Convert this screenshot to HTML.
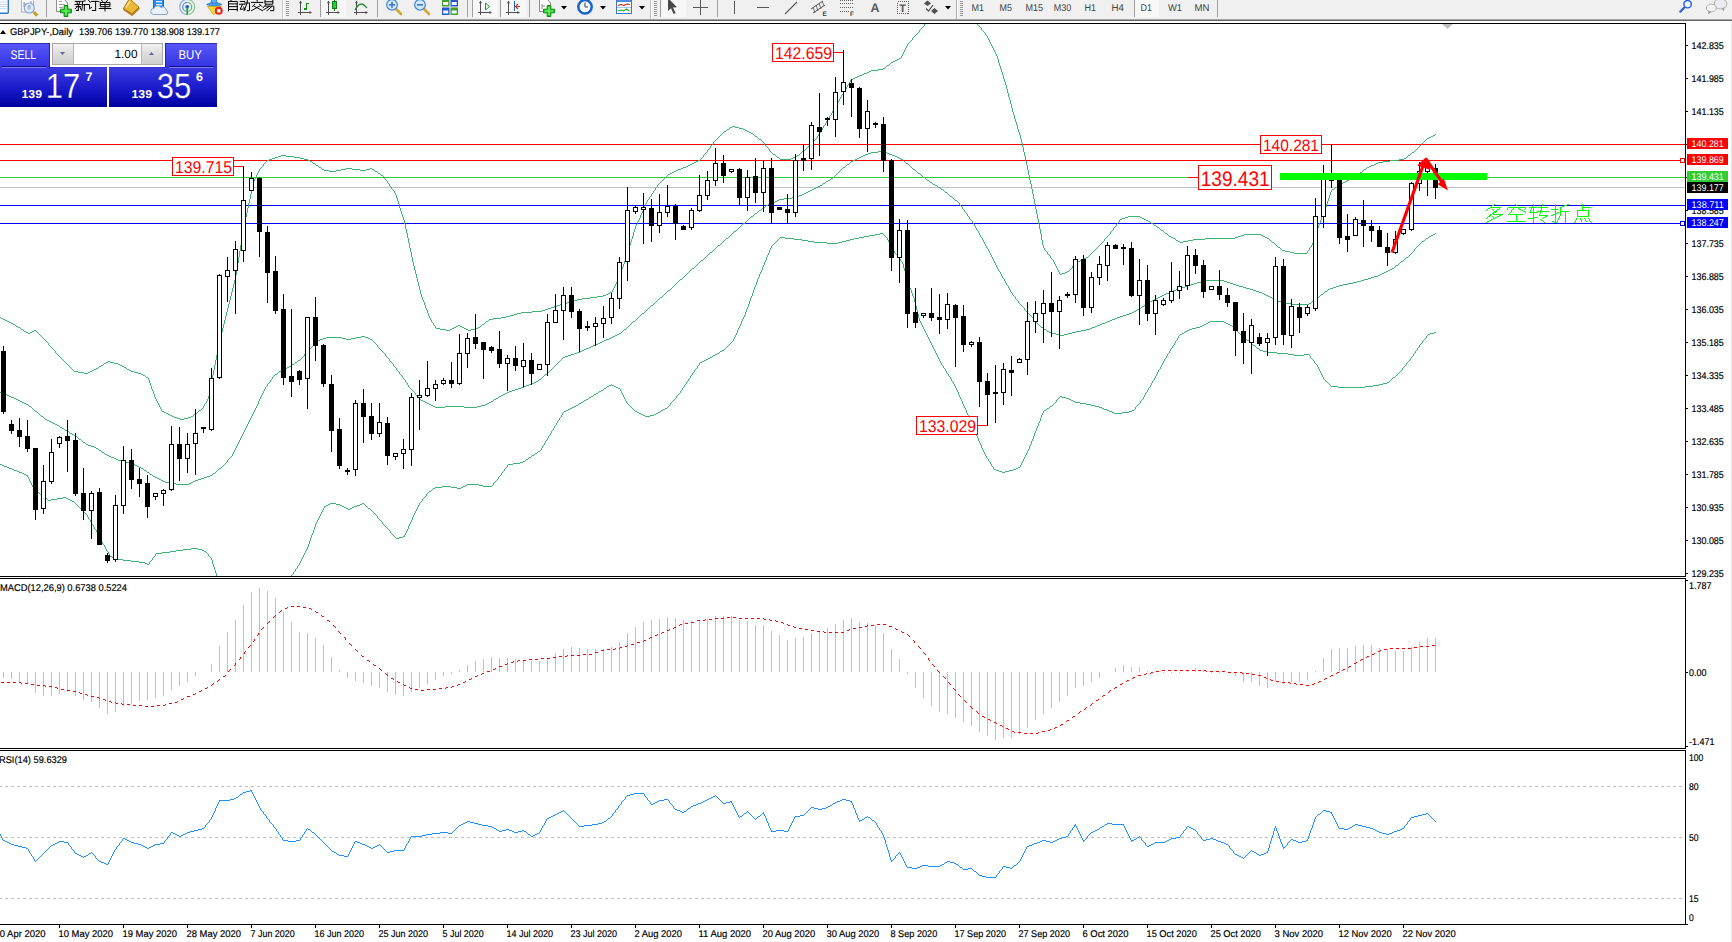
<!DOCTYPE html>
<html><head><meta charset="utf-8"><title>GBPJPY Daily</title>
<style>html,body{margin:0;padding:0;background:#fff;width:1732px;height:942px;overflow:hidden;font-family:"Liberation Sans",sans-serif}</style>
</head><body>
<svg width="1732" height="942" viewBox="0 0 1732 942" font-family="Liberation Sans, sans-serif" text-rendering="geometricPrecision" style="display:block">
<defs><clipPath id="mainclip"><rect x="0" y="24" width="1685" height="552"/></clipPath></defs>
<g shape-rendering="crispEdges">
<rect x="0" y="144" width="1685" height="1" fill="#ff0000" />
<rect x="0" y="160" width="1685" height="1" fill="#ff0000" />
<rect x="0" y="177" width="1188" height="1" fill="#32cd32" />
<rect x="1487" y="177" width="198" height="1" fill="#32cd32" />
<rect x="0" y="187" width="1685" height="1" fill="#c0c0c0" />
<rect x="0" y="205" width="1685" height="1" fill="#0000ff" />
<rect x="0" y="223" width="1685" height="1" fill="#0000ff" />
</g>
<path d="M868 153h3v1h-3zM887 153h2v1h-2zM84 373h4v1h-4zM138 373h3v1h-3zM802 151h2v1h-2zM878 151h6v1h-6zM21 329h2v1h-2zM440 329h6v1h-6zM450 329h2v1h-2zM466 329h2v1h-2zM471 329h4v1h-4zM624 329h2v1h-2zM1044 329h2v1h-2zM1086 329h4v1h-4zM1189 329h3v1h-3zM802 194h2v1h-2zM586 348h3v1h-3zM1257 348h2v1h-2zM560 304h4v1h-4zM1145 304h2v1h-2zM1291 304h18v1h-18zM122 461h4v1h-4zM523 461h2v1h-2zM62 428h2v1h-2zM24 331h2v1h-2zM32 331h2v1h-2zM1047 331h2v1h-2zM1076 331h5v1h-5zM1185 331h2v1h-2zM12 469h2v1h-2zM994 469h2v1h-2zM1013 469h3v1h-3zM99 450h2v1h-2zM751 216h2v1h-2zM1128 216h12v1h-12zM281 155h5v1h-5zM797 155h2v1h-2zM863 155h2v1h-2zM892 155h3v1h-3zM1408 155h2v1h-2zM11 397h3v1h-3zM589 397h2v1h-2zM1062 397h4v1h-4zM458 325h2v1h-2zM1097 325h3v1h-3zM1202 325h2v1h-2zM1230 325h2v1h-2zM770 203h2v1h-2zM0 392h2v1h-2zM507 392h2v1h-2zM880 233h3v1h-3zM1165 233h2v1h-2zM323 338h3v1h-3zM342 338h4v1h-4zM351 338h5v1h-5zM368 338h2v1h-2zM609 338h2v1h-2zM1120 219h2v1h-2zM1144 219h2v1h-2zM7 321h2v1h-2zM486 321h2v1h-2zM633 321h2v1h-2zM1107 321h3v1h-3zM1210 321h14v1h-14zM14 398h2v1h-2zM496 398h2v1h-2zM1066 398h3v1h-3zM591 346h2v1h-2zM1148 221h2v1h-2zM55 424h2v1h-2zM41 416h2v1h-2zM172 416h2v1h-2zM191 416h2v1h-2zM645 416h5v1h-5zM1388 270h2v1h-2zM608 293h2v1h-2zM1166 293h3v1h-3zM1262 293h2v1h-2zM11 323h2v1h-2zM1102 323h3v1h-3zM1206 323h2v1h-2zM1226 323h2v1h-2zM267 160h2v1h-2zM308 160h2v1h-2zM698 160h2v1h-2zM853 160h2v1h-2zM1390 160h9v1h-9zM1378 275h2v1h-2zM106 362h2v1h-2zM110 362h4v1h-4zM295 362h2v1h-2zM700 362h2v1h-2zM166 413h2v1h-2zM195 413h2v1h-2zM639 413h2v1h-2zM656 413h2v1h-2zM1114 413h8v1h-8zM1194 283h3v1h-3zM1230 283h3v1h-3zM1348 283h5v1h-5zM16 399h2v1h-2zM494 399h2v1h-2zM586 399h2v1h-2zM1069 399h2v1h-2zM126 462h4v1h-4zM520 462h3v1h-3zM24 403h2v1h-2zM427 403h2v1h-2zM487 403h2v1h-2zM579 403h2v1h-2zM1080 403h6v1h-6zM580 351h2v1h-2zM720 351h2v1h-2zM1263 351h4v1h-4zM1171 291h2v1h-2zM1256 291h3v1h-3zM1325 291h2v1h-2zM595 344h3v1h-3zM524 386h2v1h-2zM607 386h2v1h-2zM614 386h2v1h-2zM1331 386h7v1h-7zM1365 386h8v1h-8zM887 65h2v1h-2zM1062 273h3v1h-3zM1382 273h2v1h-2zM164 412h2v1h-2zM637 412h2v1h-2zM658 412h2v1h-2zM1112 412h2v1h-2zM1122 412h7v1h-7zM582 298h8v1h-8zM1156 298h2v1h-2zM1272 298h2v1h-2zM780 237h5v1h-5zM859 237h5v1h-5zM1171 237h2v1h-2zM1235 237h3v1h-3zM1265 237h2v1h-2zM871 152h7v1h-7zM884 152h3v1h-3zM1412 152h2v1h-2zM17 471h2v1h-2zM999 471h3v1h-3zM1005 471h4v1h-4zM568 409h2v1h-2zM663 409h2v1h-2zM1104 409h3v1h-3zM577 299h5v1h-5zM1154 299h2v1h-2zM1274 299h2v1h-2zM1176 289h3v1h-3zM1250 289h3v1h-3zM1328 289h2v1h-2zM29 406h2v1h-2zM433 406h2v1h-2zM445 406h19v1h-19zM477 406h4v1h-4zM574 406h2v1h-2zM1050 406h2v1h-2zM1095 406h4v1h-4zM442 486h9v1h-9zM463 486h2v1h-2zM483 486h9v1h-9zM749 132h2v1h-2zM65 430h2v1h-2zM574 353h3v1h-3zM717 353h2v1h-2zM1277 353h11v1h-11zM567 302h3v1h-3zM1148 302h2v1h-2zM1281 302h5v1h-5zM501 317h5v1h-5zM1117 317h3v1h-3zM597 296h6v1h-6zM1160 296h2v1h-2zM1268 296h2v1h-2zM176 550h7v1h-7zM202 550h2v1h-2zM156 553h6v1h-6zM94 369h2v1h-2zM127 369h2v1h-2zM283 369h2v1h-2zM16 326h2v1h-2zM456 326h2v1h-2zM460 326h2v1h-2zM1095 326h2v1h-2zM1200 326h2v1h-2zM115 558h3v1h-3zM1082 259h2v1h-2zM779 199h5v1h-5zM816 187h2v1h-2zM938 187h2v1h-2zM1335 187h2v1h-2zM436 328h4v1h-4zM452 328h2v1h-2zM464 328h2v1h-2zM475 328h3v1h-3zM1090 328h2v1h-2zM1192 328h4v1h-4zM551 307h3v1h-3zM923 177h2v1h-2zM1353 177h2v1h-2zM1078 261h2v1h-2zM1401 261h2v1h-2zM804 193h2v1h-2zM361 336h4v1h-4zM613 336h2v1h-2zM1349 179h2v1h-2zM755 213h2v1h-2zM512 390h3v1h-3zM601 390h2v1h-2zM118 559h5v1h-5zM701 260h2v1h-2zM1080 260h2v1h-2zM1205 280h19v1h-19zM1361 280h3v1h-3zM593 345h2v1h-2zM1253 345h2v1h-2zM324 170h5v1h-5zM336 170h5v1h-5zM360 170h6v1h-6zM676 170h2v1h-2zM1185 286h3v1h-3zM1239 286h4v1h-4zM1336 286h3v1h-3zM18 327h2v1h-2zM454 327h2v1h-2zM462 327h2v1h-2zM478 327h2v1h-2zM1041 327h2v1h-2zM1092 327h3v1h-3zM1196 327h4v1h-4zM326 337h16v1h-16zM356 337h5v1h-5zM365 337h3v1h-3zM611 337h2v1h-2zM26 475h2v1h-2zM210 475h2v1h-2zM584 349h2v1h-2zM20 401h2v1h-2zM423 401h2v1h-2zM491 401h2v1h-2zM1073 401h2v1h-2zM168 414h2v1h-2zM641 414h2v1h-2zM654 414h2v1h-2zM275 157h3v1h-3zM294 157h6v1h-6zM777 157h2v1h-2zM793 157h2v1h-2zM859 157h2v1h-2zM897 157h2v1h-2zM514 314h3v1h-3zM1126 314h3v1h-3zM118 460h4v1h-4zM615 335h2v1h-2zM1060 335h4v1h-4zM111 457h3v1h-3zM529 457h2v1h-2zM22 402h2v1h-2zM425 402h2v1h-2zM489 402h2v1h-2zM581 402h2v1h-2zM1075 402h5v1h-5zM435 407h10v1h-10zM464 407h13v1h-13zM572 407h2v1h-2zM1099 407h3v1h-3zM96 368h2v1h-2zM285 368h2v1h-2zM1191 284h3v1h-3zM1233 284h3v1h-3zM1343 284h5v1h-5zM199 410h2v1h-2zM566 410h2v1h-2zM661 410h2v1h-2zM1044 410h2v1h-2zM1107 410h2v1h-2zM1132 410h2v1h-2zM826 181h2v1h-2zM1345 181h2v1h-2zM298 360h2v1h-2zM704 360h2v1h-2zM313 163h2v1h-2zM692 163h2v1h-2zM906 163h2v1h-2zM1376 163h2v1h-2zM1197 282h4v1h-4zM1227 282h3v1h-3zM1353 282h4v1h-4zM1182 287h3v1h-3zM1243 287h3v1h-3zM1333 287h3v1h-3zM933 184h2v1h-2zM1390 269h2v1h-2zM159 479h2v1h-2zM198 479h3v1h-3zM1067 271h2v1h-2zM1386 271h2v1h-2zM183 549h8v1h-8zM198 549h4v1h-4zM18 400h2v1h-2zM421 400h2v1h-2zM584 400h2v1h-2zM1071 400h2v1h-2zM808 241h6v1h-6zM842 241h4v1h-4zM1178 241h2v1h-2zM1183 241h5v1h-5zM1422 241h2v1h-2zM174 417h3v1h-3zM188 417h3v1h-3zM35 411h2v1h-2zM162 411h2v1h-2zM564 411h2v1h-2zM635 411h2v1h-2zM1109 411h3v1h-3zM1129 411h3v1h-3zM570 408h2v1h-2zM665 408h2v1h-2zM1047 408h2v1h-2zM1102 408h2v1h-2zM603 295h3v1h-3zM1162 295h2v1h-2zM1266 295h2v1h-2zM726 238h2v1h-2zM785 238h9v1h-9zM854 238h5v1h-5zM1173 238h2v1h-2zM1205 238h30v1h-30zM1267 238h2v1h-2zM1426 238h2v1h-2zM176 484h13v1h-13zM467 484h12v1h-12zM78 372h6v1h-6zM88 372h2v1h-2zM134 372h4v1h-4zM1396 265h2v1h-2zM534 382h2v1h-2zM1387 382h2v1h-2zM45 498h2v1h-2zM57 498h6v1h-6zM66 498h2v1h-2zM139 562h6v1h-6zM794 239h8v1h-8zM850 239h4v1h-4zM1193 239h12v1h-12zM810 190h2v1h-2zM814 242h13v1h-13zM838 242h4v1h-4zM1180 242h3v1h-3zM1272 242h2v1h-2zM1282 250h3v1h-3zM2 393h2v1h-2zM505 393h2v1h-2zM596 393h2v1h-2zM272 158h3v1h-3zM300 158h4v1h-4zM791 158h2v1h-2zM857 158h2v1h-2zM899 158h2v1h-2zM1404 158h2v1h-2zM680 279h2v1h-2zM1364 279h4v1h-4zM1125 217h3v1h-3zM1140 217h2v1h-2zM34 330h2v1h-2zM446 330h4v1h-4zM468 330h3v1h-3zM1081 330h5v1h-5zM1187 330h2v1h-2zM509 391h3v1h-3zM599 391h2v1h-2zM692 268h2v1h-2zM1392 268h2v1h-2zM1294 253h13v1h-13zM114 458h2v1h-2zM869 235h6v1h-6zM1241 235h3v1h-3zM1261 235h2v1h-2zM1431 235h2v1h-2zM19 472h3v1h-3zM147 472h2v1h-2zM1002 472h3v1h-3zM743 223h2v1h-2zM1151 223h2v1h-2zM0 464h2v1h-2zM133 464h2v1h-2zM508 464h5v1h-5zM574 300h3v1h-3zM1152 300h2v1h-2zM1276 300h2v1h-2zM1313 300h2v1h-2zM431 405h2v1h-2zM481 405h4v1h-4zM576 405h2v1h-2zM1091 405h4v1h-4zM538 451h2v1h-2zM105 454h2v1h-2zM526 385h3v1h-3zM609 385h2v1h-2zM612 385h2v1h-2zM1373 385h6v1h-6zM734 231h2v1h-2zM563 357h2v1h-2zM710 357h2v1h-2zM49 421h2v1h-2zM322 169h2v1h-2zM341 169h5v1h-5zM352 169h8v1h-8zM366 169h4v1h-4zM372 169h2v1h-2zM678 169h3v1h-3zM913 169h2v1h-2zM1364 169h2v1h-2zM532 311h10v1h-10zM1134 311h2v1h-2zM871 70h7v1h-7zM1368 278h3v1h-3zM177 418h3v1h-3zM184 418h4v1h-4zM170 483h6v1h-6zM189 483h2v1h-2zM1179 288h3v1h-3zM1246 288h4v1h-4zM1330 288h3v1h-3zM155 477h2v1h-2zM204 477h3v1h-3zM568 355h3v1h-3zM713 355h2v1h-2zM1294 355h10v1h-10zM814 188h2v1h-2zM606 294h2v1h-2zM1164 294h2v1h-2zM1264 294h2v1h-2zM1321 294h2v1h-2zM399 537h4v1h-4zM124 367h2v1h-2zM287 367h2v1h-2zM74 371h4v1h-4zM90 371h2v1h-2zM131 371h3v1h-3zM279 371h2v1h-2zM429 491h2v1h-2zM806 192h2v1h-2zM945 192h2v1h-2zM727 129h2v1h-2zM743 129h2v1h-2zM1084 258h2v1h-2zM797 196h2v1h-2zM950 196h2v1h-2zM772 202h3v1h-3zM63 497h3v1h-3zM1285 251h5v1h-5zM510 315h4v1h-4zM1123 315h3v1h-3zM131 561h8v1h-8zM1060 274h2v1h-2zM1380 274h2v1h-2zM529 384h2v1h-2zM1379 384h4v1h-4zM773 154h2v1h-2zM865 154h3v1h-3zM889 154h3v1h-3zM320 339h3v1h-3zM346 339h5v1h-5zM370 339h2v1h-2zM606 339h3v1h-3zM9 468h3v1h-3zM141 468h2v1h-2zM219 468h2v1h-2zM1016 468h2v1h-2zM26 332h2v1h-2zM30 332h2v1h-2zM1049 332h3v1h-3zM1072 332h4v1h-4zM1434 332h2v1h-2zM316 165h2v1h-2zM688 165h2v1h-2zM1371 165h3v1h-3zM319 167h2v1h-2zM683 167h3v1h-3zM843 167h2v1h-2zM1367 167h2v1h-2zM99 366h2v1h-2zM122 366h2v1h-2zM289 366h2v1h-2zM4 466h3v1h-3zM137 466h2v1h-2zM718 245h2v1h-2zM9 396h2v1h-2zM499 396h2v1h-2zM591 396h2v1h-2zM1060 396h2v1h-2zM708 358h2v1h-2zM521 312h11v1h-11zM1132 312h2v1h-2zM571 354h3v1h-3zM715 354h2v1h-2zM1288 354h6v1h-6zM1304 354h5v1h-5zM739 128h4v1h-4zM668 290h2v1h-2zM1173 290h3v1h-3zM1253 290h3v1h-3zM766 205h2v1h-2zM170 551h6v1h-6zM204 551h2v1h-2zM864 236h5v1h-5zM1169 236h2v1h-2zM1238 236h3v1h-3zM1263 236h2v1h-2zM1429 236h2v1h-2zM610 292h2v1h-2zM1169 292h2v1h-2zM1259 292h3v1h-3zM435 487h7v1h-7zM451 487h6v1h-6zM461 487h2v1h-2zM518 388h3v1h-3zM604 388h2v1h-2zM618 388h2v1h-2zM1076 262h2v1h-2zM1 318h2v1h-2zM493 318h8v1h-8zM1115 318h2v1h-2zM545 309h3v1h-3zM1137 309h2v1h-2zM346 508h2v1h-2zM350 508h2v1h-2zM368 508h2v1h-2zM784 198h8v1h-8zM589 347h2v1h-2zM755 136h2v1h-2zM1431 136h2v1h-2zM433 488h2v1h-2zM457 488h4v1h-4zM324 506h2v1h-2zM342 506h2v1h-2zM354 506h3v1h-3zM13 324h2v1h-2zM482 324h2v1h-2zM1100 324h2v1h-2zM1204 324h2v1h-2zM1228 324h2v1h-2zM775 201h2v1h-2zM92 370h2v1h-2zM129 370h2v1h-2zM281 370h2v1h-2zM710 252h2v1h-2zM1290 252h4v1h-4zM1201 281h4v1h-4zM1224 281h3v1h-3zM1357 281h4v1h-4zM329 171h7v1h-7zM375 171h2v1h-2zM674 171h2v1h-2zM310 161h2v1h-2zM696 161h2v1h-2zM851 161h2v1h-2zM1383 161h7v1h-7zM28 333h2v1h-2zM619 333h2v1h-2zM1052 333h4v1h-4zM1068 333h4v1h-4zM1182 333h2v1h-2zM1430 333h4v1h-4zM521 387h3v1h-3zM616 387h2v1h-2zM1338 387h27v1h-27zM396 538h3v1h-3zM828 180h2v1h-2zM927 180h2v1h-2zM1347 180h2v1h-2zM706 359h2v1h-2zM14 470h3v1h-3zM144 470h2v1h-2zM996 470h3v1h-3zM1009 470h4v1h-4zM577 352h3v1h-3zM1267 352h10v1h-10zM7 467h2v1h-2zM139 467h2v1h-2zM1018 467h2v1h-2zM112 557h3v1h-3zM799 195h3v1h-3zM1429 137h2v1h-2zM582 350h2v1h-2zM722 350h2v1h-2zM1260 350h3v1h-3zM812 189h2v1h-2zM941 189h2v1h-2zM1332 189h2v1h-2zM515 389h3v1h-3zM4 394h3v1h-3zM503 394h2v1h-2zM594 394h2v1h-2zM875 234h5v1h-5zM1244 234h17v1h-17zM1433 234h2v1h-2zM328 504h2v1h-2zM336 504h4v1h-4zM360 504h2v1h-2zM278 156h3v1h-3zM286 156h8v1h-8zM795 156h2v1h-2zM861 156h2v1h-2zM895 156h2v1h-2zM763 207h2v1h-2zM123 560h8v1h-8zM141 374h2v1h-2zM275 374h2v1h-2zM545 374h2v1h-2zM94 447h2v1h-2zM24 474h2v1h-2zM150 474h2v1h-2zM1188 285h3v1h-3zM1236 285h3v1h-3zM1339 285h4v1h-4zM759 210h2v1h-2zM1122 218h3v1h-3zM1142 218h2v1h-2zM116 459h2v1h-2zM526 459h2v1h-2zM269 159h3v1h-3zM304 159h4v1h-4zM780 159h11v1h-11zM855 159h2v1h-2zM901 159h2v1h-2zM1399 159h5v1h-5zM1065 272h2v1h-2zM1384 272h2v1h-2zM694 162h2v1h-2zM1378 162h5v1h-5zM570 301h4v1h-4zM1150 301h2v1h-2zM1278 301h3v1h-3zM7 395h2v1h-2zM501 395h2v1h-2zM808 191h2v1h-2zM672 172h2v1h-2zM1360 172h2v1h-2zM161 480h2v1h-2zM195 480h3v1h-3zM9 322h2v1h-2zM1105 322h2v1h-2zM1208 322h2v1h-2zM1224 322h2v1h-2zM802 240h6v1h-6zM846 240h4v1h-4zM1176 240h2v1h-2zM1188 240h5v1h-5zM1157 227h2v1h-2zM883 68h2v1h-2zM3 319h2v1h-2zM489 319h4v1h-4zM1112 319h3v1h-3zM831 178h2v1h-2zM1351 178h2v1h-2zM60 427h2v1h-2zM539 379h2v1h-2zM792 197h5v1h-5zM51 499h6v1h-6zM68 499h2v1h-2zM564 303h3v1h-3zM1286 303h5v1h-5zM1309 303h2v1h-2zM506 316h4v1h-4zM1120 316h3v1h-3zM531 383h3v1h-3zM1383 383h4v1h-4zM153 476h2v1h-2zM207 476h3v1h-3zM163 481h2v1h-2zM193 481h2v1h-2zM827 243h11v1h-11zM130 463h3v1h-3zM513 463h7v1h-7zM598 343h2v1h-2zM165 482h5v1h-5zM191 482h2v1h-2zM1278 247h2v1h-2zM554 306h3v1h-3zM1142 306h2v1h-2zM465 485h2v1h-2zM479 485h4v1h-4zM820 185h2v1h-2zM935 185h2v1h-2zM1338 185h2v1h-2zM724 131h2v1h-2zM747 131h2v1h-2zM732 126h3v1h-3zM768 204h2v1h-2zM1433 135h2v1h-2zM109 456h2v1h-2zM565 356h3v1h-3zM690 164h2v1h-2zM847 164h2v1h-2zM1374 164h2v1h-2zM668 174h2v1h-2zM557 305h3v1h-3zM651 305h2v1h-2zM108 361h2v1h-2zM702 361h2v1h-2zM617 334h2v1h-2zM1056 334h4v1h-4zM1064 334h4v1h-4zM1180 334h2v1h-2zM1240 334h2v1h-2zM1428 334h2v1h-2zM26 404h2v1h-2zM429 404h2v1h-2zM485 404h2v1h-2zM1086 404h5v1h-5zM72 501h2v1h-2zM88 445h3v1h-3zM57 425h2v1h-2zM40 494h2v1h-2zM91 446h3v1h-3zM330 503h6v1h-6zM362 503h2v1h-2zM1371 277h3v1h-3zM1086 257h2v1h-2zM1406 257h2v1h-2zM326 505h2v1h-2zM340 505h2v1h-2zM357 505h3v1h-3zM381 175h2v1h-2zM1356 175h2v1h-2zM83 442h2v1h-2zM191 548h7v1h-7zM542 310h3v1h-3zM878 69h5v1h-5zM48 500h3v1h-3zM70 500h2v1h-2zM102 452h2v1h-2zM101 365h2v1h-2zM120 365h2v1h-2zM348 509h2v1h-2zM590 297h7v1h-7zM660 297h2v1h-2zM1158 297h2v1h-2zM1270 297h2v1h-2zM1317 297h2v1h-2zM118 364h2v1h-2zM292 364h2v1h-2zM891 62h2v1h-2zM859 75h3v1h-3zM823 183h2v1h-2zM1341 183h2v1h-2zM162 552h8v1h-8zM79 439h2v1h-2zM600 342h2v1h-2zM145 563h2v1h-2zM344 507h2v1h-2zM352 507h2v1h-2zM1161 230h2v1h-2zM1374 276h4v1h-4zM869 71h2v1h-2zM864 73h3v1h-3zM170 415h2v1h-2zM643 415h2v1h-2zM650 415h4v1h-4zM730 127h2v1h-2zM735 127h4v1h-4zM548 308h3v1h-3zM1139 308h2v1h-2zM147 564h2v1h-2zM2 465h2v1h-2zM135 465h2v1h-2zM107 455h2v1h-2zM532 455h2v1h-2zM818 186h2v1h-2zM403 536h2v1h-2zM96 448h2v1h-2zM517 313h4v1h-4zM642 313h2v1h-2zM1129 313h3v1h-3zM67 431h2v1h-2zM86 444h2v1h-2zM536 381h2v1h-2zM535 453h2v1h-2zM45 419h2v1h-2zM180 419h4v1h-4zM857 76h2v1h-2zM853 78h2v1h-2zM143 375h2v1h-2zM51 422h2v1h-2zM318 340h2v1h-2zM604 340h2v1h-2zM1247 340h2v1h-2zM867 72h2v1h-2zM22 473h2v1h-2zM213 473h2v1h-2zM146 377h2v1h-2zM1393 377h2v1h-2zM759 139h2v1h-2zM1146 220h2v1h-2zM378 173h2v1h-2zM670 173h2v1h-2zM918 173h2v1h-2zM851 79h2v1h-2zM855 77h2v1h-2zM5 320h2v1h-2zM1110 320h2v1h-2zM777 200h2v1h-2zM955 200h2v1h-2zM346 168h6v1h-6zM370 168h2v1h-2zM681 168h2v1h-2zM893 61h2v1h-2zM602 341h2v1h-2zM1427 138h2v1h-2zM1154 225h2v1h-2zM35 490h2v1h-2zM686 166h2v1h-2zM1369 166h2v1h-2zM899 58h2v1h-2zM104 363h2v1h-2zM114 363h4v1h-4zM70 433h2v1h-2zM47 420h2v1h-2zM157 478h2v1h-2zM201 478h3v1h-3zM75 436h2v1h-2zM53 423h2v1h-2zM745 130h2v1h-2zM930 182h2v1h-2zM1343 182h2v1h-2zM897 59h2v1h-2zM72 434h2v1h-2zM751 133h2v1h-2zM895 60h2v1h-2zM862 74h2v1h-2zM110 556h2v1h-2zM943 190h1v1h-1zM943 366h1v2h-1zM829 116h1v2h-1zM383 176h1v1h-1zM383 352h1v1h-1zM383 524h1v1h-1zM915 35h1v1h-1zM915 170h1v1h-1zM915 302h1v4h-1zM651 194h1v2h-1zM212 375h1v5h-1zM212 474h1v1h-1zM212 560h1v4h-1zM1019 132h1v3h-1zM1019 303h1v1h-1zM1119 220h1v2h-1zM384 177h1v2h-1zM384 353h1v1h-1zM384 525h1v1h-1zM947 193h1v1h-1zM947 373h1v1h-1zM545 441h1v2h-1zM415 270h1v4h-1zM415 393h1v2h-1zM415 511h1v2h-1zM1021 139h1v4h-1zM1021 305h1v1h-1zM1021 463h1v2h-1zM757 137h1v1h-1zM757 212h1v1h-1zM757 279h1v3h-1zM770 151h1v1h-1zM770 248h1v2h-1zM667 175h1v1h-1zM667 291h1v1h-1zM667 407h1v1h-1zM1311 245h1v2h-1zM1311 302h1v1h-1zM1311 358h1v1h-1zM948 194h1v1h-1zM948 374h1v2h-1zM1022 143h1v4h-1zM1022 306h1v1h-1zM1022 461h1v2h-1zM987 36h1v2h-1zM987 248h1v1h-1zM987 458h1v1h-1zM959 203h1v2h-1zM959 395h1v2h-1zM1422 143h1v1h-1zM1422 341h1v2h-1zM825 123h1v2h-1zM825 182h1v1h-1zM43 338h1v1h-1zM43 417h1v1h-1zM43 496h1v1h-1zM218 346h1v4h-1zM218 469h1v1h-1zM771 152h1v1h-1zM771 246h1v2h-1zM1359 173h1v1h-1zM1056 266h1v2h-1zM1056 400h1v2h-1zM305 353h1v1h-1zM305 551h1v2h-1zM635 226h1v3h-1zM635 320h1v1h-1zM1009 97h1v3h-1zM1009 288h1v2h-1zM411 252h1v5h-1zM411 389h1v1h-1zM411 520h1v2h-1zM1160 229h1v1h-1zM1160 367h1v2h-1zM319 516h1v2h-1zM973 223h1v1h-1zM973 427h1v2h-1zM541 378h1v1h-1zM541 448h1v2h-1zM1011 104h1v4h-1zM1011 292h1v1h-1zM1010 100h1v4h-1zM1010 290h1v2h-1zM1036 209h1v5h-1zM1036 322h1v1h-1zM1036 428h1v3h-1zM684 276h1v1h-1zM684 385h1v2h-1zM644 206h1v2h-1zM644 312h1v1h-1zM1322 215h1v2h-1zM1322 375h1v2h-1zM1013 112h1v3h-1zM1013 295h1v1h-1zM300 359h1v1h-1zM300 561h1v2h-1zM925 178h1v1h-1zM925 331h1v2h-1zM480 326h1v1h-1zM1419 146h1v1h-1zM1419 244h1v1h-1zM1419 345h1v2h-1zM1425 140h1v1h-1zM1425 239h1v1h-1zM1425 338h1v1h-1zM830 115h1v1h-1zM830 179h1v1h-1zM902 54h1v2h-1zM902 262h1v2h-1zM801 152h1v1h-1zM848 84h1v1h-1zM234 280h1v4h-1zM234 450h1v2h-1zM395 193h1v2h-1zM395 367h1v1h-1zM395 537h1v1h-1zM1014 115h1v4h-1zM1014 296h1v1h-1zM291 365h1v1h-1zM291 575h1v1h-1zM643 208h1v3h-1zM1024 152h1v4h-1zM1024 308h1v2h-1zM1024 457h1v2h-1zM87 515h1v2h-1zM208 396h1v3h-1zM208 554h1v2h-1zM396 195h1v3h-1zM396 368h1v2h-1zM257 173h1v2h-1zM257 404h1v2h-1zM1039 224h1v5h-1zM1039 325h1v1h-1zM1039 421h1v2h-1zM248 203h1v5h-1zM248 422h1v2h-1zM1327 201h1v3h-1zM1327 290h1v1h-1zM1327 382h1v1h-1zM680 391h1v2h-1zM759 274h1v3h-1zM623 264h1v3h-1zM623 330h1v1h-1zM623 395h1v2h-1zM1415 150h1v1h-1zM1415 248h1v1h-1zM1415 351h1v2h-1zM389 184h1v2h-1zM389 359h1v2h-1zM389 530h1v1h-1zM407 233h1v5h-1zM407 383h1v2h-1zM407 529h1v2h-1zM936 353h1v2h-1zM844 90h1v2h-1zM230 296h1v4h-1zM230 457h1v1h-1zM889 64h1v1h-1zM889 242h1v2h-1zM1028 170h1v5h-1zM1028 313h1v1h-1zM1028 449h1v2h-1zM765 145h1v1h-1zM765 206h1v1h-1zM765 260h1v2h-1zM1146 392h1v1h-1zM675 284h1v1h-1zM675 398h1v1h-1zM312 162h1v1h-1zM312 346h1v1h-1zM312 533h1v2h-1zM1038 219h1v5h-1zM1038 324h1v1h-1zM1038 423h1v3h-1zM1004 79h1v3h-1zM1004 279h1v2h-1zM50 346h1v1h-1zM204 404h1v2h-1zM1390 380h1v1h-1zM503 471h1v1h-1zM1102 242h1v1h-1zM1410 154h1v1h-1zM1410 254h1v1h-1zM1410 358h1v2h-1zM1007 89h1v4h-1zM1007 285h1v1h-1zM737 229h1v1h-1zM737 330h1v3h-1zM225 316h1v4h-1zM225 463h1v1h-1zM105 547h1v2h-1zM1280 248h1v1h-1zM998 59h1v4h-1zM998 269h1v2h-1zM420 290h1v4h-1zM420 399h1v1h-1zM420 502h1v1h-1zM828 118h1v2h-1zM694 267h1v1h-1zM694 370h1v2h-1zM108 552h1v2h-1zM1001 69h1v3h-1zM1001 274h1v2h-1zM72 369h1v1h-1zM1118 222h1v1h-1zM956 388h1v2h-1zM544 375h1v1h-1zM544 443h1v2h-1zM498 397h1v1h-1zM498 477h1v2h-1zM1142 399h1v1h-1zM1002 72h1v3h-1zM1002 276h1v2h-1zM954 199h1v1h-1zM954 384h1v2h-1zM953 198h1v1h-1zM953 382h1v2h-1zM1314 237h1v3h-1zM1314 361h1v2h-1zM1074 264h1v1h-1zM488 320h1v1h-1zM239 251h1v6h-1zM239 440h1v2h-1zM217 350h1v5h-1zM217 470h1v1h-1zM376 344h1v1h-1zM376 515h1v1h-1zM1315 234h1v3h-1zM1315 299h1v1h-1zM1315 363h1v1h-1zM1113 228h1v2h-1zM824 125h1v1h-1zM634 229h1v3h-1zM634 410h1v1h-1zM1034 199h1v5h-1zM1034 319h1v2h-1zM1034 433h1v3h-1zM403 217h1v3h-1zM403 378h1v1h-1zM260 168h1v1h-1zM260 397h1v2h-1zM963 209h1v1h-1zM963 404h1v2h-1zM1030 180h1v4h-1zM1030 315h1v1h-1zM1030 444h1v2h-1zM306 352h1v1h-1zM306 549h1v2h-1zM964 210h1v2h-1zM964 406h1v2h-1zM79 507h1v1h-1zM1031 184h1v5h-1zM1031 316h1v1h-1zM1031 441h1v3h-1zM229 300h1v4h-1zM229 458h1v1h-1zM847 85h1v2h-1zM820 131h1v2h-1zM658 184h1v1h-1zM658 299h1v1h-1zM1055 264h1v2h-1zM1055 402h1v1h-1zM642 211h1v2h-1zM244 222h1v5h-1zM244 430h1v2h-1zM256 175h1v2h-1zM256 406h1v2h-1zM93 525h1v2h-1zM220 336h1v5h-1zM247 208h1v5h-1zM247 424h1v2h-1zM1326 204h1v3h-1zM1326 381h1v1h-1zM1043 245h1v3h-1zM1043 328h1v1h-1zM1043 411h1v2h-1zM758 138h1v1h-1zM758 211h1v1h-1zM758 277h1v2h-1zM631 239h1v3h-1zM631 323h1v1h-1zM631 407h1v1h-1zM97 532h1v2h-1zM916 34h1v1h-1zM916 171h1v1h-1zM916 306h1v4h-1zM843 92h1v2h-1zM994 50h1v2h-1zM994 261h1v2h-1zM409 243h1v5h-1zM409 387h1v1h-1zM409 524h1v2h-1zM945 369h1v2h-1zM1435 134h1v1h-1zM1435 233h1v1h-1zM32 408h1v1h-1zM32 485h1v2h-1zM385 179h1v1h-1zM385 354h1v2h-1zM385 526h1v1h-1zM991 44h1v2h-1zM991 255h1v2h-1zM991 464h1v2h-1zM203 406h1v2h-1zM985 33h1v2h-1zM985 244h1v2h-1zM985 454h1v2h-1zM161 409h1v2h-1zM1409 255h1v1h-1zM1409 360h1v1h-1zM550 370h1v1h-1zM550 433h1v2h-1zM386 180h1v1h-1zM386 356h1v1h-1zM386 527h1v1h-1zM617 280h1v2h-1zM606 387h1v1h-1zM714 141h1v1h-1zM714 249h1v1h-1zM1323 212h1v3h-1zM1323 293h1v1h-1zM1323 377h1v2h-1zM625 258h1v3h-1zM625 399h1v2h-1zM961 206h1v1h-1zM961 399h1v2h-1zM766 146h1v1h-1zM766 257h1v3h-1zM1235 329h1v1h-1zM839 99h1v2h-1zM839 171h1v1h-1zM885 67h1v1h-1zM885 236h1v1h-1zM903 52h1v2h-1zM903 160h1v1h-1zM903 264h1v4h-1zM224 320h1v4h-1zM224 464h1v1h-1zM836 104h1v2h-1zM836 174h1v1h-1zM1404 259h1v1h-1zM1404 366h1v1h-1zM807 147h1v1h-1zM1041 234h1v6h-1zM1041 415h1v3h-1zM906 46h1v2h-1zM906 275h1v3h-1zM1408 256h1v1h-1zM1408 361h1v1h-1zM425 305h1v3h-1zM425 496h1v1h-1zM238 257h1v6h-1zM238 442h1v2h-1zM1324 209h1v3h-1zM1324 292h1v1h-1zM1324 379h1v1h-1zM626 255h1v3h-1zM626 328h1v1h-1zM626 401h1v2h-1zM1330 192h1v3h-1zM1330 385h1v1h-1zM932 183h1v1h-1zM932 345h1v2h-1zM741 225h1v1h-1zM741 321h1v3h-1zM748 219h1v1h-1zM748 304h1v3h-1zM397 198h1v3h-1zM397 370h1v1h-1zM216 355h1v5h-1zM216 471h1v1h-1zM216 573h1v3h-1zM833 110h1v1h-1zM833 177h1v1h-1zM705 153h1v1h-1zM705 257h1v1h-1zM835 106h1v2h-1zM835 175h1v1h-1zM408 238h1v5h-1zM408 385h1v2h-1zM408 526h1v3h-1zM999 63h1v3h-1zM999 271h1v1h-1zM657 185h1v2h-1zM657 300h1v1h-1zM934 349h1v2h-1zM557 363h1v1h-1zM557 421h1v2h-1zM255 177h1v2h-1zM255 408h1v2h-1zM241 239h1v6h-1zM241 436h1v2h-1zM937 186h1v1h-1zM937 355h1v2h-1zM641 213h1v2h-1zM641 314h1v1h-1zM412 257h1v5h-1zM412 390h1v1h-1zM412 517h1v3h-1zM243 227h1v6h-1zM243 432h1v2h-1zM406 229h1v4h-1zM406 382h1v1h-1zM406 531h1v2h-1zM391 187h1v2h-1zM391 362h1v1h-1zM391 533h1v1h-1zM301 358h1v1h-1zM301 559h1v2h-1zM912 38h1v2h-1zM912 168h1v1h-1zM912 293h1v3h-1zM246 213h1v4h-1zM246 426h1v2h-1zM1042 240h1v5h-1zM1042 413h1v2h-1zM1003 75h1v4h-1zM1003 278h1v1h-1zM977 24h1v1h-1zM977 230h1v1h-1zM977 436h1v2h-1zM154 394h1v3h-1zM154 556h1v1h-1zM52 348h1v1h-1zM219 341h1v5h-1zM432 322h1v1h-1zM432 489h1v1h-1zM673 286h1v1h-1zM673 400h1v1h-1zM1337 186h1v1h-1zM53 349h1v1h-1zM1000 66h1v3h-1zM1000 272h1v2h-1zM39 334h1v1h-1zM39 414h1v1h-1zM39 493h1v1h-1zM1252 344h1v1h-1zM297 361h1v1h-1zM297 566h1v2h-1zM955 386h1v2h-1zM1418 147h1v1h-1zM1418 245h1v1h-1zM1418 347h1v1h-1zM398 201h1v3h-1zM398 371h1v1h-1zM919 30h1v2h-1zM919 318h1v3h-1zM616 282h1v2h-1zM252 185h1v4h-1zM252 414h1v2h-1zM1023 147h1v5h-1zM1023 307h1v1h-1zM1023 459h1v2h-1zM399 204h1v4h-1zM399 372h1v2h-1zM1242 335h1v1h-1zM924 24h1v2h-1zM924 329h1v2h-1zM1317 228h1v3h-1zM1317 365h1v2h-1zM250 194h1v5h-1zM250 418h1v2h-1zM1033 194h1v5h-1zM1033 318h1v1h-1zM1033 436h1v3h-1zM210 386h1v5h-1zM210 557h1v1h-1zM962 207h1v2h-1zM962 401h1v3h-1zM237 263h1v6h-1zM237 444h1v2h-1zM1329 195h1v3h-1zM1329 384h1v1h-1zM624 261h1v3h-1zM624 397h1v2h-1zM661 181h1v1h-1zM215 360h1v5h-1zM215 472h1v1h-1zM215 570h1v3h-1zM81 440h1v1h-1zM81 509h1v1h-1zM834 108h1v2h-1zM834 176h1v1h-1zM637 222h1v2h-1zM637 318h1v1h-1zM419 286h1v4h-1zM419 398h1v1h-1zM419 503h1v2h-1zM969 217h1v2h-1zM969 417h1v3h-1zM722 133h1v1h-1zM722 242h1v1h-1zM551 369h1v1h-1zM551 431h1v2h-1zM96 530h1v2h-1zM992 46h1v2h-1zM992 257h1v2h-1zM992 466h1v1h-1zM703 155h1v2h-1zM703 259h1v1h-1zM253 181h1v4h-1zM253 412h1v2h-1zM1427 335h1v1h-1zM267 384h1v2h-1zM227 308h1v4h-1zM227 460h1v2h-1zM993 48h1v2h-1zM993 259h1v2h-1zM993 467h1v2h-1zM547 373h1v1h-1zM547 438h1v2h-1zM240 245h1v6h-1zM240 438h1v2h-1zM976 228h1v2h-1zM976 434h1v2h-1zM901 56h1v2h-1zM901 261h1v1h-1zM764 143h1v2h-1zM764 262h1v3h-1zM689 271h1v1h-1zM689 378h1v1h-1zM1172 346h1v2h-1zM627 252h1v3h-1zM627 327h1v1h-1zM627 403h1v1h-1zM1029 175h1v5h-1zM1029 314h1v1h-1zM1029 446h1v3h-1zM245 217h1v5h-1zM245 428h1v2h-1zM1008 93h1v4h-1zM1008 286h1v2h-1zM422 297h1v3h-1zM422 499h1v2h-1zM251 189h1v5h-1zM251 416h1v2h-1zM296 568h1v1h-1zM727 346h1v1h-1zM1237 331h1v1h-1zM263 164h1v2h-1zM263 391h1v2h-1zM922 27h1v1h-1zM922 176h1v1h-1zM922 325h1v2h-1zM543 376h1v1h-1zM543 445h1v1h-1zM615 284h1v2h-1zM983 31h1v1h-1zM983 240h1v2h-1zM983 450h1v2h-1zM1320 220h1v3h-1zM1320 295h1v1h-1zM1320 371h1v2h-1zM1168 235h1v1h-1zM1168 353h1v1h-1zM152 389h1v2h-1zM152 475h1v1h-1zM152 558h1v2h-1zM752 293h1v3h-1zM428 313h1v3h-1zM428 492h1v1h-1zM404 220h1v4h-1zM404 379h1v1h-1zM404 535h1v1h-1zM1328 198h1v3h-1zM1328 383h1v1h-1zM481 325h1v1h-1zM1025 156h1v5h-1zM1025 310h1v1h-1zM1025 455h1v2h-1zM145 376h1v1h-1zM849 82h1v2h-1zM849 163h1v1h-1zM316 342h1v1h-1zM316 522h1v2h-1zM222 328h1v4h-1zM222 466h1v1h-1zM772 153h1v1h-1zM772 245h1v1h-1zM1164 232h1v1h-1zM1164 359h1v2h-1zM149 380h1v3h-1zM149 473h1v1h-1zM149 562h1v2h-1zM393 190h1v1h-1zM393 364h1v2h-1zM393 535h1v1h-1zM1148 388h1v2h-1zM700 159h1v1h-1zM700 261h1v1h-1zM418 282h1v4h-1zM418 397h1v1h-1zM418 505h1v2h-1zM214 365h1v5h-1zM214 567h1v3h-1zM414 266h1v4h-1zM414 392h1v1h-1zM414 513h1v2h-1zM1426 139h1v1h-1zM1426 336h1v2h-1zM979 26h1v1h-1zM979 233h1v2h-1zM979 441h1v2h-1zM28 405h1v1h-1zM28 477h1v2h-1zM1144 305h1v1h-1zM1144 395h1v2h-1zM731 234h1v1h-1zM731 342h1v1h-1zM691 269h1v1h-1zM691 375h1v1h-1zM1032 189h1v5h-1zM1032 317h1v1h-1zM1032 439h1v2h-1zM1094 250h1v1h-1zM1167 234h1v1h-1zM1167 354h1v2h-1zM779 158h1v1h-1zM779 238h1v1h-1zM904 50h1v2h-1zM904 161h1v1h-1zM904 268h1v3h-1zM262 166h1v1h-1zM262 393h1v2h-1zM1403 260h1v1h-1zM1403 367h1v1h-1zM1140 401h1v2h-1zM197 412h1v1h-1zM1319 223h1v2h-1zM1319 296h1v1h-1zM1319 369h1v2h-1zM970 219h1v1h-1zM970 420h1v2h-1zM907 44h1v2h-1zM907 278h1v4h-1zM800 153h1v1h-1zM751 296h1v2h-1zM928 337h1v2h-1zM1398 264h1v1h-1zM1398 373h1v1h-1zM1035 204h1v5h-1zM1035 321h1v1h-1zM1035 431h1v2h-1zM1135 407h1v2h-1zM1046 251h1v1h-1zM1046 330h1v1h-1zM1046 409h1v1h-1zM745 222h1v1h-1zM745 312h1v3h-1zM622 267h1v2h-1zM622 331h1v1h-1zM622 393h1v2h-1zM679 280h1v1h-1zM679 393h1v1h-1zM315 164h1v1h-1zM315 343h1v1h-1zM315 524h1v3h-1zM698 263h1v1h-1zM698 365h1v1h-1zM1015 119h1v3h-1zM1015 297h1v2h-1zM1106 237h1v1h-1zM1414 151h1v1h-1zM1414 249h1v2h-1zM1414 353h1v1h-1zM1163 231h1v1h-1zM1163 361h1v2h-1zM816 138h1v1h-1zM213 370h1v5h-1zM213 564h1v3h-1zM502 472h1v1h-1zM1101 243h1v1h-1zM892 248h1v2h-1zM1420 145h1v1h-1zM1420 243h1v1h-1zM1420 344h1v1h-1zM842 94h1v1h-1zM842 168h1v1h-1zM34 410h1v1h-1zM34 489h1v1h-1zM893 250h1v1h-1zM1159 228h1v1h-1zM1159 369h1v1h-1zM1117 223h1v1h-1zM23 330h1v1h-1zM390 186h1v1h-1zM390 361h1v1h-1zM390 531h1v2h-1zM423 300h1v2h-1zM423 498h1v1h-1zM629 245h1v3h-1zM629 325h1v1h-1zM629 405h1v1h-1zM1027 165h1v5h-1zM1027 312h1v1h-1zM1027 451h1v2h-1zM886 66h1v1h-1zM886 237h1v1h-1zM1411 153h1v1h-1zM1411 253h1v1h-1zM1411 357h1v1h-1zM427 310h1v3h-1zM427 493h1v1h-1zM1405 258h1v1h-1zM1405 365h1v1h-1zM1402 368h1v2h-1zM663 179h1v1h-1zM663 295h1v1h-1zM749 218h1v1h-1zM749 301h1v3h-1zM416 274h1v4h-1zM416 395h1v1h-1zM416 509h1v2h-1zM750 217h1v1h-1zM750 298h1v3h-1zM553 367h1v1h-1zM553 428h1v2h-1zM1178 336h1v2h-1zM148 378h1v2h-1zM1058 270h1v2h-1zM1058 398h1v1h-1zM984 32h1v1h-1zM984 242h1v2h-1zM984 452h1v2h-1zM314 344h1v1h-1zM314 527h1v3h-1zM1413 251h1v1h-1zM1413 354h1v2h-1zM655 188h1v2h-1zM655 302h1v1h-1zM1162 363h1v2h-1zM417 278h1v4h-1zM417 396h1v1h-1zM417 507h1v2h-1zM302 357h1v1h-1zM302 557h1v2h-1zM840 97h1v2h-1zM840 170h1v1h-1zM56 353h1v1h-1zM1412 252h1v1h-1zM1412 356h1v1h-1zM382 351h1v1h-1zM382 522h1v2h-1zM1020 135h1v4h-1zM1020 304h1v1h-1zM1020 465h1v2h-1zM549 371h1v1h-1zM549 435h1v1h-1zM638 220h1v2h-1zM638 317h1v1h-1zM57 354h1v1h-1zM716 139h1v1h-1zM716 247h1v1h-1zM713 142h1v2h-1zM713 250h1v1h-1zM1158 370h1v2h-1zM838 101h1v1h-1zM838 172h1v1h-1zM1334 188h1v1h-1zM957 201h1v1h-1zM957 390h1v2h-1zM989 40h1v2h-1zM989 251h1v2h-1zM989 461h1v1h-1zM754 135h1v1h-1zM754 214h1v1h-1zM754 287h1v3h-1zM20 328h1v1h-1zM958 202h1v1h-1zM958 392h1v3h-1zM424 302h1v3h-1zM424 497h1v1h-1zM556 364h1v1h-1zM556 423h1v2h-1zM972 221h1v2h-1zM972 424h1v3h-1zM975 226h1v2h-1zM975 431h1v3h-1zM1154 378h1v2h-1zM927 335h1v2h-1zM1047 252h1v2h-1zM242 233h1v6h-1zM242 434h1v2h-1zM1012 108h1v4h-1zM1012 293h1v2h-1zM930 341h1v2h-1zM394 191h1v2h-1zM394 366h1v1h-1zM394 536h1v1h-1zM1037 214h1v5h-1zM1037 323h1v1h-1zM1037 426h1v2h-1zM272 377h1v2h-1zM236 269h1v6h-1zM236 446h1v2h-1zM677 282h1v1h-1zM677 395h1v1h-1zM552 368h1v1h-1zM552 430h1v1h-1zM1177 338h1v2h-1zM1150 222h1v1h-1zM1150 385h1v2h-1zM48 343h1v2h-1zM206 401h1v2h-1zM206 552h1v1h-1zM388 183h1v1h-1zM388 358h1v1h-1zM388 529h1v1h-1zM891 246h1v2h-1zM63 360h1v1h-1zM431 320h1v2h-1zM431 490h1v1h-1zM268 383h1v1h-1zM106 549h1v2h-1zM548 372h1v1h-1zM548 436h1v2h-1zM1313 240h1v3h-1zM1313 360h1v1h-1zM733 232h1v1h-1zM733 339h1v2h-1zM107 551h1v1h-1zM1249 341h1v1h-1zM690 270h1v1h-1zM690 376h1v2h-1zM320 514h1v2h-1zM1153 224h1v1h-1zM1153 380h1v1h-1zM309 349h1v1h-1zM309 541h1v3h-1zM685 275h1v1h-1zM685 384h1v1h-1zM728 237h1v1h-1zM728 345h1v1h-1zM264 163h1v1h-1zM264 389h1v2h-1zM0 317h1v1h-1zM375 343h1v1h-1zM375 514h1v1h-1zM292 574h1v1h-1zM1184 332h1v1h-1zM235 275h1v5h-1zM235 448h1v2h-1zM612 290h1v2h-1zM761 140h1v1h-1zM761 209h1v1h-1zM761 270h1v2h-1zM1057 268h1v2h-1zM1057 399h1v1h-1zM598 392h1v1h-1zM1088 256h1v1h-1zM1340 184h1v1h-1zM99 536h1v2h-1zM736 230h1v1h-1zM736 333h1v2h-1zM628 248h1v4h-1zM628 326h1v1h-1zM628 404h1v1h-1zM266 161h1v1h-1zM266 386h1v1h-1zM1255 346h1v1h-1zM649 197h1v2h-1zM649 307h1v1h-1zM295 569h1v2h-1zM732 233h1v1h-1zM732 341h1v1h-1zM1256 347h1v1h-1zM744 315h1v2h-1zM960 205h1v1h-1zM960 397h1v2h-1zM542 377h1v1h-1zM542 446h1v2h-1zM261 167h1v1h-1zM261 395h1v2h-1zM308 350h1v1h-1zM308 544h1v3h-1zM1095 249h1v1h-1zM151 386h1v3h-1zM151 560h1v1h-1zM729 128h1v1h-1zM729 236h1v1h-1zM729 344h1v1h-1zM578 404h1v1h-1zM974 224h1v2h-1zM974 429h1v2h-1zM84 512h1v1h-1zM1053 260h1v2h-1zM1053 404h1v1h-1zM507 465h1v2h-1zM259 169h1v2h-1zM259 399h1v2h-1zM101 451h1v1h-1zM101 540h1v2h-1zM760 272h1v2h-1zM317 341h1v1h-1zM317 520h1v2h-1zM88 517h1v2h-1zM656 187h1v1h-1zM656 301h1v1h-1zM1366 168h1v1h-1zM742 224h1v1h-1zM742 319h1v2h-1zM410 248h1v4h-1zM410 388h1v1h-1zM410 522h1v2h-1zM699 262h1v1h-1zM699 363h1v2h-1zM768 148h1v1h-1zM768 253h1v2h-1zM562 358h1v1h-1zM562 413h1v2h-1zM897 255h1v2h-1zM51 347h1v1h-1zM109 554h1v2h-1zM493 400h1v1h-1zM493 483h1v2h-1zM808 146h1v1h-1zM918 32h1v1h-1zM918 314h1v4h-1zM1407 156h1v1h-1zM1407 362h1v1h-1zM400 208h1v3h-1zM400 374h1v1h-1zM1251 343h1v1h-1zM1006 85h1v4h-1zM1006 283h1v2h-1zM743 317h1v2h-1zM921 28h1v1h-1zM921 175h1v1h-1zM921 323h1v2h-1zM706 152h1v1h-1zM706 256h1v1h-1zM495 481h1v1h-1zM805 149h1v1h-1zM1139 403h1v1h-1zM1071 268h1v1h-1zM377 172h1v1h-1zM377 345h1v2h-1zM377 516h1v2h-1zM1307 251h1v2h-1zM1110 232h1v2h-1zM965 212h1v1h-1zM965 408h1v2h-1zM506 467h1v1h-1zM914 36h1v1h-1zM914 298h1v4h-1zM971 220h1v1h-1zM971 422h1v2h-1zM555 365h1v1h-1zM555 425h1v1h-1zM98 367h1v1h-1zM98 449h1v1h-1zM98 534h1v2h-1zM588 398h1v1h-1zM364 504h1v1h-1zM841 95h1v2h-1zM841 169h1v1h-1zM812 142h1v1h-1zM946 371h1v2h-1zM949 195h1v1h-1zM949 376h1v1h-1zM986 35h1v1h-1zM986 246h1v2h-1zM986 456h1v2h-1zM762 141h1v1h-1zM762 208h1v1h-1zM762 267h1v3h-1zM767 147h1v1h-1zM767 255h1v2h-1zM995 52h1v2h-1zM995 263h1v2h-1zM323 508h1v2h-1zM978 25h1v1h-1zM978 231h1v2h-1zM978 438h1v3h-1zM671 288h1v1h-1zM671 402h1v1h-1zM561 359h1v1h-1zM561 415h1v2h-1zM1246 339h1v1h-1zM763 142h1v1h-1zM763 265h1v2h-1zM1416 149h1v1h-1zM1416 247h1v1h-1zM1416 350h1v1h-1zM1331 190h1v2h-1zM662 180h1v1h-1zM662 296h1v1h-1zM430 318h1v2h-1zM1016 122h1v3h-1zM1016 299h1v1h-1zM709 148h1v1h-1zM709 253h1v1h-1zM1325 207h1v2h-1zM1325 380h1v1h-1zM86 514h1v1h-1zM89 519h1v1h-1zM917 33h1v1h-1zM917 172h1v1h-1zM917 310h1v4h-1zM273 376h1v1h-1zM704 154h1v1h-1zM704 258h1v1h-1zM90 520h1v2h-1zM721 134h1v1h-1zM721 243h1v1h-1zM678 281h1v1h-1zM678 394h1v1h-1zM938 357h1v2h-1zM1141 307h1v1h-1zM1141 400h1v1h-1zM392 189h1v1h-1zM392 363h1v1h-1zM392 534h1v1h-1zM1423 142h1v1h-1zM1423 340h1v1h-1zM528 458h1v1h-1zM909 42h1v1h-1zM909 165h1v1h-1zM909 285h1v3h-1zM322 510h1v2h-1zM712 144h1v1h-1zM712 251h1v1h-1zM712 356h1v1h-1zM30 481h1v2h-1zM650 196h1v1h-1zM650 306h1v1h-1zM923 26h1v1h-1zM923 327h1v2h-1zM666 176h1v1h-1zM666 292h1v1h-1zM920 29h1v1h-1zM920 174h1v1h-1zM920 321h1v2h-1zM905 48h1v2h-1zM905 162h1v1h-1zM905 271h1v4h-1zM318 166h1v1h-1zM318 518h1v2h-1zM379 348h1v1h-1zM379 519h1v1h-1zM1318 225h1v3h-1zM1318 367h1v2h-1zM380 174h1v1h-1zM380 349h1v1h-1zM380 520h1v1h-1zM1049 255h1v1h-1zM1049 407h1v1h-1zM1149 387h1v1h-1zM693 372h1v1h-1zM37 332h1v1h-1zM37 412h1v1h-1zM37 491h1v1h-1zM59 356h1v1h-1zM59 426h1v1h-1zM38 333h1v1h-1zM38 413h1v1h-1zM38 492h1v1h-1zM653 191h1v2h-1zM653 304h1v1h-1zM719 136h1v1h-1zM719 352h1v1h-1zM1145 393h1v2h-1zM311 347h1v1h-1zM311 535h1v3h-1zM1424 141h1v1h-1zM1424 240h1v1h-1zM1424 339h1v1h-1zM753 134h1v1h-1zM753 215h1v1h-1zM753 290h1v3h-1zM1389 381h1v1h-1zM233 284h1v4h-1zM233 452h1v2h-1zM211 380h1v6h-1zM211 558h1v2h-1zM669 405h1v1h-1zM1321 217h1v3h-1zM1321 373h1v2h-1zM777 240h1v1h-1zM429 316h1v2h-1zM1018 129h1v3h-1zM1018 301h1v2h-1zM850 80h1v2h-1zM850 162h1v1h-1zM405 224h1v5h-1zM405 380h1v2h-1zM405 533h1v2h-1zM724 240h1v1h-1zM724 349h1v1h-1zM645 204h1v2h-1zM645 311h1v1h-1zM1040 229h1v5h-1zM1040 326h1v1h-1zM1040 418h1v3h-1zM1026 161h1v4h-1zM1026 311h1v1h-1zM1026 453h1v2h-1zM1107 236h1v1h-1zM401 211h1v3h-1zM401 375h1v1h-1zM150 383h1v3h-1zM150 561h1v1h-1zM846 87h1v2h-1zM846 165h1v1h-1zM1395 266h1v1h-1zM1395 376h1v1h-1zM883 234h1v1h-1zM156 399h1v2h-1zM672 287h1v1h-1zM672 401h1v1h-1zM146 471h1v1h-1zM620 272h1v3h-1zM620 389h1v2h-1zM29 479h1v2h-1zM265 162h1v1h-1zM265 387h1v2h-1zM55 351h1v2h-1zM648 199h1v1h-1zM648 308h1v1h-1zM1156 226h1v1h-1zM1156 374h1v2h-1zM1175 239h1v1h-1zM1175 341h1v2h-1zM1312 243h1v2h-1zM1312 301h1v1h-1zM1312 359h1v1h-1zM664 178h1v1h-1zM664 294h1v1h-1zM621 269h1v3h-1zM621 332h1v1h-1zM621 391h1v2h-1zM707 150h1v2h-1zM707 255h1v1h-1zM381 350h1v1h-1zM381 521h1v1h-1zM1045 250h1v1h-1zM1091 253h1v1h-1zM258 171h1v2h-1zM258 401h1v3h-1zM929 181h1v1h-1zM929 339h1v2h-1zM205 403h1v1h-1zM61 358h1v1h-1zM738 228h1v1h-1zM738 328h1v2h-1zM387 181h1v2h-1zM387 357h1v1h-1zM387 528h1v1h-1zM756 282h1v3h-1zM1005 82h1v3h-1zM1005 281h1v2h-1zM62 359h1v1h-1zM619 275h1v3h-1zM499 476h1v1h-1zM1406 157h1v1h-1zM1406 363h1v2h-1zM1143 397h1v2h-1zM1075 263h1v1h-1zM603 389h1v1h-1zM494 482h1v1h-1zM1070 269h1v1h-1zM373 341h1v1h-1zM373 512h1v1h-1zM997 56h1v3h-1zM997 267h1v2h-1zM231 292h1v4h-1zM231 456h1v1h-1zM209 391h1v5h-1zM209 556h1v1h-1zM402 214h1v3h-1zM402 376h1v2h-1zM695 266h1v1h-1zM695 369h1v1h-1zM413 262h1v4h-1zM413 391h1v1h-1zM413 515h1v2h-1zM1059 272h1v2h-1zM1059 397h1v1h-1zM636 224h1v2h-1zM636 319h1v1h-1zM374 170h1v1h-1zM374 342h1v1h-1zM374 513h1v1h-1zM554 366h1v1h-1zM554 426h1v2h-1zM371 510h1v1h-1zM988 38h1v2h-1zM988 249h1v2h-1zM988 459h1v2h-1zM1417 148h1v1h-1zM1417 246h1v1h-1zM1417 348h1v2h-1zM155 397h1v2h-1zM155 554h1v2h-1zM372 340h1v1h-1zM372 511h1v1h-1zM702 157h1v1h-1zM747 220h1v1h-1zM747 307h1v2h-1zM27 476h1v1h-1zM226 312h1v4h-1zM226 462h1v1h-1zM525 460h1v1h-1zM618 278h1v2h-1zM670 289h1v1h-1zM670 403h1v2h-1zM614 286h1v2h-1zM726 130h1v1h-1zM726 347h1v1h-1zM708 149h1v1h-1zM708 254h1v1h-1zM421 294h1v3h-1zM421 501h1v1h-1zM1048 254h1v1h-1zM931 343h1v2h-1zM221 332h1v4h-1zM221 467h1v1h-1zM558 362h1v1h-1zM558 420h1v1h-1zM720 135h1v1h-1zM720 244h1v1h-1zM630 242h1v3h-1zM630 324h1v1h-1zM630 406h1v1h-1zM367 507h1v1h-1zM1174 343h1v2h-1zM674 285h1v1h-1zM674 399h1v1h-1zM895 253h1v1h-1zM64 361h1v1h-1zM64 429h1v1h-1zM769 149h1v2h-1zM769 250h1v3h-1zM15 325h1v1h-1zM647 200h1v2h-1zM647 309h1v1h-1zM823 126h1v2h-1zM665 177h1v1h-1zM665 293h1v1h-1zM1054 262h1v2h-1zM1054 403h1v1h-1zM778 239h1v1h-1zM1093 251h1v1h-1zM613 288h1v2h-1zM966 213h1v1h-1zM966 410h1v3h-1zM799 154h1v1h-1zM913 37h1v1h-1zM913 296h1v2h-1zM207 399h1v2h-1zM207 553h1v1h-1zM697 264h1v1h-1zM697 366h1v2h-1zM228 304h1v4h-1zM228 459h1v1h-1zM100 538h1v2h-1zM501 473h1v2h-1zM70 367h1v1h-1zM310 348h1v1h-1zM310 538h1v3h-1zM826 121h1v2h-1zM1100 244h1v1h-1zM223 324h1v4h-1zM223 465h1v1h-1zM485 322h1v1h-1zM980 27h1v1h-1zM980 235h1v2h-1zM980 443h1v2h-1zM806 148h1v1h-1zM496 480h1v1h-1zM1116 224h1v2h-1zM776 156h1v1h-1zM776 241h1v1h-1zM1111 231h1v1h-1zM822 128h1v2h-1zM822 184h1v1h-1zM1308 250h1v1h-1zM1069 270h1v1h-1zM1050 256h1v2h-1zM982 30h1v1h-1zM982 238h1v2h-1zM982 448h1v2h-1zM633 232h1v4h-1zM633 409h1v1h-1zM818 134h1v2h-1zM1394 267h1v1h-1zM504 469h1v2h-1zM940 188h1v1h-1zM940 361h1v2h-1zM813 141h1v1h-1zM894 251h1v2h-1zM1274 243h1v1h-1zM1098 246h1v1h-1zM201 409h1v1h-1zM837 102h1v2h-1zM837 173h1v1h-1zM307 351h1v1h-1zM307 547h1v2h-1zM104 453h1v1h-1zM104 545h1v2h-1zM821 130h1v1h-1zM739 227h1v1h-1zM739 326h1v2h-1zM1399 263h1v1h-1zM1399 372h1v1h-1zM560 360h1v1h-1zM560 417h1v1h-1zM908 43h1v1h-1zM908 164h1v1h-1zM908 282h1v3h-1zM746 221h1v1h-1zM746 309h1v3h-1zM817 136h1v2h-1zM126 368h1v1h-1zM676 283h1v1h-1zM676 396h1v2h-1zM890 63h1v1h-1zM890 244h1v2h-1zM36 331h1v1h-1zM910 41h1v1h-1zM910 166h1v1h-1zM910 288h1v2h-1zM1176 340h1v1h-1zM1269 239h1v1h-1zM254 179h1v2h-1zM254 410h1v2h-1zM58 355h1v1h-1zM1270 240h1v1h-1zM950 377h1v2h-1zM990 42h1v2h-1zM990 253h1v2h-1zM990 462h1v2h-1zM944 191h1v1h-1zM944 368h1v1h-1zM426 308h1v2h-1zM426 494h1v2h-1zM1051 258h1v1h-1zM1052 259h1v1h-1zM1052 405h1v1h-1zM832 111h1v2h-1zM91 522h1v2h-1zM94 527h1v2h-1zM42 337h1v1h-1zM42 495h1v1h-1zM654 190h1v1h-1zM654 303h1v1h-1zM939 359h1v2h-1zM717 138h1v1h-1zM717 246h1v1h-1zM845 89h1v1h-1zM845 166h1v1h-1zM701 158h1v1h-1zM158 403h1v2h-1zM1276 245h1v1h-1zM33 409h1v1h-1zM33 487h1v2h-1zM899 258h1v1h-1zM632 236h1v3h-1zM632 322h1v1h-1zM632 408h1v1h-1zM304 354h1v2h-1zM304 553h1v2h-1zM725 239h1v1h-1zM725 348h1v1h-1zM683 277h1v1h-1zM683 387h1v1h-1zM682 278h1v1h-1zM682 388h1v2h-1zM831 113h1v2h-1zM378 347h1v1h-1zM378 518h1v1h-1zM1271 241h1v1h-1zM952 197h1v1h-1zM952 381h1v1h-1zM60 357h1v1h-1zM646 202h1v2h-1zM646 310h1v1h-1zM1169 351h1v2h-1zM686 274h1v1h-1zM686 382h1v2h-1zM194 414h1v1h-1zM1092 252h1v1h-1zM1112 230h1v1h-1zM996 54h1v2h-1zM996 265h1v2h-1zM1165 358h1v1h-1zM433 323h1v2h-1zM1138 404h1v1h-1zM92 524h1v1h-1zM1396 375h1v1h-1zM1161 365h1v2h-1zM44 339h1v1h-1zM44 418h1v1h-1zM44 497h1v1h-1zM696 265h1v1h-1zM696 368h1v1h-1zM1104 239h1v2h-1zM69 366h1v1h-1zM69 432h1v1h-1zM370 509h1v1h-1zM66 363h1v1h-1zM45 340h1v1h-1zM500 475h1v1h-1zM157 401h1v2h-1zM67 364h1v1h-1zM1099 245h1v1h-1zM1157 372h1v2h-1zM1115 226h1v1h-1zM202 408h1v1h-1zM911 40h1v1h-1zM911 167h1v1h-1zM911 290h1v3h-1zM1136 310h1v1h-1zM1136 406h1v1h-1zM740 226h1v1h-1zM740 324h1v2h-1zM1400 262h1v1h-1zM1400 371h1v1h-1zM82 441h1v1h-1zM82 510h1v1h-1zM933 347h1v2h-1zM365 505h1v1h-1zM640 215h1v3h-1zM640 315h1v1h-1zM366 506h1v1h-1zM809 145h1v1h-1zM143 469h1v1h-1zM967 214h1v2h-1zM967 413h1v2h-1zM1017 125h1v4h-1zM1017 300h1v1h-1zM249 199h1v4h-1zM249 420h1v2h-1zM659 183h1v1h-1zM659 298h1v1h-1zM1152 381h1v2h-1zM559 361h1v1h-1zM559 418h1v2h-1zM968 216h1v1h-1zM968 415h1v2h-1zM78 438h1v1h-1zM78 506h1v1h-1zM303 356h1v1h-1zM303 555h1v2h-1zM593 395h1v1h-1zM735 335h1v2h-1zM692 373h1v2h-1zM639 218h1v2h-1zM639 316h1v1h-1zM68 365h1v1h-1zM47 342h1v1h-1zM47 499h1v1h-1zM611 384h1v1h-1zM652 193h1v1h-1zM299 563h1v2h-1zM31 407h1v1h-1zM31 483h1v2h-1zM755 285h1v2h-1zM102 542h1v2h-1zM546 440h1v1h-1zM688 272h1v1h-1zM688 379h1v2h-1zM1171 348h1v1h-1zM103 364h1v1h-1zM103 544h1v1h-1zM1358 174h1v1h-1zM1155 376h1v2h-1zM75 503h1v1h-1zM1151 383h1v2h-1zM660 182h1v1h-1zM660 411h1v1h-1zM74 435h1v1h-1zM74 502h1v1h-1zM1147 303h1v1h-1zM1147 390h1v2h-1zM827 120h1v1h-1zM321 168h1v1h-1zM321 512h1v2h-1zM734 337h1v2h-1zM1362 171h1v1h-1zM298 565h1v1h-1zM1232 326h1v1h-1zM1428 237h1v1h-1zM1170 349h1v2h-1zM538 380h1v1h-1zM1166 356h1v2h-1zM505 468h1v1h-1zM884 235h1v1h-1zM888 240h1v2h-1zM49 345h1v1h-1zM1309 248h1v2h-1zM1309 355h1v1h-1zM1310 247h1v1h-1zM1310 356h1v2h-1zM981 28h1v2h-1zM981 237h1v1h-1zM981 445h1v3h-1zM1137 405h1v1h-1zM1103 241h1v1h-1zM153 391h1v3h-1zM153 557h1v1h-1zM40 335h1v1h-1zM40 415h1v1h-1zM313 345h1v1h-1zM313 530h1v3h-1zM563 412h1v1h-1zM41 336h1v1h-1zM941 363h1v2h-1zM160 407h1v2h-1zM1275 244h1v1h-1zM1233 327h1v1h-1zM1245 338h1v1h-1zM1234 328h1v1h-1zM1072 266h1v2h-1zM232 288h1v4h-1zM232 454h1v2h-1zM926 179h1v1h-1zM926 333h1v2h-1zM1316 231h1v3h-1zM1316 298h1v1h-1zM1316 364h1v1h-1zM271 379h1v1h-1zM887 238h1v2h-1zM718 137h1v1h-1zM1421 144h1v1h-1zM1421 242h1v1h-1zM1421 343h1v1h-1zM951 379h1v2h-1zM1355 176h1v1h-1zM710 146h1v2h-1zM278 372h1v1h-1zM80 508h1v1h-1zM435 326h1v2h-1zM85 443h1v1h-1zM85 513h1v1h-1zM942 365h1v1h-1zM95 529h1v1h-1zM270 380h1v2h-1zM896 254h1v1h-1zM159 405h1v2h-1zM65 362h1v1h-1zM900 259h1v2h-1zM1363 170h1v1h-1zM730 235h1v1h-1zM730 343h1v1h-1zM687 273h1v1h-1zM687 381h1v1h-1zM294 363h1v1h-1zM294 571h1v1h-1zM484 323h1v1h-1zM775 155h1v1h-1zM775 242h1v1h-1zM1090 254h1v1h-1zM935 351h1v2h-1zM1105 238h1v1h-1zM71 368h1v1h-1zM1097 247h1v1h-1zM293 572h1v2h-1zM1401 370h1v1h-1zM540 450h1v1h-1zM1044 248h1v2h-1zM434 325h1v1h-1zM1109 234h1v1h-1zM1392 378h1v1h-1zM77 437h1v1h-1zM77 505h1v1h-1zM898 257h1v1h-1zM810 144h1v1h-1zM497 479h1v1h-1zM198 411h1v1h-1zM492 485h1v1h-1zM814 140h1v1h-1zM1281 249h1v1h-1zM73 370h1v1h-1zM711 145h1v1h-1zM1179 335h1v1h-1zM723 132h1v1h-1zM723 241h1v1h-1zM534 454h1v1h-1zM1277 246h1v1h-1zM1236 330h1v1h-1zM1259 349h1v1h-1zM277 373h1v1h-1zM193 415h1v1h-1zM76 504h1v1h-1zM269 382h1v1h-1zM1391 379h1v1h-1zM54 350h1v1h-1zM1243 336h1v1h-1zM1244 337h1v1h-1zM1114 227h1v1h-1zM668 406h1v1h-1zM804 150h1v1h-1zM774 243h1v1h-1zM1089 255h1v1h-1zM83 511h1v1h-1zM537 452h1v1h-1zM46 341h1v1h-1zM811 143h1v1h-1zM583 401h1v1h-1zM1073 265h1v1h-1zM1238 332h1v1h-1zM1096 248h1v1h-1zM1239 333h1v1h-1zM1250 342h1v1h-1zM819 133h1v1h-1zM1108 235h1v1h-1zM1397 374h1v1h-1zM1134 409h1v1h-1zM815 139h1v1h-1zM531 456h1v1h-1zM324 507h1v1h-1zM715 140h1v1h-1zM715 248h1v1h-1zM1173 345h1v1h-1zM274 375h1v1h-1zM681 390h1v1h-1zM773 244h1v1h-1z" fill="#3cb371" shape-rendering="crispEdges"/>
<g shape-rendering="crispEdges">
<rect x="3" y="346" width="1" height="68" fill="#000" />
<rect x="1" y="351" width="5" height="61" fill="#000" />
<rect x="11" y="420" width="1" height="14" fill="#000" />
<rect x="9" y="424" width="5" height="7" fill="#000" />
<rect x="19" y="418" width="1" height="29" fill="#000" />
<rect x="17" y="430" width="5" height="7" fill="#000" />
<rect x="27" y="420" width="1" height="32" fill="#000" />
<rect x="25" y="436" width="5" height="13" fill="#000" />
<rect x="35" y="448" width="1" height="72" fill="#000" />
<rect x="33" y="448" width="5" height="62" fill="#000" />
<rect x="43" y="465" width="1" height="49" fill="#000" />
<rect x="41" y="481" width="5" height="28" fill="#000" />
<rect x="42" y="482" width="3" height="26" fill="#fff" />
<rect x="51" y="439" width="1" height="45" fill="#000" />
<rect x="49" y="452" width="5" height="30" fill="#000" />
<rect x="50" y="453" width="3" height="28" fill="#fff" />
<rect x="59" y="436" width="1" height="12" fill="#000" />
<rect x="57" y="437" width="5" height="7" fill="#000" />
<rect x="58" y="438" width="3" height="5" fill="#fff" />
<rect x="67" y="420" width="1" height="52" fill="#000" />
<rect x="65" y="436" width="5" height="5" fill="#000" />
<rect x="75" y="433" width="1" height="63" fill="#000" />
<rect x="73" y="440" width="5" height="54" fill="#000" />
<rect x="83" y="468" width="1" height="52" fill="#000" />
<rect x="81" y="493" width="5" height="18" fill="#000" />
<rect x="91" y="491" width="1" height="48" fill="#000" />
<rect x="89" y="493" width="5" height="18" fill="#000" />
<rect x="90" y="494" width="3" height="16" fill="#fff" />
<rect x="99" y="488" width="1" height="57" fill="#000" />
<rect x="97" y="492" width="5" height="53" fill="#000" />
<rect x="107" y="553" width="1" height="10" fill="#000" />
<rect x="105" y="555" width="5" height="6" fill="#000" />
<rect x="115" y="495" width="1" height="67" fill="#000" />
<rect x="113" y="505" width="5" height="55" fill="#000" />
<rect x="114" y="506" width="3" height="53" fill="#fff" />
<rect x="123" y="446" width="1" height="68" fill="#000" />
<rect x="121" y="460" width="5" height="46" fill="#000" />
<rect x="122" y="461" width="3" height="44" fill="#fff" />
<rect x="131" y="449" width="1" height="40" fill="#000" />
<rect x="129" y="460" width="5" height="20" fill="#000" />
<rect x="139" y="468" width="1" height="29" fill="#000" />
<rect x="137" y="479" width="5" height="5" fill="#000" />
<rect x="147" y="475" width="1" height="43" fill="#000" />
<rect x="145" y="483" width="5" height="24" fill="#000" />
<rect x="155" y="493" width="1" height="7" fill="#000" />
<rect x="153" y="493" width="5" height="4" fill="#000" />
<rect x="154" y="494" width="3" height="2" fill="#fff" />
<rect x="163" y="489" width="1" height="17" fill="#000" />
<rect x="161" y="490" width="5" height="4" fill="#000" />
<rect x="162" y="491" width="3" height="2" fill="#fff" />
<rect x="171" y="426" width="1" height="65" fill="#000" />
<rect x="169" y="444" width="5" height="46" fill="#000" />
<rect x="170" y="445" width="3" height="44" fill="#fff" />
<rect x="179" y="427" width="1" height="54" fill="#000" />
<rect x="177" y="444" width="5" height="15" fill="#000" />
<rect x="187" y="433" width="1" height="40" fill="#000" />
<rect x="185" y="444" width="5" height="15" fill="#000" />
<rect x="186" y="445" width="3" height="13" fill="#fff" />
<rect x="195" y="409" width="1" height="66" fill="#000" />
<rect x="193" y="433" width="5" height="11" fill="#000" />
<rect x="194" y="434" width="3" height="9" fill="#fff" />
<rect x="203" y="427" width="1" height="6" fill="#000" />
<rect x="201" y="427" width="5" height="2" fill="#000" />
<rect x="211" y="368" width="1" height="63" fill="#000" />
<rect x="209" y="378" width="5" height="52" fill="#000" />
<rect x="210" y="379" width="3" height="50" fill="#fff" />
<rect x="219" y="274" width="1" height="105" fill="#000" />
<rect x="217" y="275" width="5" height="103" fill="#000" />
<rect x="218" y="276" width="3" height="101" fill="#fff" />
<rect x="227" y="257" width="1" height="45" fill="#000" />
<rect x="225" y="270" width="5" height="7" fill="#000" />
<rect x="226" y="271" width="3" height="5" fill="#fff" />
<rect x="235" y="241" width="1" height="73" fill="#000" />
<rect x="233" y="249" width="5" height="22" fill="#000" />
<rect x="234" y="250" width="3" height="20" fill="#fff" />
<rect x="243" y="166" width="1" height="96" fill="#000" />
<rect x="241" y="200" width="5" height="51" fill="#000" />
<rect x="242" y="201" width="3" height="49" fill="#fff" />
<rect x="251" y="172" width="1" height="19" fill="#000" />
<rect x="249" y="178" width="5" height="13" fill="#000" />
<rect x="250" y="179" width="3" height="11" fill="#fff" />
<rect x="259" y="177" width="1" height="80" fill="#000" />
<rect x="257" y="178" width="5" height="54" fill="#000" />
<rect x="267" y="226" width="1" height="77" fill="#000" />
<rect x="265" y="232" width="5" height="41" fill="#000" />
<rect x="275" y="256" width="1" height="58" fill="#000" />
<rect x="273" y="271" width="5" height="40" fill="#000" />
<rect x="283" y="294" width="1" height="91" fill="#000" />
<rect x="281" y="309" width="5" height="69" fill="#000" />
<rect x="291" y="309" width="1" height="88" fill="#000" />
<rect x="289" y="376" width="5" height="6" fill="#000" />
<rect x="299" y="370" width="1" height="15" fill="#000" />
<rect x="297" y="371" width="5" height="9" fill="#000" />
<rect x="307" y="317" width="1" height="92" fill="#000" />
<rect x="305" y="317" width="5" height="62" fill="#000" />
<rect x="306" y="318" width="3" height="60" fill="#fff" />
<rect x="315" y="297" width="1" height="64" fill="#000" />
<rect x="313" y="317" width="5" height="29" fill="#000" />
<rect x="323" y="344" width="1" height="43" fill="#000" />
<rect x="321" y="345" width="5" height="39" fill="#000" />
<rect x="331" y="375" width="1" height="77" fill="#000" />
<rect x="329" y="384" width="5" height="47" fill="#000" />
<rect x="339" y="418" width="1" height="51" fill="#000" />
<rect x="337" y="429" width="5" height="37" fill="#000" />
<rect x="347" y="468" width="1" height="7" fill="#000" />
<rect x="345" y="470" width="5" height="2" fill="#000" />
<rect x="355" y="400" width="1" height="76" fill="#000" />
<rect x="353" y="403" width="5" height="67" fill="#000" />
<rect x="354" y="404" width="3" height="65" fill="#fff" />
<rect x="363" y="389" width="1" height="54" fill="#000" />
<rect x="361" y="403" width="5" height="14" fill="#000" />
<rect x="371" y="403" width="1" height="37" fill="#000" />
<rect x="369" y="416" width="5" height="18" fill="#000" />
<rect x="379" y="403" width="1" height="34" fill="#000" />
<rect x="377" y="422" width="5" height="12" fill="#000" />
<rect x="378" y="423" width="3" height="10" fill="#fff" />
<rect x="387" y="417" width="1" height="48" fill="#000" />
<rect x="385" y="423" width="5" height="33" fill="#000" />
<rect x="395" y="453" width="1" height="7" fill="#000" />
<rect x="393" y="453" width="5" height="4" fill="#000" />
<rect x="394" y="454" width="3" height="2" fill="#fff" />
<rect x="403" y="439" width="1" height="30" fill="#000" />
<rect x="401" y="449" width="5" height="5" fill="#000" />
<rect x="402" y="450" width="3" height="3" fill="#fff" />
<rect x="411" y="393" width="1" height="73" fill="#000" />
<rect x="409" y="397" width="5" height="53" fill="#000" />
<rect x="410" y="398" width="3" height="51" fill="#fff" />
<rect x="419" y="380" width="1" height="50" fill="#000" />
<rect x="417" y="395" width="5" height="3" fill="#000" />
<rect x="418" y="396" width="3" height="1" fill="#fff" />
<rect x="427" y="361" width="1" height="36" fill="#000" />
<rect x="425" y="388" width="5" height="8" fill="#000" />
<rect x="426" y="389" width="3" height="6" fill="#fff" />
<rect x="435" y="380" width="1" height="21" fill="#000" />
<rect x="433" y="384" width="5" height="5" fill="#000" />
<rect x="434" y="385" width="3" height="3" fill="#fff" />
<rect x="443" y="378" width="1" height="7" fill="#000" />
<rect x="441" y="380" width="5" height="4" fill="#000" />
<rect x="442" y="381" width="3" height="2" fill="#fff" />
<rect x="451" y="362" width="1" height="26" fill="#000" />
<rect x="449" y="380" width="5" height="4" fill="#000" />
<rect x="459" y="334" width="1" height="51" fill="#000" />
<rect x="457" y="353" width="5" height="31" fill="#000" />
<rect x="458" y="354" width="3" height="29" fill="#fff" />
<rect x="467" y="333" width="1" height="35" fill="#000" />
<rect x="465" y="338" width="5" height="16" fill="#000" />
<rect x="466" y="339" width="3" height="14" fill="#fff" />
<rect x="475" y="314" width="1" height="35" fill="#000" />
<rect x="473" y="337" width="5" height="7" fill="#000" />
<rect x="483" y="342" width="1" height="37" fill="#000" />
<rect x="481" y="342" width="5" height="8" fill="#000" />
<rect x="491" y="346" width="1" height="7" fill="#000" />
<rect x="489" y="347" width="5" height="4" fill="#000" />
<rect x="499" y="331" width="1" height="37" fill="#000" />
<rect x="497" y="349" width="5" height="15" fill="#000" />
<rect x="507" y="355" width="1" height="36" fill="#000" />
<rect x="505" y="358" width="5" height="6" fill="#000" />
<rect x="506" y="359" width="3" height="4" fill="#fff" />
<rect x="515" y="346" width="1" height="25" fill="#000" />
<rect x="513" y="358" width="5" height="8" fill="#000" />
<rect x="523" y="343" width="1" height="44" fill="#000" />
<rect x="521" y="360" width="5" height="7" fill="#000" />
<rect x="522" y="361" width="3" height="5" fill="#fff" />
<rect x="531" y="353" width="1" height="32" fill="#000" />
<rect x="529" y="360" width="5" height="14" fill="#000" />
<rect x="539" y="364" width="1" height="6" fill="#000" />
<rect x="537" y="364" width="5" height="6" fill="#000" />
<rect x="538" y="365" width="3" height="4" fill="#fff" />
<rect x="547" y="314" width="1" height="62" fill="#000" />
<rect x="545" y="322" width="5" height="43" fill="#000" />
<rect x="546" y="323" width="3" height="41" fill="#fff" />
<rect x="555" y="294" width="1" height="29" fill="#000" />
<rect x="553" y="310" width="5" height="13" fill="#000" />
<rect x="554" y="311" width="3" height="11" fill="#fff" />
<rect x="563" y="287" width="1" height="53" fill="#000" />
<rect x="561" y="295" width="5" height="16" fill="#000" />
<rect x="562" y="296" width="3" height="14" fill="#fff" />
<rect x="571" y="287" width="1" height="31" fill="#000" />
<rect x="569" y="295" width="5" height="17" fill="#000" />
<rect x="579" y="309" width="1" height="43" fill="#000" />
<rect x="577" y="311" width="5" height="18" fill="#000" />
<rect x="587" y="321" width="1" height="10" fill="#000" />
<rect x="585" y="326" width="5" height="2" fill="#000" />
<rect x="595" y="317" width="1" height="29" fill="#000" />
<rect x="593" y="323" width="5" height="4" fill="#000" />
<rect x="594" y="324" width="3" height="2" fill="#fff" />
<rect x="603" y="306" width="1" height="32" fill="#000" />
<rect x="601" y="318" width="5" height="6" fill="#000" />
<rect x="602" y="319" width="3" height="4" fill="#fff" />
<rect x="611" y="293" width="1" height="31" fill="#000" />
<rect x="609" y="298" width="5" height="20" fill="#000" />
<rect x="610" y="299" width="3" height="18" fill="#fff" />
<rect x="619" y="257" width="1" height="52" fill="#000" />
<rect x="617" y="262" width="5" height="37" fill="#000" />
<rect x="618" y="263" width="3" height="35" fill="#fff" />
<rect x="627" y="187" width="1" height="94" fill="#000" />
<rect x="625" y="210" width="5" height="52" fill="#000" />
<rect x="626" y="211" width="3" height="50" fill="#fff" />
<rect x="635" y="206" width="1" height="8" fill="#000" />
<rect x="633" y="207" width="5" height="5" fill="#000" />
<rect x="634" y="208" width="3" height="3" fill="#fff" />
<rect x="643" y="193" width="1" height="51" fill="#000" />
<rect x="641" y="207" width="5" height="3" fill="#000" />
<rect x="642" y="208" width="3" height="1" fill="#fff" />
<rect x="651" y="199" width="1" height="43" fill="#000" />
<rect x="649" y="208" width="5" height="18" fill="#000" />
<rect x="659" y="194" width="1" height="39" fill="#000" />
<rect x="657" y="212" width="5" height="14" fill="#000" />
<rect x="658" y="213" width="3" height="12" fill="#fff" />
<rect x="667" y="185" width="1" height="32" fill="#000" />
<rect x="665" y="206" width="5" height="7" fill="#000" />
<rect x="666" y="207" width="3" height="5" fill="#fff" />
<rect x="675" y="204" width="1" height="36" fill="#000" />
<rect x="673" y="206" width="5" height="18" fill="#000" />
<rect x="683" y="225" width="1" height="5" fill="#000" />
<rect x="681" y="226" width="5" height="4" fill="#000" />
<rect x="691" y="208" width="1" height="22" fill="#000" />
<rect x="689" y="210" width="5" height="18" fill="#000" />
<rect x="690" y="211" width="3" height="16" fill="#fff" />
<rect x="699" y="175" width="1" height="37" fill="#000" />
<rect x="697" y="195" width="5" height="16" fill="#000" />
<rect x="698" y="196" width="3" height="14" fill="#fff" />
<rect x="707" y="171" width="1" height="29" fill="#000" />
<rect x="705" y="180" width="5" height="16" fill="#000" />
<rect x="706" y="181" width="3" height="14" fill="#fff" />
<rect x="715" y="148" width="1" height="38" fill="#000" />
<rect x="713" y="163" width="5" height="18" fill="#000" />
<rect x="714" y="164" width="3" height="16" fill="#fff" />
<rect x="723" y="155" width="1" height="28" fill="#000" />
<rect x="721" y="163" width="5" height="13" fill="#000" />
<rect x="731" y="169" width="1" height="4" fill="#000" />
<rect x="729" y="169" width="5" height="3" fill="#000" />
<rect x="730" y="170" width="3" height="1" fill="#fff" />
<rect x="739" y="168" width="1" height="38" fill="#000" />
<rect x="737" y="169" width="5" height="29" fill="#000" />
<rect x="747" y="170" width="1" height="41" fill="#000" />
<rect x="745" y="177" width="5" height="21" fill="#000" />
<rect x="746" y="178" width="3" height="19" fill="#fff" />
<rect x="755" y="158" width="1" height="45" fill="#000" />
<rect x="753" y="176" width="5" height="17" fill="#000" />
<rect x="763" y="160" width="1" height="52" fill="#000" />
<rect x="761" y="168" width="5" height="25" fill="#000" />
<rect x="762" y="169" width="3" height="23" fill="#fff" />
<rect x="771" y="158" width="1" height="66" fill="#000" />
<rect x="769" y="168" width="5" height="45" fill="#000" />
<rect x="779" y="207" width="1" height="3" fill="#000" />
<rect x="777" y="207" width="5" height="3" fill="#000" />
<rect x="787" y="194" width="1" height="30" fill="#000" />
<rect x="785" y="209" width="5" height="4" fill="#000" />
<rect x="795" y="154" width="1" height="63" fill="#000" />
<rect x="793" y="160" width="5" height="53" fill="#000" />
<rect x="794" y="161" width="3" height="51" fill="#fff" />
<rect x="803" y="144" width="1" height="27" fill="#000" />
<rect x="801" y="158" width="5" height="3" fill="#000" />
<rect x="811" y="122" width="1" height="48" fill="#000" />
<rect x="809" y="125" width="5" height="34" fill="#000" />
<rect x="810" y="126" width="3" height="32" fill="#fff" />
<rect x="819" y="93" width="1" height="63" fill="#000" />
<rect x="817" y="127" width="5" height="5" fill="#000" />
<rect x="827" y="117" width="1" height="9" fill="#000" />
<rect x="825" y="118" width="5" height="2" fill="#000" />
<rect x="835" y="77" width="1" height="60" fill="#000" />
<rect x="833" y="92" width="5" height="28" fill="#000" />
<rect x="834" y="93" width="3" height="26" fill="#fff" />
<rect x="843" y="50" width="1" height="55" fill="#000" />
<rect x="841" y="82" width="5" height="10" fill="#000" />
<rect x="842" y="83" width="3" height="8" fill="#fff" />
<rect x="851" y="79" width="1" height="38" fill="#000" />
<rect x="849" y="83" width="5" height="5" fill="#000" />
<rect x="859" y="87" width="1" height="51" fill="#000" />
<rect x="857" y="88" width="5" height="41" fill="#000" />
<rect x="867" y="100" width="1" height="52" fill="#000" />
<rect x="865" y="111" width="5" height="18" fill="#000" />
<rect x="866" y="112" width="3" height="16" fill="#fff" />
<rect x="875" y="122" width="1" height="6" fill="#000" />
<rect x="873" y="123" width="5" height="2" fill="#000" />
<rect x="883" y="117" width="1" height="55" fill="#000" />
<rect x="881" y="124" width="5" height="37" fill="#000" />
<rect x="891" y="159" width="1" height="112" fill="#000" />
<rect x="889" y="160" width="5" height="98" fill="#000" />
<rect x="899" y="219" width="1" height="64" fill="#000" />
<rect x="897" y="230" width="5" height="28" fill="#000" />
<rect x="898" y="231" width="3" height="26" fill="#fff" />
<rect x="907" y="220" width="1" height="108" fill="#000" />
<rect x="905" y="230" width="5" height="84" fill="#000" />
<rect x="915" y="288" width="1" height="40" fill="#000" />
<rect x="913" y="312" width="5" height="11" fill="#000" />
<rect x="923" y="313" width="1" height="5" fill="#000" />
<rect x="921" y="313" width="5" height="3" fill="#000" />
<rect x="922" y="314" width="3" height="1" fill="#fff" />
<rect x="931" y="288" width="1" height="33" fill="#000" />
<rect x="929" y="313" width="5" height="5" fill="#000" />
<rect x="939" y="294" width="1" height="40" fill="#000" />
<rect x="937" y="317" width="5" height="3" fill="#000" />
<rect x="947" y="293" width="1" height="36" fill="#000" />
<rect x="945" y="304" width="5" height="16" fill="#000" />
<rect x="946" y="305" width="3" height="14" fill="#fff" />
<rect x="955" y="304" width="1" height="63" fill="#000" />
<rect x="953" y="305" width="5" height="13" fill="#000" />
<rect x="963" y="305" width="1" height="47" fill="#000" />
<rect x="961" y="316" width="5" height="29" fill="#000" />
<rect x="971" y="341" width="1" height="6" fill="#000" />
<rect x="969" y="342" width="5" height="3" fill="#000" />
<rect x="970" y="343" width="3" height="1" fill="#fff" />
<rect x="979" y="337" width="1" height="70" fill="#000" />
<rect x="977" y="342" width="5" height="40" fill="#000" />
<rect x="987" y="373" width="1" height="53" fill="#000" />
<rect x="985" y="381" width="5" height="14" fill="#000" />
<rect x="995" y="365" width="1" height="58" fill="#000" />
<rect x="993" y="392" width="5" height="2" fill="#000" />
<rect x="1003" y="363" width="1" height="42" fill="#000" />
<rect x="1001" y="369" width="5" height="24" fill="#000" />
<rect x="1002" y="370" width="3" height="22" fill="#fff" />
<rect x="1011" y="356" width="1" height="40" fill="#000" />
<rect x="1009" y="370" width="5" height="3" fill="#000" />
<rect x="1019" y="358" width="1" height="5" fill="#000" />
<rect x="1017" y="359" width="5" height="4" fill="#000" />
<rect x="1018" y="360" width="3" height="2" fill="#fff" />
<rect x="1027" y="302" width="1" height="73" fill="#000" />
<rect x="1025" y="321" width="5" height="39" fill="#000" />
<rect x="1026" y="322" width="3" height="37" fill="#fff" />
<rect x="1035" y="301" width="1" height="32" fill="#000" />
<rect x="1033" y="313" width="5" height="9" fill="#000" />
<rect x="1034" y="314" width="3" height="7" fill="#fff" />
<rect x="1043" y="290" width="1" height="53" fill="#000" />
<rect x="1041" y="303" width="5" height="11" fill="#000" />
<rect x="1042" y="304" width="3" height="9" fill="#fff" />
<rect x="1051" y="272" width="1" height="65" fill="#000" />
<rect x="1049" y="303" width="5" height="9" fill="#000" />
<rect x="1059" y="296" width="1" height="53" fill="#000" />
<rect x="1057" y="300" width="5" height="12" fill="#000" />
<rect x="1058" y="301" width="3" height="10" fill="#fff" />
<rect x="1067" y="292" width="1" height="6" fill="#000" />
<rect x="1065" y="294" width="5" height="2" fill="#000" />
<rect x="1075" y="256" width="1" height="47" fill="#000" />
<rect x="1073" y="259" width="5" height="36" fill="#000" />
<rect x="1074" y="260" width="3" height="34" fill="#fff" />
<rect x="1083" y="255" width="1" height="61" fill="#000" />
<rect x="1081" y="259" width="5" height="49" fill="#000" />
<rect x="1091" y="272" width="1" height="41" fill="#000" />
<rect x="1089" y="277" width="5" height="31" fill="#000" />
<rect x="1090" y="278" width="3" height="29" fill="#fff" />
<rect x="1099" y="256" width="1" height="29" fill="#000" />
<rect x="1097" y="264" width="5" height="14" fill="#000" />
<rect x="1098" y="265" width="3" height="12" fill="#fff" />
<rect x="1107" y="242" width="1" height="39" fill="#000" />
<rect x="1105" y="245" width="5" height="21" fill="#000" />
<rect x="1106" y="246" width="3" height="19" fill="#fff" />
<rect x="1115" y="244" width="1" height="5" fill="#000" />
<rect x="1113" y="245" width="5" height="4" fill="#000" />
<rect x="1123" y="244" width="1" height="21" fill="#000" />
<rect x="1121" y="247" width="5" height="2" fill="#000" />
<rect x="1131" y="242" width="1" height="55" fill="#000" />
<rect x="1129" y="248" width="5" height="48" fill="#000" />
<rect x="1139" y="259" width="1" height="66" fill="#000" />
<rect x="1137" y="280" width="5" height="16" fill="#000" />
<rect x="1138" y="281" width="3" height="14" fill="#fff" />
<rect x="1147" y="265" width="1" height="56" fill="#000" />
<rect x="1145" y="280" width="5" height="34" fill="#000" />
<rect x="1155" y="295" width="1" height="40" fill="#000" />
<rect x="1153" y="300" width="5" height="14" fill="#000" />
<rect x="1154" y="301" width="3" height="12" fill="#fff" />
<rect x="1163" y="298" width="1" height="8" fill="#000" />
<rect x="1161" y="300" width="5" height="5" fill="#000" />
<rect x="1162" y="301" width="3" height="3" fill="#fff" />
<rect x="1171" y="262" width="1" height="41" fill="#000" />
<rect x="1169" y="291" width="5" height="10" fill="#000" />
<rect x="1170" y="292" width="3" height="8" fill="#fff" />
<rect x="1179" y="271" width="1" height="28" fill="#000" />
<rect x="1177" y="286" width="5" height="5" fill="#000" />
<rect x="1178" y="287" width="3" height="3" fill="#fff" />
<rect x="1187" y="246" width="1" height="44" fill="#000" />
<rect x="1185" y="255" width="5" height="31" fill="#000" />
<rect x="1186" y="256" width="3" height="29" fill="#fff" />
<rect x="1195" y="249" width="1" height="25" fill="#000" />
<rect x="1193" y="255" width="5" height="11" fill="#000" />
<rect x="1203" y="260" width="1" height="38" fill="#000" />
<rect x="1201" y="265" width="5" height="27" fill="#000" />
<rect x="1211" y="286" width="1" height="4" fill="#000" />
<rect x="1209" y="286" width="5" height="4" fill="#000" />
<rect x="1210" y="287" width="3" height="2" fill="#fff" />
<rect x="1219" y="270" width="1" height="30" fill="#000" />
<rect x="1217" y="286" width="5" height="9" fill="#000" />
<rect x="1227" y="288" width="1" height="19" fill="#000" />
<rect x="1225" y="295" width="5" height="8" fill="#000" />
<rect x="1235" y="302" width="1" height="54" fill="#000" />
<rect x="1233" y="302" width="5" height="29" fill="#000" />
<rect x="1243" y="313" width="1" height="51" fill="#000" />
<rect x="1241" y="331" width="5" height="12" fill="#000" />
<rect x="1251" y="319" width="1" height="55" fill="#000" />
<rect x="1249" y="325" width="5" height="18" fill="#000" />
<rect x="1250" y="326" width="3" height="16" fill="#fff" />
<rect x="1259" y="333" width="1" height="13" fill="#000" />
<rect x="1257" y="337" width="5" height="7" fill="#000" />
<rect x="1267" y="333" width="1" height="23" fill="#000" />
<rect x="1265" y="338" width="5" height="5" fill="#000" />
<rect x="1266" y="339" width="3" height="3" fill="#fff" />
<rect x="1275" y="257" width="1" height="88" fill="#000" />
<rect x="1273" y="266" width="5" height="72" fill="#000" />
<rect x="1274" y="267" width="3" height="70" fill="#fff" />
<rect x="1283" y="259" width="1" height="86" fill="#000" />
<rect x="1281" y="266" width="5" height="69" fill="#000" />
<rect x="1291" y="299" width="1" height="49" fill="#000" />
<rect x="1289" y="306" width="5" height="30" fill="#000" />
<rect x="1290" y="307" width="3" height="28" fill="#fff" />
<rect x="1299" y="303" width="1" height="30" fill="#000" />
<rect x="1297" y="307" width="5" height="11" fill="#000" />
<rect x="1307" y="305" width="1" height="11" fill="#000" />
<rect x="1305" y="307" width="5" height="7" fill="#000" />
<rect x="1306" y="308" width="3" height="5" fill="#fff" />
<rect x="1315" y="198" width="1" height="113" fill="#000" />
<rect x="1313" y="216" width="5" height="93" fill="#000" />
<rect x="1314" y="217" width="3" height="91" fill="#fff" />
<rect x="1323" y="165" width="1" height="63" fill="#000" />
<rect x="1321" y="173" width="5" height="44" fill="#000" />
<rect x="1322" y="174" width="3" height="42" fill="#fff" />
<rect x="1331" y="144" width="1" height="44" fill="#000" />
<rect x="1329" y="173" width="5" height="8" fill="#000" />
<rect x="1330" y="174" width="3" height="6" fill="#fff" />
<rect x="1339" y="179" width="1" height="65" fill="#000" />
<rect x="1337" y="179" width="5" height="59" fill="#000" />
<rect x="1347" y="214" width="1" height="38" fill="#000" />
<rect x="1345" y="236" width="5" height="4" fill="#000" />
<rect x="1355" y="217" width="1" height="19" fill="#000" />
<rect x="1353" y="219" width="5" height="17" fill="#000" />
<rect x="1354" y="220" width="3" height="15" fill="#fff" />
<rect x="1363" y="200" width="1" height="47" fill="#000" />
<rect x="1361" y="220" width="5" height="6" fill="#000" />
<rect x="1371" y="220" width="1" height="22" fill="#000" />
<rect x="1369" y="226" width="5" height="5" fill="#000" />
<rect x="1379" y="226" width="1" height="21" fill="#000" />
<rect x="1377" y="230" width="5" height="17" fill="#000" />
<rect x="1387" y="233" width="1" height="33" fill="#000" />
<rect x="1385" y="247" width="5" height="6" fill="#000" />
<rect x="1395" y="231" width="1" height="23" fill="#000" />
<rect x="1393" y="239" width="5" height="14" fill="#000" />
<rect x="1394" y="240" width="3" height="12" fill="#fff" />
<rect x="1403" y="229" width="1" height="6" fill="#000" />
<rect x="1401" y="229" width="5" height="5" fill="#000" />
<rect x="1402" y="230" width="3" height="3" fill="#fff" />
<rect x="1411" y="182" width="1" height="49" fill="#000" />
<rect x="1409" y="183" width="5" height="47" fill="#000" />
<rect x="1410" y="184" width="3" height="45" fill="#fff" />
<rect x="1419" y="162" width="1" height="29" fill="#000" />
<rect x="1417" y="171" width="5" height="13" fill="#000" />
<rect x="1418" y="172" width="3" height="11" fill="#fff" />
<rect x="1427" y="164" width="1" height="32" fill="#000" />
<rect x="1425" y="165" width="5" height="7" fill="#000" />
<rect x="1426" y="166" width="3" height="5" fill="#fff" />
<rect x="1435" y="164" width="1" height="35" fill="#000" />
<rect x="1433" y="168" width="5" height="20" fill="#000" />
</g>
<rect x="1280" y="173" width="207" height="7" fill="#00ff00" shape-rendering="crispEdges"/>
<g stroke="#ff0000" fill="#ff0000" stroke-linecap="butt">
<line x1="1392" y1="252.5" x2="1423.3" y2="165" stroke-width="3.2"/>
<polygon points="1425.6,157.5 1430.5,170 1417.2,165.5" stroke="none"/>
<line x1="1425.6" y1="158.5" x2="1444.5" y2="185.8" stroke-width="3.2"/>
<polygon points="1448,190.6 1437.6,184.2 1443.8,178.4" stroke="none"/>
</g>
<rect x="772.5" y="43.5" width="61" height="18" fill="#fff" stroke="#ff0000" stroke-width="1" shape-rendering="crispEdges"/>
<text x="775" y="59.1" font-size="17" fill="#ff0000" text-anchor="start" font-weight="normal" textLength="57" lengthAdjust="spacingAndGlyphs" >142.659</text>
<rect x="833" y="52" width="10" height="1" fill="#ff0000" shape-rendering="crispEdges"/>
<rect x="172.5" y="157.5" width="61" height="18" fill="#fff" stroke="#ff0000" stroke-width="1" shape-rendering="crispEdges"/>
<text x="175" y="173.1" font-size="17" fill="#ff0000" text-anchor="start" font-weight="normal" textLength="57" lengthAdjust="spacingAndGlyphs" >139.715</text>
<rect x="234" y="166" width="10" height="1" fill="#ff0000" shape-rendering="crispEdges"/>
<rect x="916.5" y="416.5" width="61" height="18" fill="#fff" stroke="#ff0000" stroke-width="1" shape-rendering="crispEdges"/>
<text x="919" y="432.1" font-size="17" fill="#ff0000" text-anchor="start" font-weight="normal" textLength="57" lengthAdjust="spacingAndGlyphs" >133.029</text>
<rect x="978" y="425" width="10" height="1" fill="#ff0000" shape-rendering="crispEdges"/>
<rect x="1260.5" y="135.5" width="61" height="18" fill="#fff" stroke="#ff0000" stroke-width="1" shape-rendering="crispEdges"/>
<text x="1263" y="150.5" font-size="16.5" fill="#ff0000" text-anchor="start" font-weight="normal" textLength="56" lengthAdjust="spacingAndGlyphs" >140.281</text>
<rect x="1188" y="177" width="10" height="1" fill="#ff0000" shape-rendering="crispEdges"/>
<rect x="1198.5" y="165.5" width="73" height="24" fill="#fff" stroke="#ff0000" stroke-width="1" shape-rendering="crispEdges"/>
<text x="1200.7" y="185.6" font-size="21" fill="#ff0000" text-anchor="start" font-weight="normal" textLength="69" lengthAdjust="spacingAndGlyphs" >139.431</text>
<path d="M1489 220h2v1h-2zM1541 220h2v1h-2zM1490 207h11v1h-11zM1508 207h18v1h-18zM1529 207h8v1h-8zM1538 207h10v1h-10zM1560 207h2v1h-2zM1582 207h9v1h-9zM1521 210h2v1h-2zM1577 210h12v1h-12zM1495 217h2v1h-2zM1533 217h5v1h-5zM1543 217h2v1h-2zM1492 213h2v1h-2zM1555 213h2v1h-2zM1488 216h2v1h-2zM1497 216h2v1h-2zM1545 216h2v1h-2zM1577 216h12v1h-12zM1493 218h2v1h-2zM1528 218h6v1h-6zM1491 219h2v1h-2zM1490 214h2v1h-2zM1493 214h10v1h-10zM1510 214h13v1h-13zM1553 214h3v1h-3zM1489 215h2v1h-2zM1499 215h2v1h-2zM1539 215h9v1h-9zM1551 215h2v1h-2zM1493 212h3v1h-3zM1529 212h9v1h-9zM1557 212h2v1h-2zM1494 211h3v1h-3zM1523 211h2v1h-2zM1537 211h12v1h-12zM1560 211h10v1h-10zM1487 221h2v1h-2zM1507 221h19v1h-19zM1552 221h2v1h-2zM1492 205h2v1h-2zM1564 205h3v1h-3zM1497 209h2v1h-2zM1519 209h2v1h-2zM1551 209h7v1h-7zM1488 208h2v1h-2zM1567 204h2v1h-2zM1554 222h3v1h-3zM1562 206h2v1h-2zM1555 204h1v5h-1zM1555 210h1v3h-1zM1555 215h1v7h-1zM1580 218h1v2h-1zM1492 209h1v1h-1zM1492 216h1v1h-1zM1533 204h1v2h-1zM1533 208h1v4h-1zM1533 213h1v4h-1zM1533 219h1v4h-1zM1493 210h1v1h-1zM1493 217h1v1h-1zM1516 205h1v1h-1zM1516 215h1v6h-1zM1559 216h1v2h-1zM1557 220h1v2h-1zM1591 222h1v1h-1zM1540 210h1v1h-1zM1540 212h1v2h-1zM1540 219h1v1h-1zM1565 212h1v11h-1zM1525 208h1v1h-1zM1525 212h1v1h-1zM1530 210h1v2h-1zM1585 219h1v2h-1zM1584 218h1v1h-1zM1515 204h1v1h-1zM1588 211h1v5h-1zM1588 218h1v1h-1zM1524 209h1v1h-1zM1491 206h1v1h-1zM1582 204h1v3h-1zM1582 208h1v2h-1zM1576 218h1v2h-1zM1542 204h1v2h-1zM1542 218h1v1h-1zM1589 219h1v2h-1zM1487 209h1v1h-1zM1487 217h1v1h-1zM1510 212h1v1h-1zM1511 210h1v2h-1zM1513 208h1v1h-1zM1577 211h1v5h-1zM1494 204h1v1h-1zM1496 210h1v1h-1zM1560 208h1v3h-1zM1560 212h1v4h-1zM1541 206h1v1h-1zM1541 208h1v2h-1zM1532 206h1v1h-1zM1581 220h1v2h-1zM1509 213h1v1h-1zM1558 218h1v2h-1zM1531 208h1v2h-1zM1507 208h1v2h-1zM1486 210h1v1h-1zM1486 218h1v1h-1zM1486 222h1v1h-1zM1575 220h1v2h-1zM1508 214h1v1h-1zM1518 208h1v1h-1zM1543 221h1v1h-1zM1512 209h1v1h-1zM1539 214h1v1h-1zM1544 222h1v1h-1zM1499 208h1v1h-1zM1586 221h1v1h-1zM1590 221h1v1h-1zM1574 222h1v1h-1z" fill="#00ff00" shape-rendering="crispEdges"/>
<polygon points="1442,24 1453,24 1447.5,29" fill="#c0c0c0"/>
<g shape-rendering="crispEdges">
<rect x="3" y="672" width="1" height="6" fill="#c0c0c0" />
<rect x="11" y="672" width="1" height="7" fill="#c0c0c0" />
<rect x="19" y="672" width="1" height="10" fill="#c0c0c0" />
<rect x="27" y="672" width="1" height="12" fill="#c0c0c0" />
<rect x="35" y="672" width="1" height="21" fill="#c0c0c0" />
<rect x="43" y="672" width="1" height="24" fill="#c0c0c0" />
<rect x="51" y="672" width="1" height="24" fill="#c0c0c0" />
<rect x="59" y="672" width="1" height="22" fill="#c0c0c0" />
<rect x="67" y="672" width="1" height="20" fill="#c0c0c0" />
<rect x="75" y="672" width="1" height="24" fill="#c0c0c0" />
<rect x="83" y="672" width="1" height="28" fill="#c0c0c0" />
<rect x="91" y="672" width="1" height="30" fill="#c0c0c0" />
<rect x="99" y="672" width="1" height="36" fill="#c0c0c0" />
<rect x="107" y="672" width="1" height="42" fill="#c0c0c0" />
<rect x="115" y="672" width="1" height="40" fill="#c0c0c0" />
<rect x="123" y="672" width="1" height="34" fill="#c0c0c0" />
<rect x="131" y="672" width="1" height="32" fill="#c0c0c0" />
<rect x="139" y="672" width="1" height="29" fill="#c0c0c0" />
<rect x="147" y="672" width="1" height="28" fill="#c0c0c0" />
<rect x="155" y="672" width="1" height="26" fill="#c0c0c0" />
<rect x="163" y="672" width="1" height="24" fill="#c0c0c0" />
<rect x="171" y="672" width="1" height="18" fill="#c0c0c0" />
<rect x="179" y="672" width="1" height="14" fill="#c0c0c0" />
<rect x="187" y="672" width="1" height="10" fill="#c0c0c0" />
<rect x="195" y="672" width="1" height="4" fill="#c0c0c0" />
<rect x="211" y="664" width="1" height="8" fill="#c0c0c0" />
<rect x="219" y="646" width="1" height="26" fill="#c0c0c0" />
<rect x="227" y="632" width="1" height="40" fill="#c0c0c0" />
<rect x="235" y="620" width="1" height="52" fill="#c0c0c0" />
<rect x="243" y="605" width="1" height="67" fill="#c0c0c0" />
<rect x="251" y="592" width="1" height="80" fill="#c0c0c0" />
<rect x="259" y="588" width="1" height="84" fill="#c0c0c0" />
<rect x="267" y="591" width="1" height="81" fill="#c0c0c0" />
<rect x="275" y="598" width="1" height="74" fill="#c0c0c0" />
<rect x="283" y="612" width="1" height="60" fill="#c0c0c0" />
<rect x="291" y="622" width="1" height="50" fill="#c0c0c0" />
<rect x="299" y="632" width="1" height="40" fill="#c0c0c0" />
<rect x="307" y="633" width="1" height="39" fill="#c0c0c0" />
<rect x="315" y="638" width="1" height="34" fill="#c0c0c0" />
<rect x="323" y="645" width="1" height="27" fill="#c0c0c0" />
<rect x="331" y="657" width="1" height="15" fill="#c0c0c0" />
<rect x="339" y="670" width="1" height="2" fill="#c0c0c0" />
<rect x="347" y="672" width="1" height="6" fill="#c0c0c0" />
<rect x="355" y="672" width="1" height="9" fill="#c0c0c0" />
<rect x="363" y="672" width="1" height="11" fill="#c0c0c0" />
<rect x="371" y="672" width="1" height="14" fill="#c0c0c0" />
<rect x="379" y="672" width="1" height="16" fill="#c0c0c0" />
<rect x="387" y="672" width="1" height="20" fill="#c0c0c0" />
<rect x="395" y="672" width="1" height="23" fill="#c0c0c0" />
<rect x="403" y="672" width="1" height="24" fill="#c0c0c0" />
<rect x="411" y="672" width="1" height="20" fill="#c0c0c0" />
<rect x="419" y="672" width="1" height="16" fill="#c0c0c0" />
<rect x="427" y="672" width="1" height="12" fill="#c0c0c0" />
<rect x="435" y="672" width="1" height="8" fill="#c0c0c0" />
<rect x="443" y="672" width="1" height="4" fill="#c0c0c0" />
<rect x="451" y="672" width="1" height="2" fill="#c0c0c0" />
<rect x="459" y="670" width="1" height="2" fill="#c0c0c0" />
<rect x="467" y="665" width="1" height="7" fill="#c0c0c0" />
<rect x="475" y="661" width="1" height="11" fill="#c0c0c0" />
<rect x="483" y="659" width="1" height="13" fill="#c0c0c0" />
<rect x="491" y="657" width="1" height="15" fill="#c0c0c0" />
<rect x="499" y="658" width="1" height="14" fill="#c0c0c0" />
<rect x="507" y="658" width="1" height="14" fill="#c0c0c0" />
<rect x="515" y="659" width="1" height="13" fill="#c0c0c0" />
<rect x="523" y="660" width="1" height="12" fill="#c0c0c0" />
<rect x="531" y="661" width="1" height="11" fill="#c0c0c0" />
<rect x="539" y="661" width="1" height="11" fill="#c0c0c0" />
<rect x="547" y="658" width="1" height="14" fill="#c0c0c0" />
<rect x="555" y="653" width="1" height="19" fill="#c0c0c0" />
<rect x="563" y="649" width="1" height="23" fill="#c0c0c0" />
<rect x="571" y="647" width="1" height="25" fill="#c0c0c0" />
<rect x="579" y="648" width="1" height="24" fill="#c0c0c0" />
<rect x="587" y="649" width="1" height="23" fill="#c0c0c0" />
<rect x="595" y="649" width="1" height="23" fill="#c0c0c0" />
<rect x="603" y="649" width="1" height="23" fill="#c0c0c0" />
<rect x="611" y="647" width="1" height="25" fill="#c0c0c0" />
<rect x="619" y="642" width="1" height="30" fill="#c0c0c0" />
<rect x="627" y="633" width="1" height="39" fill="#c0c0c0" />
<rect x="635" y="627" width="1" height="45" fill="#c0c0c0" />
<rect x="643" y="622" width="1" height="50" fill="#c0c0c0" />
<rect x="651" y="620" width="1" height="52" fill="#c0c0c0" />
<rect x="659" y="619" width="1" height="53" fill="#c0c0c0" />
<rect x="667" y="617" width="1" height="55" fill="#c0c0c0" />
<rect x="675" y="618" width="1" height="54" fill="#c0c0c0" />
<rect x="683" y="620" width="1" height="52" fill="#c0c0c0" />
<rect x="691" y="621" width="1" height="51" fill="#c0c0c0" />
<rect x="699" y="620" width="1" height="52" fill="#c0c0c0" />
<rect x="707" y="619" width="1" height="53" fill="#c0c0c0" />
<rect x="715" y="616" width="1" height="56" fill="#c0c0c0" />
<rect x="723" y="616" width="1" height="56" fill="#c0c0c0" />
<rect x="731" y="616" width="1" height="56" fill="#c0c0c0" />
<rect x="739" y="620" width="1" height="52" fill="#c0c0c0" />
<rect x="747" y="621" width="1" height="51" fill="#c0c0c0" />
<rect x="755" y="625" width="1" height="47" fill="#c0c0c0" />
<rect x="763" y="625" width="1" height="47" fill="#c0c0c0" />
<rect x="771" y="631" width="1" height="41" fill="#c0c0c0" />
<rect x="779" y="635" width="1" height="37" fill="#c0c0c0" />
<rect x="787" y="640" width="1" height="32" fill="#c0c0c0" />
<rect x="795" y="638" width="1" height="34" fill="#c0c0c0" />
<rect x="803" y="637" width="1" height="35" fill="#c0c0c0" />
<rect x="811" y="633" width="1" height="39" fill="#c0c0c0" />
<rect x="819" y="631" width="1" height="41" fill="#c0c0c0" />
<rect x="827" y="628" width="1" height="44" fill="#c0c0c0" />
<rect x="835" y="624" width="1" height="48" fill="#c0c0c0" />
<rect x="843" y="620" width="1" height="52" fill="#c0c0c0" />
<rect x="851" y="618" width="1" height="54" fill="#c0c0c0" />
<rect x="859" y="622" width="1" height="50" fill="#c0c0c0" />
<rect x="867" y="623" width="1" height="49" fill="#c0c0c0" />
<rect x="875" y="626" width="1" height="46" fill="#c0c0c0" />
<rect x="883" y="633" width="1" height="39" fill="#c0c0c0" />
<rect x="891" y="649" width="1" height="23" fill="#c0c0c0" />
<rect x="899" y="659" width="1" height="13" fill="#c0c0c0" />
<rect x="907" y="672" width="1" height="2" fill="#c0c0c0" />
<rect x="915" y="672" width="1" height="16" fill="#c0c0c0" />
<rect x="923" y="672" width="1" height="26" fill="#c0c0c0" />
<rect x="931" y="672" width="1" height="34" fill="#c0c0c0" />
<rect x="939" y="672" width="1" height="40" fill="#c0c0c0" />
<rect x="947" y="672" width="1" height="42" fill="#c0c0c0" />
<rect x="955" y="672" width="1" height="46" fill="#c0c0c0" />
<rect x="963" y="672" width="1" height="50" fill="#c0c0c0" />
<rect x="971" y="672" width="1" height="54" fill="#c0c0c0" />
<rect x="979" y="672" width="1" height="60" fill="#c0c0c0" />
<rect x="987" y="672" width="1" height="64" fill="#c0c0c0" />
<rect x="995" y="672" width="1" height="68" fill="#c0c0c0" />
<rect x="1003" y="672" width="1" height="66" fill="#c0c0c0" />
<rect x="1011" y="672" width="1" height="66" fill="#c0c0c0" />
<rect x="1019" y="672" width="1" height="62" fill="#c0c0c0" />
<rect x="1027" y="672" width="1" height="56" fill="#c0c0c0" />
<rect x="1035" y="672" width="1" height="48" fill="#c0c0c0" />
<rect x="1043" y="672" width="1" height="42" fill="#c0c0c0" />
<rect x="1051" y="672" width="1" height="36" fill="#c0c0c0" />
<rect x="1059" y="672" width="1" height="30" fill="#c0c0c0" />
<rect x="1067" y="672" width="1" height="24" fill="#c0c0c0" />
<rect x="1075" y="672" width="1" height="16" fill="#c0c0c0" />
<rect x="1083" y="672" width="1" height="14" fill="#c0c0c0" />
<rect x="1091" y="672" width="1" height="10" fill="#c0c0c0" />
<rect x="1099" y="672" width="1" height="6" fill="#c0c0c0" />
<rect x="1115" y="668" width="1" height="4" fill="#c0c0c0" />
<rect x="1123" y="665" width="1" height="7" fill="#c0c0c0" />
<rect x="1131" y="667" width="1" height="5" fill="#c0c0c0" />
<rect x="1139" y="667" width="1" height="5" fill="#c0c0c0" />
<rect x="1147" y="671" width="1" height="1" fill="#c0c0c0" />
<rect x="1163" y="672" width="1" height="1" fill="#c0c0c0" />
<rect x="1171" y="672" width="1" height="1" fill="#c0c0c0" />
<rect x="1179" y="672" width="1" height="1" fill="#c0c0c0" />
<rect x="1187" y="671" width="1" height="1" fill="#c0c0c0" />
<rect x="1195" y="668" width="1" height="4" fill="#c0c0c0" />
<rect x="1203" y="670" width="1" height="2" fill="#c0c0c0" />
<rect x="1211" y="672" width="1" height="1" fill="#c0c0c0" />
<rect x="1219" y="672" width="1" height="1" fill="#c0c0c0" />
<rect x="1235" y="672" width="1" height="4" fill="#c0c0c0" />
<rect x="1243" y="672" width="1" height="10" fill="#c0c0c0" />
<rect x="1251" y="672" width="1" height="10" fill="#c0c0c0" />
<rect x="1259" y="672" width="1" height="14" fill="#c0c0c0" />
<rect x="1267" y="672" width="1" height="16" fill="#c0c0c0" />
<rect x="1275" y="672" width="1" height="9" fill="#c0c0c0" />
<rect x="1283" y="672" width="1" height="12" fill="#c0c0c0" />
<rect x="1291" y="672" width="1" height="10" fill="#c0c0c0" />
<rect x="1299" y="672" width="1" height="10" fill="#c0c0c0" />
<rect x="1307" y="672" width="1" height="8" fill="#c0c0c0" />
<rect x="1315" y="671" width="1" height="1" fill="#c0c0c0" />
<rect x="1323" y="658" width="1" height="14" fill="#c0c0c0" />
<rect x="1331" y="649" width="1" height="23" fill="#c0c0c0" />
<rect x="1339" y="648" width="1" height="24" fill="#c0c0c0" />
<rect x="1347" y="648" width="1" height="24" fill="#c0c0c0" />
<rect x="1355" y="646" width="1" height="26" fill="#c0c0c0" />
<rect x="1363" y="645" width="1" height="27" fill="#c0c0c0" />
<rect x="1371" y="645" width="1" height="27" fill="#c0c0c0" />
<rect x="1379" y="648" width="1" height="24" fill="#c0c0c0" />
<rect x="1387" y="650" width="1" height="22" fill="#c0c0c0" />
<rect x="1395" y="651" width="1" height="21" fill="#c0c0c0" />
<rect x="1403" y="651" width="1" height="21" fill="#c0c0c0" />
<rect x="1411" y="647" width="1" height="25" fill="#c0c0c0" />
<rect x="1419" y="642" width="1" height="30" fill="#c0c0c0" />
<rect x="1427" y="638" width="1" height="34" fill="#c0c0c0" />
<rect x="1435" y="638" width="1" height="34" fill="#c0c0c0" />
</g>
<path d="M1 682h3v1h-3zM7 682h3v1h-3zM13 682h3v1h-3zM19 682h2v1h-2zM398 682h2v1h-2zM463 682h2v1h-2zM1282 682h3v1h-3zM1288 682h2v1h-2zM529 659h3v1h-3zM535 659h3v1h-3zM1361 659h2v1h-2zM145 706h3v1h-3zM151 706h3v1h-3zM788 625h2v1h-2zM871 625h3v1h-3zM1162 670h3v1h-3zM1168 670h3v1h-3zM1174 670h3v1h-3zM1180 670h3v1h-3zM1186 670h3v1h-3zM1192 670h3v1h-3zM1198 670h3v1h-3zM1204 670h2v1h-2zM1378 651h2v1h-2zM662 632h2v1h-2zM824 632h2v1h-2zM829 632h3v1h-3zM835 632h3v1h-3zM841 632h3v1h-3zM902 632h2v1h-2zM1006 728h2v1h-2zM1390 648h3v1h-3zM1396 648h3v1h-3zM1402 648h3v1h-3zM1408 648h3v1h-3zM73 691h3v1h-3zM199 691h2v1h-2zM727 617h3v1h-3zM733 617h3v1h-3zM1012 731h2v1h-2zM1042 731h3v1h-3zM37 685h3v1h-3zM43 685h2v1h-2zM404 685h2v1h-2zM1306 685h3v1h-3zM133 705h3v1h-3zM139 705h3v1h-3zM157 705h3v1h-3zM163 705h2v1h-2zM685 623h3v1h-3zM1096 700h2v1h-2zM67 690h3v1h-3zM421 690h3v1h-3zM571 655h3v1h-3zM577 655h3v1h-3zM327 620h2v1h-2zM697 620h3v1h-3zM703 620h2v1h-2zM770 620h2v1h-2zM1127 680h2v1h-2zM1271 680h2v1h-2zM49 686h3v1h-3zM452 686h2v1h-2zM116 703h2v1h-2zM169 703h3v1h-3zM715 618h3v1h-3zM721 618h3v1h-3zM739 618h3v1h-3zM745 618h3v1h-3zM751 618h3v1h-3zM757 618h3v1h-3zM25 683h3v1h-3zM1294 683h2v1h-2zM1133 677h2v1h-2zM1264 677h2v1h-2zM511 662h2v1h-2zM487 671h3v1h-3zM1156 671h3v1h-3zM1210 671h3v1h-3zM1216 671h3v1h-3zM1222 671h3v1h-3zM583 654h3v1h-3zM589 654h3v1h-3zM1372 654h2v1h-2zM97 697h2v1h-2zM776 621h2v1h-2zM553 657h3v1h-3zM817 631h3v1h-3zM367 660h2v1h-2zM518 660h2v1h-2zM523 660h3v1h-3zM1151 672h2v1h-2zM1228 672h3v1h-3zM1234 672h3v1h-3zM1240 672h2v1h-2zM1337 672h2v1h-2zM674 627h2v1h-2zM794 627h2v1h-2zM859 627h3v1h-3zM631 644h3v1h-3zM482 673h2v1h-2zM1246 673h3v1h-3zM1138 675h3v1h-3zM1258 675h3v1h-3zM1331 675h2v1h-2zM865 626h2v1h-2zM889 626h3v1h-3zM620 647h2v1h-2zM1414 647h3v1h-3zM103 699h2v1h-2zM181 699h2v1h-2zM625 646h2v1h-2zM1420 646h3v1h-3zM1426 646h3v1h-3zM322 616h2v1h-2zM391 678h2v1h-2zM1325 678h2v1h-2zM61 689h3v1h-3zM415 689h3v1h-3zM427 689h3v1h-3zM433 689h3v1h-3zM637 642h3v1h-3zM31 684h3v1h-3zM458 684h2v1h-2zM1120 684h2v1h-2zM1300 684h3v1h-3zM1312 684h2v1h-2zM691 622h3v1h-3zM781 622h2v1h-2zM805 629h3v1h-3zM896 629h2v1h-2zM285 608h2v1h-2zM309 608h2v1h-2zM493 669h2v1h-2zM1343 669h2v1h-2zM374 665h2v1h-2zM541 658h3v1h-3zM547 658h3v1h-3zM85 694h2v1h-2zM193 694h2v1h-2zM988 719h2v1h-2zM709 619h3v1h-3zM764 619h2v1h-2zM1432 645h3v1h-3zM644 640h2v1h-2zM799 628h3v1h-3zM853 628h3v1h-3zM291 606h3v1h-3zM297 606h3v1h-3zM362 656h2v1h-2zM559 656h3v1h-3zM565 656h2v1h-2zM1367 656h2v1h-2zM122 704h2v1h-2zM127 704h3v1h-3zM469 679h2v1h-2zM607 649h3v1h-3zM613 649h2v1h-2zM1384 649h3v1h-3zM1018 732h3v1h-3zM667 630h2v1h-2zM811 630h3v1h-3zM847 630h2v1h-2zM1024 733h3v1h-3zM1030 733h3v1h-3zM1036 733h2v1h-2zM303 607h3v1h-3zM595 652h3v1h-3zM91 696h3v1h-3zM187 696h3v1h-3zM1055 727h2v1h-2zM205 688h2v1h-2zM410 688h2v1h-2zM439 688h3v1h-3zM1103 695h2v1h-2zM55 687h2v1h-2zM446 687h2v1h-2zM1115 687h2v1h-2zM1144 674h2v1h-2zM1252 674h3v1h-3zM1276 681h3v1h-3zM1319 681h2v1h-2zM499 666h3v1h-3zM1349 666h2v1h-2zM680 624h2v1h-2zM877 624h3v1h-3zM883 624h3v1h-3zM175 702h2v1h-2zM655 635h2v1h-2zM1354 663h2v1h-2zM601 650h3v1h-3zM650 637h2v1h-2zM223 676h2v1h-2zM475 676h2v1h-2zM80 693h2v1h-2zM109 701h2v1h-2zM1048 730h2v1h-2zM1000 725h2v1h-2zM994 722h2v1h-2zM1067 720h2v1h-2zM982 716h2v1h-2zM1073 716h2v1h-2zM505 664h2v1h-2zM316 612h2v1h-2zM1061 724h2v1h-2zM381 670h1v1h-1zM925 654h1v1h-1zM934 666h1v1h-1zM513 661h1v1h-1zM1114 688h1v1h-1zM914 641h1v2h-1zM928 658h1v2h-1zM239 659h1v1h-1zM953 688h1v1h-1zM996 723h1v1h-1zM517 661h1v1h-1zM357 651h1v1h-1zM1054 728h1v1h-1zM111 702h1v1h-1zM920 648h1v1h-1zM895 628h1v1h-1zM235 663h1v2h-1zM321 615h1v1h-1zM929 660h1v1h-1zM976 711h1v1h-1zM1078 713h1v1h-1zM909 636h1v1h-1zM267 623h1v1h-1zM1109 691h1v1h-1zM793 626h1v1h-1zM964 700h1v1h-1zM1110 690h1v1h-1zM960 696h1v1h-1zM977 712h1v1h-1zM45 686h1v1h-1zM338 631h1v1h-1zM643 641h1v1h-1zM970 706h1v1h-1zM1108 692h1v1h-1zM954 689h1v1h-1zM457 685h1v1h-1zM787 624h1v1h-1zM344 637h1v1h-1zM984 717h1v1h-1zM1356 662h1v1h-1zM219 679h1v1h-1zM379 668h1v1h-1zM955 690h1v1h-1zM1296 684h1v1h-1zM949 683h1v1h-1zM1348 667h1v1h-1zM333 625h1v1h-1zM257 635h1v1h-1zM329 621h1v1h-1zM258 633h1v2h-1zM380 669h1v1h-1zM355 649h1v1h-1zM971 707h1v1h-1zM335 627h1v1h-1zM351 645h1v1h-1zM361 655h1v1h-1zM345 638h1v2h-1zM867 625h1v1h-1zM908 635h1v1h-1zM823 631h1v1h-1zM99 698h1v1h-1zM507 663h1v1h-1zM217 681h1v1h-1zM445 688h1v1h-1zM281 610h1v1h-1zM919 647h1v1h-1zM1270 679h1v1h-1zM481 674h1v1h-1zM1318 682h1v1h-1zM274 616h1v1h-1zM775 620h1v1h-1zM403 684h1v1h-1zM21 683h1v1h-1zM567 655h1v1h-1zM369 661h1v1h-1zM937 670h1v1h-1zM1146 673h1v1h-1zM1090 705h1v1h-1zM1060 725h1v1h-1zM669 629h1v1h-1zM763 618h1v1h-1zM1150 673h1v1h-1zM965 701h1v1h-1zM234 665h1v1h-1zM105 700h1v1h-1zM1085 708h1v1h-1zM1380 650h1v1h-1zM1242 673h1v1h-1zM1072 717h1v1h-1zM783 623h1v1h-1zM249 646h1v1h-1zM250 645h1v1h-1zM1098 699h1v1h-1zM495 668h1v1h-1zM334 626h1v1h-1zM1084 709h1v1h-1zM950 684h1v1h-1zM615 648h1v1h-1zM262 628h1v1h-1zM245 651h1v1h-1zM619 648h1v1h-1zM248 647h1v1h-1zM673 628h1v1h-1zM972 708h1v1h-1zM165 704h1v1h-1zM945 678h1v1h-1zM913 640h1v1h-1zM244 652h1v2h-1zM1266 678h1v1h-1zM213 683h1v1h-1zM212 684h1v1h-1zM385 673h1v1h-1zM275 615h1v1h-1zM280 611h1v1h-1zM225 675h1v1h-1zM240 657h1v2h-1zM211 685h1v1h-1zM657 634h1v1h-1zM121 703h1v1h-1zM287 607h1v1h-1zM386 674h1v1h-1zM273 617h1v1h-1zM279 612h1v1h-1zM901 631h1v1h-1zM1374 653h1v1h-1zM932 664h1v1h-1zM948 682h1v1h-1zM1002 726h1v1h-1zM254 639h1v2h-1zM177 701h1v1h-1zM705 619h1v1h-1zM1086 707h1v1h-1zM451 687h1v1h-1zM938 671h1v1h-1zM1324 679h1v1h-1zM943 676h1v1h-1zM253 641h1v1h-1zM1330 676h1v1h-1zM924 653h1v1h-1zM263 627h1v1h-1zM939 672h1v1h-1zM1290 683h1v1h-1zM933 665h1v1h-1zM661 633h1v1h-1zM1206 671h1v1h-1zM1102 696h1v1h-1zM1126 681h1v1h-1zM261 629h1v1h-1zM195 693h1v1h-1zM1080 711h1v1h-1zM268 622h1v1h-1zM269 621h1v1h-1zM990 720h1v1h-1zM230 669h1v1h-1zM1066 721h1v1h-1zM79 692h1v1h-1zM944 677h1v1h-1zM1092 703h1v1h-1zM1038 732h1v1h-1zM1014 732h1v1h-1zM1122 683h1v1h-1zM1336 673h1v1h-1zM1079 712h1v1h-1zM465 681h1v1h-1zM228 671h1v1h-1zM229 670h1v1h-1zM959 695h1v1h-1zM397 681h1v1h-1zM1132 678h1v1h-1zM1091 704h1v1h-1zM57 688h1v1h-1zM315 611h1v1h-1zM201 690h1v1h-1zM349 643h1v1h-1zM115 702h1v1h-1zM207 687h1v1h-1zM1342 670h1v1h-1zM679 625h1v1h-1zM87 695h1v1h-1zM339 632h1v1h-1zM1360 660h1v1h-1zM373 664h1v1h-1zM471 678h1v1h-1zM769 619h1v1h-1zM627 645h1v1h-1zM387 675h1v1h-1zM477 675h1v1h-1zM978 713h1v1h-1zM1050 729h1v1h-1zM649 638h1v1h-1zM393 679h1v1h-1zM966 702h1v1h-1zM350 644h1v1h-1zM849 629h1v1h-1zM218 680h1v1h-1zM311 609h1v1h-1zM907 634h1v1h-1zM923 652h1v1h-1zM183 698h1v1h-1zM356 650h1v1h-1zM340 633h1v1h-1zM409 687h1v1h-1zM1008 729h1v1h-1zM1366 657h1v1h-1zM1314 683h1v1h-1zM958 694h1v1h-1zM918 646h1v1h-1z" fill="#ff0000" shape-rendering="crispEdges"/>
<g shape-rendering="crispEdges">
<line x1="0" y1="786.5" x2="1685" y2="786.5" stroke="#c0c0c0" stroke-width="1" stroke-dasharray="3 3" stroke-dashoffset="1"/>
<line x1="0" y1="837.5" x2="1685" y2="837.5" stroke="#c0c0c0" stroke-width="1" stroke-dasharray="3 3" stroke-dashoffset="1"/>
<line x1="0" y1="898.5" x2="1685" y2="898.5" stroke="#c0c0c0" stroke-width="1" stroke-dasharray="3 3" stroke-dashoffset="1"/>
</g>
<path d="M18 846h4v1h-4zM143 846h2v1h-2zM151 846h2v1h-2zM367 846h2v1h-2zM375 846h2v1h-2zM1027 846h2v1h-2zM1147 846h2v1h-2zM173 833h2v1h-2zM185 833h2v1h-2zM432 833h8v1h-8zM448 833h4v1h-4zM537 833h2v1h-2zM1382 833h4v1h-4zM1389 833h3v1h-3zM561 811h2v1h-2zM680 811h2v1h-2zM684 811h2v1h-2zM1326 811h4v1h-4zM551 816h2v1h-2zM740 816h2v1h-2zM758 816h2v1h-2zM795 816h5v1h-5zM1414 816h4v1h-4zM657 801h2v1h-2zM703 801h2v1h-2zM730 801h2v1h-2zM837 801h3v1h-3zM850 801h2v1h-2zM171 832h2v1h-2zM187 832h3v1h-3zM312 832h2v1h-2zM440 832h8v1h-8zM514 832h4v1h-4zM1091 832h2v1h-2zM1379 832h3v1h-3zM1392 832h2v1h-2zM14 845h4v1h-4zM51 845h2v1h-2zM141 845h2v1h-2zM153 845h2v1h-2zM365 845h2v1h-2zM377 845h2v1h-2zM1029 845h3v1h-3zM1149 845h2v1h-2zM559 812h2v1h-2zM682 812h2v1h-2zM1330 812h2v1h-2zM549 817h2v1h-2zM865 817h2v1h-2zM868 817h2v1h-2zM1411 817h3v1h-3zM463 823h2v1h-2zM474 823h4v1h-4zM598 823h4v1h-4zM1107 823h5v1h-5zM250 790h2v1h-2zM26 848h2v1h-2zM147 848h2v1h-2zM371 848h2v1h-2zM9 843h2v1h-2zM55 843h2v1h-2zM134 843h4v1h-4zM160 843h4v1h-4zM360 843h2v1h-2zM1034 843h3v1h-3zM1153 843h2v1h-2zM1224 843h2v1h-2zM246 791h4v1h-4zM3 840h2v1h-2zM127 840h2v1h-2zM283 840h5v1h-5zM296 840h4v1h-4zM1042 840h4v1h-4zM1055 840h2v1h-2zM1083 840h2v1h-2zM1131 840h3v1h-3zM1167 840h2v1h-2zM1203 840h3v1h-3zM1216 840h2v1h-2zM1293 840h3v1h-3zM1306 840h2v1h-2zM461 824h2v1h-2zM478 824h4v1h-4zM592 824h6v1h-6zM1105 824h2v1h-2zM1112 824h12v1h-12zM1355 824h3v1h-3zM194 830h4v1h-4zM497 830h2v1h-2zM502 830h4v1h-4zM509 830h3v1h-3zM522 830h2v1h-2zM776 830h8v1h-8zM1095 830h2v1h-2zM1375 830h2v1h-2zM1397 830h3v1h-3zM7 842h2v1h-2zM57 842h2v1h-2zM64 842h4v1h-4zM131 842h3v1h-3zM357 842h3v1h-3zM1037 842h3v1h-3zM1050 842h3v1h-3zM1155 842h10v1h-10zM1221 842h3v1h-3zM1298 842h4v1h-4zM811 807h3v1h-3zM826 807h2v1h-2zM332 851h2v1h-2zM390 851h4v1h-4zM1252 851h2v1h-2zM123 838h2v1h-2zM1059 838h3v1h-3zM1171 838h5v1h-5zM1210 838h3v1h-3zM459 825h2v1h-2zM482 825h6v1h-6zM584 825h8v1h-8zM1074 825h2v1h-2zM1353 825h2v1h-2zM1358 825h4v1h-4zM190 831h4v1h-4zM499 831h3v1h-3zM512 831h2v1h-2zM518 831h4v1h-4zM524 831h2v1h-2zM771 831h5v1h-5zM784 831h4v1h-4zM1093 831h2v1h-2zM1377 831h2v1h-2zM1394 831h3v1h-3zM125 839h2v1h-2zM1057 839h2v1h-2zM1134 839h2v1h-2zM1169 839h2v1h-2zM1206 839h4v1h-4zM1213 839h3v1h-3zM1291 839h2v1h-2zM634 793h10v1h-10zM675 809h2v1h-2zM818 809h4v1h-4zM920 866h2v1h-2zM928 866h12v1h-12zM1003 866h3v1h-3zM334 852h2v1h-2zM387 852h3v1h-3zM1254 852h2v1h-2zM1266 852h2v1h-2zM179 836h2v1h-2zM411 836h11v1h-11zM531 836h2v1h-2zM1066 836h2v1h-2zM912 868h5v1h-5zM968 868h4v1h-4zM1010 868h2v1h-2zM81 856h2v1h-2zM84 856h2v1h-2zM344 856h4v1h-4zM1239 856h2v1h-2zM219 800h11v1h-11zM659 800h5v1h-5zM705 800h2v1h-2zM840 800h2v1h-2zM846 800h4v1h-4zM1062 837h4v1h-4zM1137 837h2v1h-2zM1176 837h4v1h-4zM177 835h2v1h-2zM181 835h2v1h-2zM422 835h4v1h-4zM533 835h2v1h-2zM655 802h2v1h-2zM701 802h2v1h-2zM726 802h4v1h-4zM835 802h2v1h-2zM202 828h2v1h-2zM494 828h2v1h-2zM1191 828h2v1h-2zM1339 828h5v1h-5zM1348 828h2v1h-2zM1370 828h3v1h-3zM1402 828h2v1h-2zM22 847h4v1h-4zM145 847h2v1h-2zM149 847h2v1h-2zM369 847h2v1h-2zM373 847h2v1h-2zM1283 847h2v1h-2zM106 864h2v1h-2zM942 864h2v1h-2zM956 864h2v1h-2zM5 841h2v1h-2zM59 841h5v1h-5zM129 841h2v1h-2zM288 841h8v1h-8zM355 841h2v1h-2zM1040 841h2v1h-2zM1046 841h4v1h-4zM1053 841h2v1h-2zM1165 841h2v1h-2zM1218 841h3v1h-3zM1296 841h2v1h-2zM1302 841h4v1h-4zM553 815h2v1h-2zM800 815h4v1h-4zM1418 815h4v1h-4zM862 819h2v1h-2zM555 814h2v1h-2zM1318 814h2v1h-2zM1422 814h4v1h-4zM979 875h3v1h-3zM986 877h10v1h-10zM230 799h4v1h-4zM664 799h4v1h-4zM707 799h2v1h-2zM842 799h4v1h-4zM11 844h3v1h-3zM53 844h2v1h-2zM138 844h3v1h-3zM155 844h5v1h-5zM362 844h3v1h-3zM1032 844h2v1h-2zM1151 844h2v1h-2zM1226 844h2v1h-2zM907 867h5v1h-5zM917 867h3v1h-3zM960 867h2v1h-2zM1006 867h4v1h-4zM653 803h2v1h-2zM698 803h3v1h-3zM723 803h3v1h-3zM833 803h2v1h-2zM492 827h2v1h-2zM1100 827h2v1h-2zM1189 827h2v1h-2zM1350 827h2v1h-2zM1366 827h4v1h-4zM677 810h3v1h-3zM1323 810h3v1h-3zM859 820h3v1h-3zM872 820h2v1h-2zM394 850h10v1h-10zM651 804h2v1h-2zM696 804h2v1h-2zM79 855h2v1h-2zM86 855h2v1h-2zM339 855h5v1h-5zM1237 855h2v1h-2zM1259 855h2v1h-2zM104 863h2v1h-2zM954 863h2v1h-2zM101 862h3v1h-3zM945 862h2v1h-2zM950 862h4v1h-4zM547 818h2v1h-2zM608 818h2v1h-2zM465 822h2v1h-2zM470 822h4v1h-4zM602 822h2v1h-2zM198 829h4v1h-4zM308 829h2v1h-2zM506 829h3v1h-3zM1097 829h2v1h-2zM1193 829h2v1h-2zM1344 829h4v1h-4zM1373 829h2v1h-2zM1400 829h2v1h-2zM891 860h2v1h-2zM488 826h4v1h-4zM579 826h5v1h-5zM1102 826h2v1h-2zM1187 826h2v1h-2zM1362 826h4v1h-4zM175 834h2v1h-2zM183 834h2v1h-2zM426 834h6v1h-6zM528 834h2v1h-2zM535 834h2v1h-2zM1386 834h3v1h-3zM75 853h2v1h-2zM89 853h2v1h-2zM1264 853h2v1h-2zM236 797h2v1h-2zM711 797h2v1h-2zM963 869h5v1h-5zM691 806h2v1h-2zM828 806h2v1h-2zM688 808h2v1h-2zM814 808h4v1h-4zM822 808h4v1h-4zM713 796h2v1h-2zM467 821h3v1h-3zM604 821h2v1h-2zM557 813h2v1h-2zM744 813h2v1h-2zM762 813h2v1h-2zM1426 813h2v1h-2zM77 854h2v1h-2zM337 854h2v1h-2zM1235 854h2v1h-2zM1257 854h2v1h-2zM1261 854h3v1h-3zM693 805h3v1h-3zM830 805h2v1h-2zM99 861h2v1h-2zM947 861h3v1h-3zM922 865h6v1h-6zM940 865h2v1h-2zM1014 865h2v1h-2zM234 798h2v1h-2zM709 798h2v1h-2zM1241 857h2v1h-2zM982 876h4v1h-4zM974 871h2v1h-2zM240 794h2v1h-2zM630 794h4v1h-4zM627 795h3v1h-3zM243 792h3v1h-3zM1309 833h1v3h-1zM314 833h1v1h-1zM1337 824h1v2h-1zM669 801h1v2h-1zM254 796h1v2h-1zM170 833h1v2h-1zM1131 841h1v1h-1zM265 815h1v1h-1zM1279 836h1v3h-1zM1333 816h1v2h-1zM120 842h1v1h-1zM276 829h1v2h-1zM404 848h1v2h-1zM530 835h1v1h-1zM381 846h1v1h-1zM884 837h1v3h-1zM1020 859h1v2h-1zM687 809h1v1h-1zM216 806h1v2h-1zM542 826h1v2h-1zM165 840h1v1h-1zM251 791h1v1h-1zM382 847h1v1h-1zM280 835h1v2h-1zM877 825h1v2h-1zM1286 845h1v1h-1zM1180 835h1v2h-1zM1233 851h1v2h-1zM1086 838h1v1h-1zM973 870h1v1h-1zM1275 826h1v2h-1zM1089 834h1v1h-1zM1244 857h1v1h-1zM887 847h1v3h-1zM622 801h1v1h-1zM408 841h1v2h-1zM1404 826h1v2h-1zM74 851h1v2h-1zM546 819h1v2h-1zM215 808h1v3h-1zM306 829h1v2h-1zM204 827h1v1h-1zM996 875h1v2h-1zM1336 822h1v2h-1zM668 800h1v1h-1zM770 828h1v2h-1zM1077 828h1v2h-1zM527 833h1v1h-1zM857 815h1v3h-1zM898 853h1v1h-1zM906 865h1v2h-1zM253 794h1v2h-1zM890 857h1v3h-1zM1130 838h1v2h-1zM1141 838h1v2h-1zM302 835h1v2h-1zM275 828h1v1h-1zM454 830h1v1h-1zM1142 840h1v1h-1zM766 818h1v3h-1zM883 835h1v2h-1zM1430 816h1v1h-1zM569 816h1v1h-1zM279 834h1v1h-1zM876 823h1v2h-1zM1251 850h1v1h-1zM606 820h1v1h-1zM1431 817h1v1h-1zM792 821h1v2h-1zM886 844h1v3h-1zM42 854h1v1h-1zM207 823h1v1h-1zM1074 826h1v1h-1zM210 819h1v1h-1zM610 817h1v1h-1zM1099 828h1v1h-1zM73 850h1v1h-1zM39 857h1v1h-1zM1069 833h1v1h-1zM757 817h1v1h-1zM808 810h1v1h-1zM526 832h1v1h-1zM962 868h1v1h-1zM1270 841h1v3h-1zM1198 834h1v1h-1zM1335 820h1v2h-1zM864 818h1v1h-1zM750 814h1v1h-1zM1274 828h1v3h-1zM1199 835h1v1h-1zM999 871h1v2h-1zM905 863h1v2h-1zM320 839h1v1h-1zM720 800h1v1h-1zM751 815h1v1h-1zM1232 850h1v1h-1zM268 819h1v1h-1zM1129 836h1v2h-1zM618 806h1v2h-1zM1278 833h1v3h-1zM321 840h1v1h-1zM407 843h1v1h-1zM721 801h1v1h-1zM219 801h1v1h-1zM1186 827h1v2h-1zM568 815h1v1h-1zM282 838h1v2h-1zM765 816h1v2h-1zM545 821h1v2h-1zM879 828h1v2h-1zM746 812h1v1h-1zM1018 862h1v1h-1zM1183 831h1v2h-1zM1407 822h1v2h-1zM880 830h1v1h-1zM613 813h1v1h-1zM327 846h1v1h-1zM1282 844h1v3h-1zM119 843h1v2h-1zM1313 822h1v3h-1zM351 848h1v2h-1zM328 847h1v1h-1zM1338 826h1v2h-1zM761 814h1v1h-1zM575 822h1v1h-1zM1076 826h1v2h-1zM670 803h1v1h-1zM541 828h1v2h-1zM164 841h1v2h-1zM889 853h1v4h-1zM114 850h1v2h-1zM671 804h1v1h-1zM1246 855h1v1h-1zM1072 828h1v2h-1zM621 802h1v2h-1zM1332 814h1v2h-1zM769 826h1v2h-1zM267 818h1v1h-1zM885 840h1v4h-1zM1316 816h1v1h-1zM904 861h1v2h-1zM1312 825h1v3h-1zM644 794h1v2h-1zM882 833h1v2h-1zM853 805h1v3h-1zM791 823h1v2h-1zM214 811h1v2h-1zM764 814h1v2h-1zM238 796h1v1h-1zM278 832h1v2h-1zM1126 830h1v2h-1zM875 822h1v1h-1zM281 837h1v1h-1zM878 827h1v1h-1zM958 865h1v1h-1zM1068 834h1v2h-1zM122 839h1v2h-1zM305 831h1v1h-1zM242 793h1v1h-1zM1026 847h1v2h-1zM738 815h1v2h-1zM1197 832h1v2h-1zM1334 818h1v2h-1zM46 850h1v1h-1zM98 860h1v1h-1zM856 813h1v2h-1zM1002 867h1v2h-1zM1201 837h1v2h-1zM218 802h1v2h-1zM1025 849h1v2h-1zM1140 837h1v1h-1zM544 823h1v2h-1zM1234 853h1v1h-1zM1285 846h1v1h-1zM1320 813h1v1h-1zM1331 813h1v1h-1zM1288 842h1v1h-1zM871 819h1v1h-1zM252 792h1v2h-1zM1269 844h1v4h-1zM410 837h1v2h-1zM901 855h1v2h-1zM1250 851h1v1h-1zM383 848h1v1h-1zM1125 828h1v2h-1zM1283 848h1v1h-1zM113 852h1v2h-1zM1083 841h1v1h-1zM540 830h1v2h-1zM1273 831h1v4h-1zM1021 857h1v2h-1zM1410 818h1v2h-1zM206 824h1v1h-1zM384 849h1v1h-1zM456 828h1v1h-1zM91 852h1v1h-1zM83 857h1v1h-1zM167 837h1v2h-1zM406 844h1v2h-1zM315 834h1v1h-1zM213 813h1v2h-1zM715 795h1v1h-1zM870 818h1v1h-1zM117 846h1v1h-1zM673 806h1v2h-1zM768 823h1v3h-1zM316 835h1v1h-1zM109 860h1v2h-1zM716 796h1v1h-1zM266 816h1v2h-1zM269 820h1v2h-1zM855 810h1v3h-1zM612 814h1v2h-1zM903 859h1v2h-1zM563 810h1v1h-1zM615 810h1v2h-1zM895 856h1v2h-1zM1200 836h1v1h-1zM352 846h1v2h-1zM1128 834h1v2h-1zM270 822h1v1h-1zM1013 866h1v1h-1zM1182 833h1v1h-1zM209 820h1v2h-1zM753 817h1v1h-1zM1352 826h1v1h-1zM1277 831h1v2h-1zM881 831h1v2h-1zM1143 841h1v1h-1zM41 855h1v1h-1zM1406 824h1v1h-1zM900 853h1v2h-1zM323 842h1v1h-1zM810 808h1v1h-1zM108 862h1v2h-1zM1268 848h1v3h-1zM570 817h1v1h-1zM1071 830h1v1h-1zM737 813h1v2h-1zM1432 818h1v1h-1zM832 804h1v1h-1zM1315 817h1v2h-1zM998 873h1v1h-1zM1001 869h1v1h-1zM790 825h1v2h-1zM1433 819h1v1h-1zM771 830h1v1h-1zM734 807h1v2h-1zM577 824h1v1h-1zM1256 853h1v1h-1zM620 804h1v1h-1zM304 832h1v2h-1zM1185 829h1v1h-1zM854 808h1v2h-1zM1314 819h1v3h-1zM1017 863h1v1h-1zM1127 832h1v2h-1zM1409 820h1v1h-1zM310 830h1v1h-1zM322 841h1v1h-1zM722 802h1v1h-1zM794 817h1v2h-1zM763 812h1v1h-1zM48 848h1v1h-1zM1276 828h1v3h-1zM311 831h1v1h-1zM888 850h1v3h-1zM899 852h1v1h-1zM1124 826h1v2h-1zM1024 851h1v2h-1zM116 847h1v2h-1zM756 818h1v1h-1zM1248 853h1v1h-1zM736 811h1v2h-1zM1082 838h1v2h-1zM1287 843h1v2h-1zM1322 811h1v1h-1zM1311 828h1v2h-1zM760 815h1v1h-1zM329 848h1v1h-1zM623 800h1v1h-1zM1280 839h1v3h-1zM1272 835h1v3h-1zM36 860h1v1h-1zM259 806h1v2h-1zM805 813h1v1h-1zM752 816h1v1h-1zM112 854h1v2h-1zM672 805h1v1h-1zM409 839h1v2h-1zM902 857h1v2h-1zM1310 830h1v3h-1zM767 821h1v2h-1zM2 838h1v2h-1zM1070 831h1v2h-1zM273 825h1v2h-1zM379 844h1v1h-1zM789 827h1v2h-1zM212 815h1v2h-1zM1271 838h1v3h-1zM646 797h1v1h-1zM1146 845h1v1h-1zM405 846h1v2h-1zM959 866h1v1h-1zM385 850h1v1h-1zM29 851h1v2h-1zM166 839h1v1h-1zM576 823h1v1h-1zM386 851h1v1h-1zM858 818h1v2h-1zM1290 840h1v1h-1zM607 819h1v1h-1zM733 805h1v2h-1zM93 854h1v1h-1zM43 853h1v1h-1zM686 810h1v1h-1zM611 816h1v1h-1zM891 861h1v1h-1zM1229 846h1v2h-1zM258 804h1v2h-1zM1104 825h1v1h-1zM645 796h1v1h-1zM793 819h1v2h-1zM1145 843h1v2h-1zM1085 839h1v1h-1zM1243 858h1v1h-1zM208 822h1v1h-1zM458 826h1v1h-1zM565 812h1v1h-1zM1267 851h1v1h-1zM1123 825h1v1h-1zM851 802h1v1h-1zM169 835h1v1h-1zM1081 836h1v2h-1zM739 817h1v1h-1zM894 858h1v1h-1zM897 854h1v1h-1zM626 796h1v1h-1zM111 856h1v2h-1zM260 808h1v2h-1zM92 853h1v1h-1zM743 814h1v1h-1zM28 849h1v2h-1zM732 803h1v2h-1zM1202 839h1v1h-1zM261 810h1v1h-1zM690 807h1v1h-1zM1435 821h1v1h-1zM1012 867h1v1h-1zM1088 835h1v1h-1zM1308 836h1v3h-1zM674 808h1v1h-1zM788 829h1v2h-1zM211 817h1v2h-1zM317 836h1v1h-1zM717 797h1v1h-1zM1 836h1v2h-1zM350 850h1v2h-1zM47 849h1v1h-1zM1023 853h1v2h-1zM648 800h1v1h-1zM272 824h1v1h-1zM1000 870h1v1h-1zM1317 815h1v1h-1zM324 843h1v1h-1zM115 849h1v1h-1zM807 811h1v1h-1zM735 809h1v2h-1zM1434 820h1v1h-1zM1080 834h1v2h-1zM31 854h1v2h-1zM1281 842h1v2h-1zM747 811h1v1h-1zM453 831h1v1h-1zM976 872h1v1h-1zM32 856h1v1h-1zM1019 861h1v1h-1zM1195 830h1v1h-1zM35 861h1v1h-1zM496 829h1v1h-1zM614 812h1v1h-1zM977 873h1v1h-1zM257 802h1v2h-1zM301 837h1v1h-1zM564 811h1v1h-1zM1408 821h1v1h-1zM331 850h1v1h-1zM50 846h1v1h-1zM271 823h1v1h-1zM754 818h1v1h-1zM1144 842h1v1h-1zM1136 838h1v1h-1zM118 845h1v1h-1zM1247 854h1v1h-1zM1073 827h1v1h-1zM571 818h1v1h-1zM68 843h1v2h-1zM625 797h1v2h-1zM38 858h1v1h-1zM572 819h1v1h-1zM867 816h1v1h-1zM69 845h1v1h-1zM859 821h1v1h-1zM1087 836h1v2h-1zM1079 832h1v2h-1zM30 853h1v1h-1zM617 808h1v1h-1zM804 814h1v1h-1zM354 842h1v2h-1zM95 856h1v2h-1zM578 825h1v1h-1zM1228 845h1v1h-1zM256 800h1v2h-1zM264 814h1v1h-1zM96 858h1v1h-1zM731 802h1v1h-1zM88 854h1v1h-1zM647 798h1v2h-1zM457 827h1v1h-1zM110 858h1v2h-1zM0 834h1v2h-1zM852 803h1v2h-1zM274 827h1v1h-1zM972 869h1v1h-1zM168 836h1v1h-1zM1289 841h1v1h-1zM45 851h1v1h-1zM217 804h1v2h-1zM34 859h1v2h-1zM893 859h1v1h-1zM300 838h1v2h-1zM349 852h1v2h-1zM330 849h1v1h-1zM1245 856h1v1h-1zM1022 855h1v2h-1zM263 812h1v2h-1zM94 855h1v1h-1zM307 828h1v1h-1zM205 825h1v2h-1zM380 845h1v1h-1zM319 838h1v1h-1zM719 799h1v1h-1zM121 841h1v1h-1zM1231 849h1v1h-1zM1429 815h1v1h-1zM896 855h1v1h-1zM353 844h1v2h-1zM742 815h1v1h-1zM1090 833h1v1h-1zM33 857h1v2h-1zM72 849h1v1h-1zM452 832h1v1h-1zM749 813h1v1h-1zM1181 834h1v1h-1zM978 874h1v1h-1zM49 847h1v1h-1zM1230 848h1v1h-1zM262 811h1v1h-1zM1307 839h1v1h-1zM40 856h1v1h-1zM809 809h1v1h-1zM566 813h1v1h-1zM255 798h1v2h-1zM944 863h1v1h-1zM650 802h1v2h-1zM1428 814h1v1h-1zM539 832h1v1h-1zM567 814h1v1h-1zM997 874h1v1h-1zM455 829h1v1h-1zM348 854h1v2h-1zM37 859h1v1h-1zM277 831h1v1h-1zM874 821h1v1h-1zM239 795h1v1h-1zM573 820h1v1h-1zM71 847h1v2h-1zM543 825h1v1h-1zM616 809h1v1h-1zM1078 830h1v2h-1zM303 834h1v1h-1zM326 845h1v1h-1zM574 821h1v1h-1zM1184 830h1v1h-1zM748 812h1v1h-1zM1016 864h1v1h-1zM1405 825h1v1h-1zM1196 831h1v1h-1zM318 837h1v1h-1zM718 798h1v1h-1zM1249 852h1v1h-1zM97 859h1v1h-1zM1075 824h1v1h-1zM624 799h1v1h-1zM1139 836h1v1h-1zM649 801h1v1h-1zM755 819h1v1h-1zM806 812h1v1h-1zM1321 812h1v1h-1zM325 844h1v1h-1zM336 853h1v1h-1zM44 852h1v1h-1zM619 805h1v1h-1zM70 846h1v1h-1z" fill="#1e90ff" shape-rendering="crispEdges"/>
<g shape-rendering="crispEdges" fill="#000">
<rect x="0" y="23" width="1686" height="1" fill="#000" />
<rect x="1685" y="23" width="1" height="902" fill="#000" />
<rect x="0" y="576" width="1686" height="1" fill="#000" />
<rect x="0" y="577" width="1732" height="1" fill="#fff" />
<rect x="0" y="578" width="1686" height="1" fill="#000" />
<rect x="0" y="748" width="1686" height="1" fill="#000" />
<rect x="0" y="749" width="1732" height="1" fill="#fff" />
<rect x="0" y="750" width="1686" height="1" fill="#000" />
<rect x="0" y="924" width="1688" height="1" fill="#000" />
<rect x="1686" y="45" width="2" height="1" fill="#000" />
<rect x="1686" y="78" width="2" height="1" fill="#000" />
<rect x="1686" y="111" width="2" height="1" fill="#000" />
<rect x="1686" y="144" width="2" height="1" fill="#000" />
<rect x="1686" y="177" width="2" height="1" fill="#000" />
<rect x="1686" y="210" width="2" height="1" fill="#000" />
<rect x="1686" y="243" width="2" height="1" fill="#000" />
<rect x="1686" y="276" width="2" height="1" fill="#000" />
<rect x="1686" y="309" width="2" height="1" fill="#000" />
<rect x="1686" y="342" width="2" height="1" fill="#000" />
<rect x="1686" y="375" width="2" height="1" fill="#000" />
<rect x="1686" y="408" width="2" height="1" fill="#000" />
<rect x="1686" y="441" width="2" height="1" fill="#000" />
<rect x="1686" y="474" width="2" height="1" fill="#000" />
<rect x="1686" y="507" width="2" height="1" fill="#000" />
<rect x="1686" y="540" width="2" height="1" fill="#000" />
<rect x="1686" y="573" width="2" height="1" fill="#000" />
<rect x="59" y="924" width="1" height="4" fill="#000" />
<rect x="123" y="924" width="1" height="4" fill="#000" />
<rect x="187" y="924" width="1" height="4" fill="#000" />
<rect x="251" y="924" width="1" height="4" fill="#000" />
<rect x="315" y="924" width="1" height="4" fill="#000" />
<rect x="379" y="924" width="1" height="4" fill="#000" />
<rect x="443" y="924" width="1" height="4" fill="#000" />
<rect x="507" y="924" width="1" height="4" fill="#000" />
<rect x="571" y="924" width="1" height="4" fill="#000" />
<rect x="635" y="924" width="1" height="4" fill="#000" />
<rect x="699" y="924" width="1" height="4" fill="#000" />
<rect x="763" y="924" width="1" height="4" fill="#000" />
<rect x="827" y="924" width="1" height="4" fill="#000" />
<rect x="891" y="924" width="1" height="4" fill="#000" />
<rect x="955" y="924" width="1" height="4" fill="#000" />
<rect x="1019" y="924" width="1" height="4" fill="#000" />
<rect x="1083" y="924" width="1" height="4" fill="#000" />
<rect x="1147" y="924" width="1" height="4" fill="#000" />
<rect x="1211" y="924" width="1" height="4" fill="#000" />
<rect x="1275" y="924" width="1" height="4" fill="#000" />
<rect x="1339" y="924" width="1" height="4" fill="#000" />
<rect x="1403" y="924" width="1" height="4" fill="#000" />
<rect x="1686" y="580" width="2" height="1" fill="#000" />
<rect x="1686" y="672" width="2" height="1" fill="#000" />
<rect x="1686" y="746" width="2" height="1" fill="#000" />
</g>
<text x="1691.5" y="49" font-size="9.8" fill="#000" text-anchor="start" font-weight="normal" textLength="32.3" lengthAdjust="spacingAndGlyphs" stroke="#000" stroke-width="0.18" >142.835</text>
<text x="1691.5" y="82" font-size="9.8" fill="#000" text-anchor="start" font-weight="normal" textLength="32.3" lengthAdjust="spacingAndGlyphs" stroke="#000" stroke-width="0.18" >141.985</text>
<text x="1691.5" y="115" font-size="9.8" fill="#000" text-anchor="start" font-weight="normal" textLength="32.3" lengthAdjust="spacingAndGlyphs" stroke="#000" stroke-width="0.18" >141.135</text>
<text x="1691.5" y="148" font-size="9.8" fill="#000" text-anchor="start" font-weight="normal" textLength="32.3" lengthAdjust="spacingAndGlyphs" stroke="#000" stroke-width="0.18" >140.285</text>
<text x="1691.5" y="181" font-size="9.8" fill="#000" text-anchor="start" font-weight="normal" textLength="32.3" lengthAdjust="spacingAndGlyphs" stroke="#000" stroke-width="0.18" >139.435</text>
<text x="1691.5" y="214" font-size="9.8" fill="#000" text-anchor="start" font-weight="normal" textLength="32.3" lengthAdjust="spacingAndGlyphs" stroke="#000" stroke-width="0.18" >138.585</text>
<text x="1691.5" y="247" font-size="9.8" fill="#000" text-anchor="start" font-weight="normal" textLength="32.3" lengthAdjust="spacingAndGlyphs" stroke="#000" stroke-width="0.18" >137.735</text>
<text x="1691.5" y="280" font-size="9.8" fill="#000" text-anchor="start" font-weight="normal" textLength="32.3" lengthAdjust="spacingAndGlyphs" stroke="#000" stroke-width="0.18" >136.885</text>
<text x="1691.5" y="313" font-size="9.8" fill="#000" text-anchor="start" font-weight="normal" textLength="32.3" lengthAdjust="spacingAndGlyphs" stroke="#000" stroke-width="0.18" >136.035</text>
<text x="1691.5" y="346" font-size="9.8" fill="#000" text-anchor="start" font-weight="normal" textLength="32.3" lengthAdjust="spacingAndGlyphs" stroke="#000" stroke-width="0.18" >135.185</text>
<text x="1691.5" y="379" font-size="9.8" fill="#000" text-anchor="start" font-weight="normal" textLength="32.3" lengthAdjust="spacingAndGlyphs" stroke="#000" stroke-width="0.18" >134.335</text>
<text x="1691.5" y="412" font-size="9.8" fill="#000" text-anchor="start" font-weight="normal" textLength="32.3" lengthAdjust="spacingAndGlyphs" stroke="#000" stroke-width="0.18" >133.485</text>
<text x="1691.5" y="445" font-size="9.8" fill="#000" text-anchor="start" font-weight="normal" textLength="32.3" lengthAdjust="spacingAndGlyphs" stroke="#000" stroke-width="0.18" >132.635</text>
<text x="1691.5" y="478" font-size="9.8" fill="#000" text-anchor="start" font-weight="normal" textLength="32.3" lengthAdjust="spacingAndGlyphs" stroke="#000" stroke-width="0.18" >131.785</text>
<text x="1691.5" y="511" font-size="9.8" fill="#000" text-anchor="start" font-weight="normal" textLength="32.3" lengthAdjust="spacingAndGlyphs" stroke="#000" stroke-width="0.18" >130.935</text>
<text x="1691.5" y="544" font-size="9.8" fill="#000" text-anchor="start" font-weight="normal" textLength="32.3" lengthAdjust="spacingAndGlyphs" stroke="#000" stroke-width="0.18" >130.085</text>
<text x="1691.5" y="577" font-size="9.8" fill="#000" text-anchor="start" font-weight="normal" textLength="32.3" lengthAdjust="spacingAndGlyphs" stroke="#000" stroke-width="0.18" >129.235</text>
<rect x="1687" y="138" width="41" height="11" fill="#ff0000" shape-rendering="crispEdges"/>
<text x="1691.5" y="147" font-size="9.8" fill="#fff" text-anchor="start" font-weight="normal" textLength="32.3" lengthAdjust="spacingAndGlyphs" >140.281</text>
<rect x="1687" y="154" width="41" height="11" fill="#ff0000" shape-rendering="crispEdges"/>
<text x="1691.5" y="163" font-size="9.8" fill="#fff" text-anchor="start" font-weight="normal" textLength="32.3" lengthAdjust="spacingAndGlyphs" >139.869</text>
<rect x="1687" y="171" width="41" height="11" fill="#32cd32" shape-rendering="crispEdges"/>
<text x="1691.5" y="180" font-size="9.8" fill="#fff" text-anchor="start" font-weight="normal" textLength="32.3" lengthAdjust="spacingAndGlyphs" >139.431</text>
<rect x="1687" y="182" width="41" height="11" fill="#000" shape-rendering="crispEdges"/>
<text x="1691.5" y="191" font-size="9.8" fill="#fff" text-anchor="start" font-weight="normal" textLength="32.3" lengthAdjust="spacingAndGlyphs" >139.177</text>
<rect x="1687" y="199" width="41" height="11" fill="#0000ff" shape-rendering="crispEdges"/>
<text x="1691.5" y="208" font-size="9.8" fill="#fff" text-anchor="start" font-weight="normal" textLength="32.3" lengthAdjust="spacingAndGlyphs" >138.711</text>
<rect x="1687" y="217" width="41" height="11" fill="#0000ff" shape-rendering="crispEdges"/>
<text x="1691.5" y="226" font-size="9.8" fill="#fff" text-anchor="start" font-weight="normal" textLength="32.3" lengthAdjust="spacingAndGlyphs" >138.247</text>
<rect x="1680.5" y="158.5" width="4" height="4" fill="#fff" stroke="#ff0000" stroke-width="1" shape-rendering="crispEdges"/>
<rect x="1680.5" y="221.5" width="4" height="4" fill="#fff" stroke="#0000ff" stroke-width="1" shape-rendering="crispEdges"/>
<text x="1689" y="589" font-size="9.8" fill="#000" text-anchor="start" font-weight="normal" textLength="22.5" lengthAdjust="spacingAndGlyphs" stroke="#000" stroke-width="0.18" >1.787</text>
<text x="1689" y="676" font-size="9.8" fill="#000" text-anchor="start" font-weight="normal" textLength="17.5" lengthAdjust="spacingAndGlyphs" stroke="#000" stroke-width="0.18" >0.00</text>
<text x="1689" y="745" font-size="9.8" fill="#000" text-anchor="start" font-weight="normal" textLength="25.5" lengthAdjust="spacingAndGlyphs" stroke="#000" stroke-width="0.18" >-1.471</text>
<text x="1689" y="760.9" font-size="9.8" fill="#000" text-anchor="start" font-weight="normal" textLength="14.399999999999999" lengthAdjust="spacingAndGlyphs" stroke="#000" stroke-width="0.18" >100</text>
<text x="1689" y="789.9" font-size="9.8" fill="#000" text-anchor="start" font-weight="normal" textLength="9.6" lengthAdjust="spacingAndGlyphs" stroke="#000" stroke-width="0.18" >80</text>
<text x="1689" y="840.9" font-size="9.8" fill="#000" text-anchor="start" font-weight="normal" textLength="9.6" lengthAdjust="spacingAndGlyphs" stroke="#000" stroke-width="0.18" >50</text>
<text x="1689" y="901.9" font-size="9.8" fill="#000" text-anchor="start" font-weight="normal" textLength="9.6" lengthAdjust="spacingAndGlyphs" stroke="#000" stroke-width="0.18" >15</text>
<text x="1689" y="920.9" font-size="9.8" fill="#000" text-anchor="start" font-weight="normal" textLength="4.8" lengthAdjust="spacingAndGlyphs" stroke="#000" stroke-width="0.18" >0</text>
<text x="-5.5" y="936.6" font-size="9.8" fill="#000" text-anchor="start" font-weight="normal" textLength="51" lengthAdjust="spacingAndGlyphs" stroke="#000" stroke-width="0.18" >30 Apr 2020</text>
<text x="58.5" y="936.6" font-size="9.8" fill="#000" text-anchor="start" font-weight="normal" textLength="54.6" lengthAdjust="spacingAndGlyphs" stroke="#000" stroke-width="0.18" >10 May 2020</text>
<text x="122.5" y="936.6" font-size="9.8" fill="#000" text-anchor="start" font-weight="normal" textLength="54.6" lengthAdjust="spacingAndGlyphs" stroke="#000" stroke-width="0.18" >19 May 2020</text>
<text x="186.5" y="936.6" font-size="9.8" fill="#000" text-anchor="start" font-weight="normal" textLength="54.6" lengthAdjust="spacingAndGlyphs" stroke="#000" stroke-width="0.18" >28 May 2020</text>
<text x="250.5" y="936.6" font-size="9.8" fill="#000" text-anchor="start" font-weight="normal" textLength="44.25" lengthAdjust="spacingAndGlyphs" stroke="#000" stroke-width="0.18" >7 Jun 2020</text>
<text x="314.5" y="936.6" font-size="9.8" fill="#000" text-anchor="start" font-weight="normal" textLength="49.5" lengthAdjust="spacingAndGlyphs" stroke="#000" stroke-width="0.18" >16 Jun 2020</text>
<text x="378.5" y="936.6" font-size="9.8" fill="#000" text-anchor="start" font-weight="normal" textLength="49.5" lengthAdjust="spacingAndGlyphs" stroke="#000" stroke-width="0.18" >25 Jun 2020</text>
<text x="442.5" y="936.6" font-size="9.8" fill="#000" text-anchor="start" font-weight="normal" textLength="41.25" lengthAdjust="spacingAndGlyphs" stroke="#000" stroke-width="0.18" >5 Jul 2020</text>
<text x="506.5" y="936.6" font-size="9.8" fill="#000" text-anchor="start" font-weight="normal" textLength="46.4" lengthAdjust="spacingAndGlyphs" stroke="#000" stroke-width="0.18" >14 Jul 2020</text>
<text x="570.5" y="936.6" font-size="9.8" fill="#000" text-anchor="start" font-weight="normal" textLength="46.4" lengthAdjust="spacingAndGlyphs" stroke="#000" stroke-width="0.18" >23 Jul 2020</text>
<text x="634.5" y="936.6" font-size="9.8" fill="#000" text-anchor="start" font-weight="normal" textLength="47.5" lengthAdjust="spacingAndGlyphs" stroke="#000" stroke-width="0.18" >2 Aug 2020</text>
<text x="698.5" y="936.6" font-size="9.8" fill="#000" text-anchor="start" font-weight="normal" textLength="52.6" lengthAdjust="spacingAndGlyphs" stroke="#000" stroke-width="0.18" >11 Aug 2020</text>
<text x="762.5" y="936.6" font-size="9.8" fill="#000" text-anchor="start" font-weight="normal" textLength="52.6" lengthAdjust="spacingAndGlyphs" stroke="#000" stroke-width="0.18" >20 Aug 2020</text>
<text x="826.5" y="936.6" font-size="9.8" fill="#000" text-anchor="start" font-weight="normal" textLength="52.6" lengthAdjust="spacingAndGlyphs" stroke="#000" stroke-width="0.18" >30 Aug 2020</text>
<text x="890.5" y="936.6" font-size="9.8" fill="#000" text-anchor="start" font-weight="normal" textLength="46.75" lengthAdjust="spacingAndGlyphs" stroke="#000" stroke-width="0.18" >8 Sep 2020</text>
<text x="954.5" y="936.6" font-size="9.8" fill="#000" text-anchor="start" font-weight="normal" textLength="51.5" lengthAdjust="spacingAndGlyphs" stroke="#000" stroke-width="0.18" >17 Sep 2020</text>
<text x="1018.5" y="936.6" font-size="9.8" fill="#000" text-anchor="start" font-weight="normal" textLength="51.5" lengthAdjust="spacingAndGlyphs" stroke="#000" stroke-width="0.18" >27 Sep 2020</text>
<text x="1082.5" y="936.6" font-size="9.8" fill="#000" text-anchor="start" font-weight="normal" textLength="46" lengthAdjust="spacingAndGlyphs" stroke="#000" stroke-width="0.18" >6 Oct 2020</text>
<text x="1146.5" y="936.6" font-size="9.8" fill="#000" text-anchor="start" font-weight="normal" textLength="50.4" lengthAdjust="spacingAndGlyphs" stroke="#000" stroke-width="0.18" >15 Oct 2020</text>
<text x="1210.5" y="936.6" font-size="9.8" fill="#000" text-anchor="start" font-weight="normal" textLength="50.4" lengthAdjust="spacingAndGlyphs" stroke="#000" stroke-width="0.18" >25 Oct 2020</text>
<text x="1274.5" y="936.6" font-size="9.8" fill="#000" text-anchor="start" font-weight="normal" textLength="48.5" lengthAdjust="spacingAndGlyphs" stroke="#000" stroke-width="0.18" >3 Nov 2020</text>
<text x="1338.5" y="936.6" font-size="9.8" fill="#000" text-anchor="start" font-weight="normal" textLength="53.25" lengthAdjust="spacingAndGlyphs" stroke="#000" stroke-width="0.18" >12 Nov 2020</text>
<text x="1402.5" y="936.6" font-size="9.8" fill="#000" text-anchor="start" font-weight="normal" textLength="53.25" lengthAdjust="spacingAndGlyphs" stroke="#000" stroke-width="0.18" >22 Nov 2020</text>
<text x="0" y="591" font-size="9.8" fill="#000" text-anchor="start" font-weight="normal" textLength="127" lengthAdjust="spacingAndGlyphs" stroke="#000" stroke-width="0.18" >MACD(12,26,9) 0.6738 0.5224</text>
<text x="-1" y="763" font-size="9.8" fill="#000" text-anchor="start" font-weight="normal" textLength="68" lengthAdjust="spacingAndGlyphs" stroke="#000" stroke-width="0.18" >RSI(14) 59.6329</text>
<polygon points="0,34 3,30 6,34" fill="#000"/>
<text x="10" y="35.3" font-size="9.8" fill="#000" text-anchor="start" font-weight="normal" textLength="63" lengthAdjust="spacingAndGlyphs" stroke="#000" stroke-width="0.18" >GBPJPY-,Daily</text>
<text x="79" y="35.3" font-size="9.8" fill="#000" text-anchor="start" font-weight="normal" textLength="141" lengthAdjust="spacingAndGlyphs" stroke="#000" stroke-width="0.18" >139.706 139.770 138.908 139.177</text>
<defs>
<linearGradient id="gb1" x1="0" y1="0" x2="0" y2="1"><stop offset="0" stop-color="#5858fa"/><stop offset="1" stop-color="#3232e2"/></linearGradient>
<linearGradient id="gb2" x1="0" y1="0" x2="0" y2="1"><stop offset="0" stop-color="#3a3ae0"/><stop offset="0.5" stop-color="#1c1ccc"/><stop offset="1" stop-color="#0000a0"/></linearGradient>
<linearGradient id="gb2u" gradientUnits="userSpaceOnUse" x1="0" y1="68" x2="0" y2="107"><stop offset="0" stop-color="#3a3ae0"/><stop offset="0.5" stop-color="#1c1ccc"/><stop offset="1" stop-color="#0000a0"/></linearGradient>
<linearGradient id="gbtn" x1="0" y1="0" x2="0" y2="1"><stop offset="0" stop-color="#f2f2f2"/><stop offset="0.5" stop-color="#dcdcdc"/><stop offset="1" stop-color="#cfcfcf"/></linearGradient>
</defs>
<g shape-rendering="crispEdges">
<rect x="0" y="43" width="50" height="25" fill="url(#gb1)"/>
<rect x="165" y="43" width="52" height="25" fill="url(#gb1)"/>
<rect x="0" y="68" width="107" height="39" fill="url(#gb2)"/>
<rect x="109" y="68" width="108" height="39" fill="url(#gb2)"/>
<rect x="50" y="66" width="57" height="2" fill="#3434e0"/>
<rect x="109" y="66" width="56" height="2" fill="#3434e0"/>
<rect x="2" y="66" width="44" height="1" fill="#10108c"/><rect x="2" y="67" width="44" height="1" fill="#7c7cee"/>
<rect x="169" y="66" width="44" height="1" fill="#10108c"/><rect x="169" y="67" width="44" height="1" fill="#7c7cee"/>
<rect x="0" y="43" width="50" height="1" fill="#2c2cb4"/><rect x="165" y="43" width="52" height="1" fill="#2c2cb4"/>
<rect x="49" y="43" width="1" height="25" fill="#2424ac"/><rect x="165" y="43" width="1" height="25" fill="#2424ac"/>
<rect x="50" y="42" width="115" height="25" fill="#fff"/>
<rect x="52.5" y="43.5" width="110" height="21" fill="#fff" stroke="#a8a8a8" stroke-width="1"/>
<rect x="53" y="44" width="20" height="20" fill="url(#gbtn)"/>
<rect x="142" y="44" width="20" height="20" fill="url(#gbtn)"/>
<rect x="73" y="44" width="1" height="20" fill="#b8b8b8"/>
<rect x="141" y="44" width="1" height="20" fill="#b8b8b8"/>
</g>
<polygon points="60,52 65,52 62.5,55" fill="#5a6a9a"/>
<polygon points="149,55 154,55 151.5,52" fill="#5a6a9a"/>
<text x="137.5" y="58" font-size="12" text-anchor="end" fill="#000" textLength="23" lengthAdjust="spacingAndGlyphs">1.00</text>
<text x="10.5" y="59" font-size="12.6" fill="#fff" textLength="25.5" lengthAdjust="spacingAndGlyphs">SELL</text>
<text x="178.5" y="59" font-size="12.6" fill="#fff" textLength="23.5" lengthAdjust="spacingAndGlyphs">BUY</text>
<text x="21.5" y="97.8" font-size="11.5" font-weight="bold" fill="#fff" textLength="20.5" lengthAdjust="spacingAndGlyphs">139</text>
<text x="45.7" y="97.8" font-size="35" fill="#fff" stroke="url(#gb2u)" stroke-width="0.3" paint-order="fill stroke" textLength="34.5" lengthAdjust="spacingAndGlyphs">17</text>
<text x="85.5" y="81.4" font-size="12.5" font-weight="bold" fill="#fff">7</text>
<text x="131.5" y="97.8" font-size="11.5" font-weight="bold" fill="#fff" textLength="20.5" lengthAdjust="spacingAndGlyphs">139</text>
<text x="156.7" y="97.8" font-size="35" fill="#fff" stroke="url(#gb2u)" stroke-width="0.3" paint-order="fill stroke" textLength="34.5" lengthAdjust="spacingAndGlyphs">35</text>
<text x="196" y="81.4" font-size="12.5" font-weight="bold" fill="#fff">6</text>
<g shape-rendering="crispEdges"><rect x="0" y="0" width="1732" height="19" fill="#f0f0f0"/><rect x="0" y="19" width="1732" height="1" fill="#a4a4a4"/><rect x="0" y="20" width="1732" height="1" fill="#696969"/><rect x="0" y="21" width="1732" height="2" fill="#fff"/></g>
<rect x="-1.5" y="-1.5" width="9.8" height="14.8" rx="1" fill="#fff" stroke="#2e78c8" stroke-width="1.4"/>
<g stroke="#c6d9f7" stroke-width="1"><line x1="0" y1="2" x2="7.5" y2="2"/><line x1="0" y1="4.4" x2="7.5" y2="4.4"/><line x1="0" y1="6.6" x2="7.5" y2="6.6"/><line x1="0" y1="8.6" x2="7.5" y2="8.6"/></g>
<rect x="21.5" y="-2" width="12" height="14" fill="#fafafa" stroke="#b8b0a0" stroke-width="1"/>
<path d="M24 2v5M24 4h3M31 1v4" stroke="#909090" stroke-width="1" fill="none"/>
<line x1="33.8" y1="12.2" x2="37.3" y2="15.6" stroke="#c8a020" stroke-width="3" stroke-linecap="butt"/>
<circle cx="29.3" cy="8" r="5" fill="#dcecf8" fill-opacity="0.9" stroke="#7ca4e0" stroke-width="1.1"/>
<rect x="27.5" y="5" width="3.2" height="4.5" fill="#9cb0c4" fill-opacity="0.75"/>
<rect x="46" y="0" width="1" height="17" fill="#a0a0a0" shape-rendering="crispEdges"/>
<path d="M56.5 -2v13.5h11V3l-3,-3.5z" fill="#fdfdfd" stroke="#8c8c8c" stroke-width="1"/>
<g stroke="#a0a0a0" stroke-width="1" shape-rendering="crispEdges"><line x1="59" y1="1.5" x2="62" y2="1.5"/><line x1="59" y1="4.5" x2="65" y2="4.5"/><line x1="59" y1="7.5" x2="63" y2="7.5"/></g>
<path d="M64.2 5.5h3.6v3.7h3.7v3.6h-3.7v3.7h-3.6v-3.7h-3.7v-3.6h3.7z" fill="#28d028" stroke="#0c8c0c" stroke-width="1"/>
<path d="M66 7v8M62 11h8" stroke="#78f078" stroke-width="1.2" fill="none"/>
<g fill="none" stroke="#000" stroke-width="1.0" stroke-linecap="square">
<polyline points="75.30,1.40 80.89,1.40"/>
<polyline points="75.05,4.57 81.15,4.57"/>
<polyline points="76.32,6.61 80.64,6.61"/>
<polyline points="78.35,4.57 78.35,10.16"/>
<polyline points="76.32,10.42 78.35,10.42"/>
<polyline points="75.30,8.64 76.45,7.49"/>
<polyline points="80.00,7.49 81.15,9.53"/>
<polyline points="76.95,2.41 77.34,3.56"/>
<polyline points="79.62,2.41 79.11,3.56"/>
<polyline points="82.16,1.40 85.21,0.89"/>
<polyline points="82.42,1.52 82.42,6.61 81.65,10.16"/>
<polyline points="82.42,4.57 86.99,4.57"/>
<polyline points="84.32,4.57 84.32,10.67"/>
<polyline points="88.64,0.51 90.29,2.29"/>
<polyline points="87.24,4.57 89.53,4.57 89.53,8.89 91.56,7.37"/>
<polyline points="91.31,1.40 98.68,1.40"/>
<polyline points="95.63,1.40 95.63,10.16"/>
<polyline points="92.33,10.42 95.63,10.42"/>
<polyline points="101.47,0.00 102.49,1.40"/>
<polyline points="107.57,0.00 106.55,1.40"/>
<polyline points="100.33,2.41 109.86,2.41 109.86,6.73 100.33,6.73 100.33,2.41"/>
<polyline points="100.33,4.57 109.86,4.57"/>
<polyline points="105.03,2.41 105.03,10.92"/>
<polyline points="99.18,8.51 110.87,8.51"/>
</g>
<path d="M129.5 -1.5 L139 7.3 L131.8 14 L123.5 8.5 Z" fill="#ecb838" stroke="#b07810" stroke-width="1"/>
<path d="M131.8 14 L139 7.3 L139.3 9 L132.2 15.8 L124 10.3 L123.5 8.5Z" fill="#c08818" stroke="#a06c10" stroke-width="0.6"/>
<path d="M126 7.5 L129.8 1.5" stroke="#f8e088" stroke-width="1.5"/>
<rect x="153.5" y="-1" width="10" height="10" fill="#2a8cf0" stroke="#1868c8" stroke-width="1"/>
<rect x="156" y="1" width="6" height="1.5" fill="#d0e8ff"/><rect x="156" y="4" width="6" height="1.5" fill="#d0e8ff"/>
<path d="M153.5 14.5 a3 3 0 0 1 0.5,-6 a3.8 3.8 0 0 1 7,-0.8 a3 3 0 0 1 5,2.5 a2.2 2.2 0 0 1 -1,4.3z" fill="#e8f0fa" stroke="#8aa4cc" stroke-width="1"/>
<g fill="none" stroke-width="1.2"><path d="M187.2 -0.5a7.5 7.5 0 0 0 0,15" stroke="#86a8e6"/><path d="M187.2 2.5a4.5 4.5 0 0 0 0,9" stroke="#4c84e0"/><path d="M187.2 -0.5a7.5 7.5 0 0 1 0,15" stroke="#84c894"/><path d="M187.2 2.5a4.5 4.5 0 0 1 0,9" stroke="#58b868"/></g>
<circle cx="187.2" cy="6.8" r="1.9" fill="#2060d8"/><rect x="186.4" y="7.5" width="1.7" height="7.3" fill="#20a830"/>
<path d="M206.5 4.5 q7.5 -4 15.5 0 q-7.5 3.5 -15.5 0z" fill="#48a0e8" stroke="#2878c8" stroke-width="0.8"/><path d="M211 3 q0.5 -4 1.5,-5 h3 q1,1 1.5,5z" fill="#58b0f0" stroke="#2878c8" stroke-width="0.8"/>
<path d="M207.5 6.5 L221 6.5 L216 13 L213.5 14.5 Z" fill="#f8d838" stroke="#d0a010" stroke-width="0.8"/>
<circle cx="218.8" cy="10.8" r="4" fill="#e02818"/><rect x="217.2" y="9.2" width="3.3" height="3.3" fill="#fff"/>
<g fill="none" stroke="#000" stroke-width="1.0" stroke-linecap="square">
<polyline points="231.44,-0.65 230.79,1.29"/>
<polyline points="228.53,1.45 237.26,1.45 237.26,10.83"/>
<polyline points="228.53,1.45 228.53,10.83"/>
<polyline points="228.53,3.88 237.26,3.88"/>
<polyline points="228.53,6.63 237.26,6.63"/>
<polyline points="228.53,9.54 237.26,9.54"/>
<polyline points="240.17,1.45 244.69,1.45"/>
<polyline points="239.52,4.20 245.02,4.20"/>
<polyline points="242.43,4.20 240.17,9.38 244.69,8.89"/>
<polyline points="243.72,6.95 245.02,9.70"/>
<polyline points="244.69,2.91 249.54,2.91 249.54,10.67 247.28,10.67"/>
<polyline points="247.28,-0.32 247.28,2.91 244.05,10.67"/>
<polyline points="256.65,-0.65 257.30,1.29"/>
<polyline points="251.48,2.42 262.80,2.42"/>
<polyline points="254.71,4.20 252.45,6.47"/>
<polyline points="259.56,4.20 261.83,6.47"/>
<polyline points="260.53,5.50 251.48,10.67"/>
<polyline points="254.07,6.14 262.47,10.67"/>
<polyline points="265.06,-0.65 265.06,4.20 272.82,4.20 272.82,-0.65"/>
<polyline points="265.06,1.78 272.82,1.78"/>
<polyline points="265.71,4.85 263.12,7.76"/>
<polyline points="265.71,6.14 273.79,6.14 273.79,10.67 270.56,10.67"/>
<polyline points="269.26,6.47 263.77,9.70"/>
<polyline points="271.85,6.47 267.00,10.67"/>
</g>
<rect x="282" y="0" width="1" height="19" fill="#c8c8c8" shape-rendering="crispEdges"/><rect x="283" y="0" width="1" height="19" fill="#fff" shape-rendering="crispEdges"/>
<g fill="#9a9a9a" shape-rendering="crispEdges"><rect x="286" y="1" width="3" height="1"/><rect x="286" y="3" width="3" height="1"/><rect x="286" y="5" width="3" height="1"/><rect x="286" y="7" width="3" height="1"/><rect x="286" y="9" width="3" height="1"/><rect x="286" y="11" width="3" height="1"/><rect x="286" y="13" width="3" height="1"/><rect x="286" y="15" width="3" height="1"/></g>
<g stroke="#505050" stroke-width="1" fill="#505050" shape-rendering="crispEdges"><line x1="300.5" y1="1" x2="300.5" y2="15"/><line x1="298" y1="12.5" x2="311" y2="12.5"/></g><polygon points="299,3.2 300.5,0.6 302,3.2" fill="#505050"/><polygon points="309.5,11 312,12.5 309.5,14" fill="#505050"/>
<path d="M306.5 2.5v7.5M306.5 3.5h2.5M304 9h2.5" stroke="#109010" stroke-width="1.2" fill="none" shape-rendering="crispEdges"/>
<rect x="320" y="0" width="1" height="17" fill="#a0a0a0" shape-rendering="crispEdges"/>
<rect x="322" y="0" width="24" height="17" fill="#f8f8f8" shape-rendering="crispEdges"/>
<g stroke="#505050" stroke-width="1" fill="#505050" shape-rendering="crispEdges"><line x1="328.5" y1="1" x2="328.5" y2="15"/><line x1="326" y1="12.5" x2="339" y2="12.5"/></g><polygon points="327,3.2 328.5,0.6 330,3.2" fill="#505050"/><polygon points="337.5,11 340,12.5 337.5,14" fill="#505050"/>
<line x1="334.5" y1="0" x2="334.5" y2="11" stroke="#108010" stroke-width="1" shape-rendering="crispEdges"/><rect x="332.5" y="1.5" width="4" height="7" fill="#20d040" stroke="#108010" stroke-width="1"/>
<g stroke="#505050" stroke-width="1" fill="#505050" shape-rendering="crispEdges"><line x1="356.5" y1="1" x2="356.5" y2="15"/><line x1="354" y1="12.5" x2="367" y2="12.5"/></g><polygon points="355,3.2 356.5,0.6 358,3.2" fill="#505050"/><polygon points="365.5,11 368,12.5 365.5,14" fill="#505050"/>
<path d="M355 10 q3 -6 6.5,-6 q2 0 5.5,4" stroke="#209030" stroke-width="1.3" fill="none"/>
<rect x="377" y="0" width="1" height="17" fill="#a0a0a0" shape-rendering="crispEdges"/>
<line x1="396" y1="9" x2="401" y2="14" stroke="#d0a830" stroke-width="2.6" stroke-linecap="round"/>
<circle cx="392" cy="4.8" r="5.3" fill="#d4e8fa" stroke="#4c8cd4" stroke-width="1.3"/>
<rect x="389" y="4" width="6" height="1.6" fill="#3c78c8"/>
<rect x="391.2" y="1.8" width="1.6" height="6" fill="#3c78c8"/>
<line x1="424" y1="9" x2="429" y2="14" stroke="#d0a830" stroke-width="2.6" stroke-linecap="round"/>
<circle cx="420" cy="4.8" r="5.3" fill="#d4e8fa" stroke="#4c8cd4" stroke-width="1.3"/>
<rect x="417" y="4" width="6" height="1.6" fill="#3c78c8"/>
<rect x="442" y="-1" width="7.5" height="7.5" fill="#40a030"/><rect x="443.2" y="2" width="5" height="3" fill="#f4f8ff"/>
<rect x="450.5" y="-1" width="7.5" height="7.5" fill="#2858d0"/><rect x="451.7" y="2" width="5" height="3" fill="#f4f8ff"/>
<rect x="442" y="7.5" width="7.5" height="7.5" fill="#2858d0"/><rect x="443.2" y="10.5" width="5" height="3" fill="#f4f8ff"/>
<rect x="450.5" y="7.5" width="7.5" height="7.5" fill="#40a030"/><rect x="451.7" y="10.5" width="5" height="3" fill="#f4f8ff"/>
<rect x="467" y="0" width="1" height="17" fill="#a0a0a0" shape-rendering="crispEdges"/>
<rect x="472" y="0" width="1" height="17" fill="#a0a0a0" shape-rendering="crispEdges"/>
<rect x="473" y="0" width="25" height="17" fill="#f8f8f8" shape-rendering="crispEdges"/>
<g stroke="#505050" stroke-width="1" fill="#505050" shape-rendering="crispEdges"><line x1="480.5" y1="1" x2="480.5" y2="15"/><line x1="478" y1="12.5" x2="491" y2="12.5"/></g><polygon points="479,3.2 480.5,0.6 482,3.2" fill="#505050"/><polygon points="489.5,11 492,12.5 489.5,14" fill="#505050"/>
<polygon points="485.5,3 485.5,10 489.5,6.5" fill="#f0fff0" stroke="#10a020" stroke-width="1"/>
<rect x="500" y="0" width="1" height="17" fill="#a0a0a0" shape-rendering="crispEdges"/>
<rect x="502" y="0" width="24" height="17" fill="#f8f8f8" shape-rendering="crispEdges"/>
<g stroke="#505050" stroke-width="1" fill="#505050" shape-rendering="crispEdges"><line x1="508.5" y1="1" x2="508.5" y2="15"/><line x1="506" y1="12.5" x2="519" y2="12.5"/></g><polygon points="507,3.2 508.5,0.6 510,3.2" fill="#505050"/><polygon points="517.5,11 520,12.5 517.5,14" fill="#505050"/>
<rect x="514" y="1" width="1" height="10" fill="#2060c0" shape-rendering="crispEdges"/><path d="M520 6.5h-4M518 4l-2.5 2.5 2.5 2.5" stroke="#d04010" stroke-width="1.2" fill="none"/>
<rect x="529" y="0" width="1" height="17" fill="#a0a0a0" shape-rendering="crispEdges"/>
<path d="M539.5 -2v13.5h11V3l-3,-3.5z" fill="#fdfdfd" stroke="#8c8c8c" stroke-width="1"/>
<path d="M542 4v5M542 6h3" stroke="#909090" stroke-width="1" fill="none"/>
<path d="M547.2 5.5h3.6v3.7h3.7v3.6h-3.7v3.7h-3.6v-3.7h-3.7v-3.6h3.7z" fill="#28d028" stroke="#0c8c0c" stroke-width="1"/>
<path d="M549 7v8M545 11h8" stroke="#78f078" stroke-width="1.2" fill="none"/>
<polygon points="561,6 567,6 564,9.5" fill="#000"/>
<circle cx="585" cy="6.8" r="6.7" fill="#f4f8ff" stroke="#1a62cc" stroke-width="2.5"/><path d="M585 2.5v4.5h3" stroke="#404040" stroke-width="1" fill="none"/>
<polygon points="600,6 606,6 603,9.5" fill="#000"/>
<rect x="616.5" y="-1" width="15" height="14.5" fill="#fff" stroke="#3c78c8" stroke-width="1"/><rect x="617" y="-1" width="14" height="3" fill="#4c8ce0"/>
<path d="M618 5.5l3 -1 3 1 3 -1.5 3 0.5" stroke="#c02010" stroke-width="1.1" fill="none"/><path d="M618 11l3 -1 2.5 1 3 -2 3 2" stroke="#20a030" stroke-width="1.1" fill="none"/><line x1="617" y1="7.5" x2="631" y2="7.5" stroke="#a8c0e8" stroke-width="1"/>
<polygon points="639,6 645,6 642,9.5" fill="#000"/>
<rect x="650" y="0" width="1" height="19" fill="#c0c0c0" shape-rendering="crispEdges"/><rect x="651" y="0" width="1" height="19" fill="#fff" shape-rendering="crispEdges"/>
<g fill="#9a9a9a" shape-rendering="crispEdges"><rect x="654" y="1" width="3" height="1"/><rect x="654" y="3" width="3" height="1"/><rect x="654" y="5" width="3" height="1"/><rect x="654" y="7" width="3" height="1"/><rect x="654" y="9" width="3" height="1"/><rect x="654" y="11" width="3" height="1"/><rect x="654" y="13" width="3" height="1"/><rect x="654" y="15" width="3" height="1"/></g>
<rect x="660" y="0" width="1" height="17" fill="#a0a0a0" shape-rendering="crispEdges"/>
<rect x="662" y="0" width="24" height="17" fill="#f8f8f8" shape-rendering="crispEdges"/>
<path d="M668 -2 L668 11 L671 8.2 L673.6 14 L675.6 13 L673 7.5 L677 7.2 Z" fill="#484848"/>
<g fill="#585858" shape-rendering="crispEdges"><rect x="700" y="0" width="1" height="15"/><rect x="693" y="7" width="15" height="1"/></g>
<rect x="717" y="0" width="1" height="17" fill="#a0a0a0" shape-rendering="crispEdges"/>
<g fill="#585858" shape-rendering="crispEdges"><rect x="734" y="1" width="1" height="13"/><rect x="757" y="7" width="12" height="1"/></g>
<line x1="785" y1="14" x2="797" y2="2" stroke="#585858" stroke-width="1.1"/>
<g stroke="#585858" stroke-width="1" fill="none"><path d="M811 9l12 -8M813 13l12 -8"/><path d="M813 7l2 6M816 5l2 6M819 3l2 6M822 1l2 5" stroke-width="0.8"/></g>
<text x="822.5" y="16" font-size="6.5" font-weight="bold" fill="#404040">E</text>
<g stroke="#606060" stroke-width="1" stroke-dasharray="1 1" shape-rendering="crispEdges"><line x1="840" y1="0.5" x2="853" y2="0.5"/><line x1="840" y1="3.5" x2="853" y2="3.5"/><line x1="840" y1="7.5" x2="853" y2="7.5"/><line x1="840" y1="11.5" x2="849" y2="11.5"/></g>
<text x="850" y="16" font-size="6.5" font-weight="bold" fill="#404040">F</text>
<text x="870.5" y="12" font-size="12.5" font-weight="bold" fill="#585858" textLength="9" lengthAdjust="spacingAndGlyphs">A</text>
<rect x="897.5" y="1.5" width="11" height="12" fill="none" stroke="#606060" stroke-width="1" stroke-dasharray="1 1" shape-rendering="crispEdges"/><text x="899.3" y="12" font-size="11" font-weight="bold" fill="#585858">T</text>
<g fill="#505050"><polygon points="924,3.5 927.5,0.5 931,3.5 927.5,6"/><polygon points="931,11 934.5,8 938,11 934.5,14"/></g><path d="M926 8.5l2.5 2.5 4.5 -6" stroke="#505050" stroke-width="1.2" fill="none"/>
<polygon points="945,6 951,6 948,9.5" fill="#000"/>
<rect x="956" y="0" width="1" height="19" fill="#b0b0b0" shape-rendering="crispEdges"/><rect x="957" y="0" width="1" height="19" fill="#fff" shape-rendering="crispEdges"/>
<g fill="#9a9a9a" shape-rendering="crispEdges"><rect x="960" y="1" width="3" height="1"/><rect x="960" y="3" width="3" height="1"/><rect x="960" y="5" width="3" height="1"/><rect x="960" y="7" width="3" height="1"/><rect x="960" y="9" width="3" height="1"/><rect x="960" y="11" width="3" height="1"/><rect x="960" y="13" width="3" height="1"/><rect x="960" y="15" width="3" height="1"/></g>
<rect x="1134" y="0" width="1" height="17" fill="#a0a0a0" shape-rendering="crispEdges"/>
<rect x="1135" y="0" width="24" height="17" fill="#f8f8f8" shape-rendering="crispEdges"/>
<text x="971.5" y="11" font-size="9.8" fill="#444" textLength="12.5" lengthAdjust="spacingAndGlyphs">M1</text>
<text x="999.5" y="11" font-size="9.8" fill="#444" textLength="12.5" lengthAdjust="spacingAndGlyphs">M5</text>
<text x="1025.5" y="11" font-size="9.8" fill="#444" textLength="17.5" lengthAdjust="spacingAndGlyphs">M15</text>
<text x="1053.7" y="11" font-size="9.8" fill="#444" textLength="17.5" lengthAdjust="spacingAndGlyphs">M30</text>
<text x="1084.5" y="11" font-size="9.8" fill="#444" textLength="11.5" lengthAdjust="spacingAndGlyphs">H1</text>
<text x="1111.5" y="11" font-size="9.8" fill="#444" textLength="12.5" lengthAdjust="spacingAndGlyphs">H4</text>
<text x="1140.5" y="11" font-size="9.8" fill="#444" textLength="11.5" lengthAdjust="spacingAndGlyphs">D1</text>
<text x="1168" y="11" font-size="9.8" fill="#444" textLength="14" lengthAdjust="spacingAndGlyphs">W1</text>
<text x="1194.5" y="11" font-size="9.8" fill="#444" textLength="15" lengthAdjust="spacingAndGlyphs">MN</text>
<rect x="1217" y="0" width="1" height="17" fill="#a0a0a0" shape-rendering="crispEdges"/>
<line x1="1684.3" y1="7.6" x2="1680.3" y2="11.7" stroke="#2860e0" stroke-width="2.2" stroke-linecap="round"/><circle cx="1687.6" cy="4.2" r="3.7" fill="#f4f6ff" stroke="#2458e0" stroke-width="1.4"/>
<g stroke="#a8a8a8" stroke-width="0.9"><ellipse cx="1720.5" cy="3.8" rx="6.3" ry="5.2" fill="#ececf0"/><path d="M1722 8.5l1.5 2.3 0.5-2.5z" fill="#777"/><ellipse cx="1711.3" cy="8" rx="5" ry="3.9" fill="#f2f2f6"/><path d="M1708.5 11.2l0.2 2.6 2.2-2.2z" fill="#777"/></g>
<rect x="1731" y="21" width="1" height="921" fill="#e8e8e8" shape-rendering="crispEdges"/>
</svg>
</body></html>
